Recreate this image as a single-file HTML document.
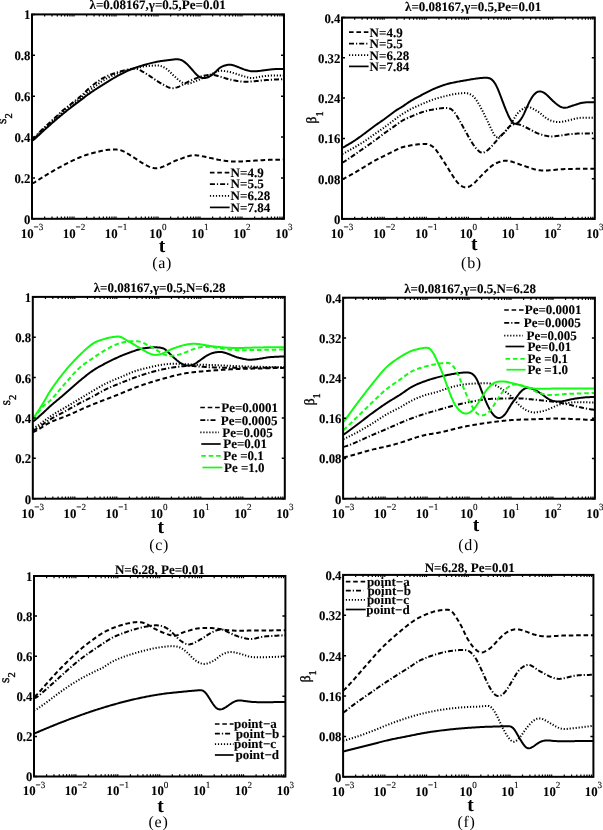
<!DOCTYPE html><html><head><meta charset="utf-8"><style>html,body{margin:0;padding:0;background:#fff;width:603px;height:830px;overflow:hidden}svg{display:block;filter:blur(0.45px)}text{text-rendering:geometricPrecision}</style></head><body>
<svg width="603" height="830" viewBox="0 0 603 830">
<style>.e{stroke:#000;stroke-width:0.1px;paint-order:stroke fill;stroke-linejoin:round}.e2{stroke:#000;stroke-width:0.35px;paint-order:stroke fill;stroke-linejoin:round}</style>
<rect width="603" height="830" fill="#fff"/>
<clipPath id="c0"><rect x="32.00" y="14.40" width="252.00" height="204.40"/></clipPath>
<g clip-path="url(#c0)">
<path d="M32.00 140.61 L33.00 140.14 L34.00 139.46 L35.00 138.63 L36.00 137.73 L37.00 136.79 L38.00 135.85 L39.00 134.91 L40.00 133.97 L41.00 133.03 L42.00 132.11 L43.00 131.19 L44.00 130.28 L45.00 129.37 L46.00 128.46 L47.00 127.56 L48.00 126.66 L49.00 125.77 L50.00 124.88 L51.00 124.00 L52.00 123.12 L53.00 122.25 L54.00 121.38 L55.00 120.52 L56.00 119.66 L57.00 118.81 L58.00 117.96 L59.00 117.12 L60.00 116.28 L61.00 115.45 L62.00 114.62 L63.00 113.80 L64.00 112.99 L65.00 112.18 L66.00 111.37 L67.00 110.57 L68.00 109.78 L69.00 108.99 L70.00 108.21 L71.00 107.43 L72.00 106.65 L73.00 105.89 L74.00 105.13 L75.00 104.37 L76.00 103.62 L77.00 102.88 L78.00 102.13 L79.00 101.39 L80.00 100.64 L81.00 99.89 L82.00 99.14 L83.00 98.37 L84.00 97.60 L85.00 96.82 L86.00 96.05 L87.00 95.29 L88.00 94.54 L89.00 93.82 L90.00 93.12 L91.00 92.43 L92.00 91.76 L93.00 91.09 L94.00 90.43 L95.00 89.78 L96.00 89.13 L97.00 88.49 L98.00 87.85 L99.00 87.21 L100.00 86.58 L101.00 85.95 L102.00 85.32 L103.00 84.69 L104.00 84.06 L105.00 83.43 L106.00 82.81 L107.00 82.18 L108.00 81.56 L109.00 80.94 L110.00 80.32 L111.00 79.71 L112.00 79.11 L113.00 78.51 L114.00 77.93 L115.00 77.35 L116.00 76.79 L117.00 76.23 L118.00 75.69 L119.00 75.15 L120.00 74.62 L121.00 74.09 L122.00 73.58 L123.00 73.07 L124.00 72.57 L125.00 72.09 L126.00 71.61 L127.00 71.15 L128.00 70.70 L129.00 70.26 L130.00 69.83 L131.00 69.42 L132.00 69.03 L133.00 68.64 L134.00 68.27 L135.00 67.91 L136.00 67.57 L137.00 67.23 L138.00 66.90 L139.00 66.57 L140.00 66.26 L141.00 65.94 L142.00 65.64 L143.00 65.33 L144.00 65.04 L145.00 64.74 L146.00 64.45 L147.00 64.17 L148.00 63.89 L149.00 63.62 L150.00 63.36 L151.00 63.11 L152.00 62.86 L153.00 62.63 L154.00 62.40 L155.00 62.18 L156.00 61.97 L157.00 61.78 L158.00 61.60 L159.00 61.42 L160.00 61.26 L161.00 61.11 L162.00 60.97 L163.00 60.83 L164.00 60.70 L165.00 60.57 L166.00 60.44 L167.00 60.32 L168.00 60.19 L169.00 60.07 L170.00 59.94 L171.00 59.81 L172.00 59.68 L173.00 59.55 L174.00 59.43 L175.00 59.34 L176.00 59.27 L177.00 59.25 L178.00 59.30 L179.00 59.42 L180.00 59.65 L181.00 59.98 L182.00 60.42 L183.00 60.97 L184.00 61.62 L185.00 62.37 L186.00 63.20 L187.00 64.10 L188.00 65.08 L189.00 66.11 L190.00 67.20 L191.00 68.33 L192.00 69.49 L193.00 70.65 L194.00 71.81 L195.00 72.95 L196.00 74.04 L197.00 75.02 L198.00 75.86 L199.00 76.56 L200.00 77.10 L201.00 77.52 L202.00 77.81 L203.00 77.99 L204.00 78.05 L205.00 77.99 L206.00 77.83 L207.00 77.57 L208.00 77.22 L209.00 76.77 L210.00 76.23 L211.00 75.59 L212.00 74.87 L213.00 74.07 L214.00 73.22 L215.00 72.31 L216.00 71.38 L217.00 70.43 L218.00 69.49 L219.00 68.60 L220.00 67.78 L221.00 67.10 L222.00 66.56 L223.00 66.13 L224.00 65.77 L225.00 65.46 L226.00 65.17 L227.00 64.93 L228.00 64.75 L229.00 64.64 L230.00 64.63 L231.00 64.72 L232.00 64.90 L233.00 65.16 L234.00 65.48 L235.00 65.84 L236.00 66.21 L237.00 66.60 L238.00 66.99 L239.00 67.39 L240.00 67.81 L241.00 68.24 L242.00 68.65 L243.00 69.05 L244.00 69.41 L245.00 69.73 L246.00 70.04 L247.00 70.32 L248.00 70.58 L249.00 70.81 L250.00 71.01 L251.00 71.16 L252.00 71.27 L253.00 71.33 L254.00 71.35 L255.00 71.33 L256.00 71.28 L257.00 71.20 L258.00 71.10 L259.00 70.99 L260.00 70.87 L261.00 70.74 L262.00 70.60 L263.00 70.46 L264.00 70.32 L265.00 70.19 L266.00 70.06 L267.00 69.93 L268.00 69.81 L269.00 69.68 L270.00 69.56 L271.00 69.44 L272.00 69.33 L273.00 69.23 L274.00 69.16 L275.00 69.11 L276.00 69.07 L277.00 69.06 L278.00 69.05 L279.00 69.05 L280.00 69.06 L281.00 69.07 L282.00 69.08 L283.00 69.09 L284.00 69.09" fill="none" stroke="#000" stroke-width="2.00"  stroke-linejoin="round"/>
<path d="M32.00 139.38 L33.00 138.72 L34.00 137.84 L35.00 136.85 L36.00 135.81 L37.00 134.78 L38.00 133.74 L39.00 132.72 L40.00 131.70 L41.00 130.71 L42.00 129.73 L43.00 128.77 L44.00 127.83 L45.00 126.91 L46.00 126.00 L47.00 125.10 L48.00 124.21 L49.00 123.32 L50.00 122.42 L51.00 121.51 L52.00 120.59 L53.00 119.66 L54.00 118.71 L55.00 117.76 L56.00 116.80 L57.00 115.85 L58.00 114.90 L59.00 113.96 L60.00 113.03 L61.00 112.12 L62.00 111.24 L63.00 110.38 L64.00 109.54 L65.00 108.71 L66.00 107.90 L67.00 107.10 L68.00 106.31 L69.00 105.52 L70.00 104.73 L71.00 103.94 L72.00 103.14 L73.00 102.35 L74.00 101.57 L75.00 100.78 L76.00 100.00 L77.00 99.21 L78.00 98.42 L79.00 97.62 L80.00 96.80 L81.00 95.95 L82.00 95.08 L83.00 94.17 L84.00 93.22 L85.00 92.25 L86.00 91.26 L87.00 90.27 L88.00 89.31 L89.00 88.38 L90.00 87.49 L91.00 86.64 L92.00 85.81 L93.00 85.02 L94.00 84.23 L95.00 83.47 L96.00 82.72 L97.00 81.99 L98.00 81.28 L99.00 80.59 L100.00 79.92 L101.00 79.29 L102.00 78.68 L103.00 78.10 L104.00 77.56 L105.00 77.05 L106.00 76.57 L107.00 76.11 L108.00 75.68 L109.00 75.27 L110.00 74.87 L111.00 74.50 L112.00 74.13 L113.00 73.78 L114.00 73.44 L115.00 73.10 L116.00 72.77 L117.00 72.45 L118.00 72.14 L119.00 71.84 L120.00 71.56 L121.00 71.28 L122.00 71.01 L123.00 70.76 L124.00 70.51 L125.00 70.27 L126.00 70.03 L127.00 69.80 L128.00 69.58 L129.00 69.37 L130.00 69.16 L131.00 68.96 L132.00 68.78 L133.00 68.63 L134.00 68.54 L135.00 68.55 L136.00 68.66 L137.00 68.89 L138.00 69.22 L139.00 69.65 L140.00 70.15 L141.00 70.70 L142.00 71.26 L143.00 71.84 L144.00 72.41 L145.00 73.00 L146.00 73.59 L147.00 74.20 L148.00 74.82 L149.00 75.47 L150.00 76.12 L151.00 76.80 L152.00 77.50 L153.00 78.20 L154.00 78.91 L155.00 79.60 L156.00 80.27 L157.00 80.93 L158.00 81.56 L159.00 82.17 L160.00 82.77 L161.00 83.36 L162.00 83.93 L163.00 84.49 L164.00 85.03 L165.00 85.57 L166.00 86.09 L167.00 86.59 L168.00 87.06 L169.00 87.49 L170.00 87.85 L171.00 88.10 L172.00 88.22 L173.00 88.20 L174.00 88.07 L175.00 87.88 L176.00 87.63 L177.00 87.34 L178.00 87.00 L179.00 86.62 L180.00 86.20 L181.00 85.73 L182.00 85.22 L183.00 84.68 L184.00 84.13 L185.00 83.56 L186.00 82.99 L187.00 82.44 L188.00 81.90 L189.00 81.38 L190.00 80.88 L191.00 80.41 L192.00 79.97 L193.00 79.53 L194.00 79.12 L195.00 78.71 L196.00 78.31 L197.00 77.93 L198.00 77.56 L199.00 77.20 L200.00 76.86 L201.00 76.53 L202.00 76.24 L203.00 75.98 L204.00 75.76 L205.00 75.56 L206.00 75.37 L207.00 75.20 L208.00 75.04 L209.00 74.91 L210.00 74.80 L211.00 74.75 L212.00 74.75 L213.00 74.82 L214.00 74.95 L215.00 75.15 L216.00 75.41 L217.00 75.69 L218.00 75.99 L219.00 76.29 L220.00 76.59 L221.00 76.89 L222.00 77.20 L223.00 77.51 L224.00 77.82 L225.00 78.13 L226.00 78.43 L227.00 78.72 L228.00 79.00 L229.00 79.26 L230.00 79.51 L231.00 79.74 L232.00 79.96 L233.00 80.18 L234.00 80.38 L235.00 80.58 L236.00 80.77 L237.00 80.94 L238.00 81.11 L239.00 81.25 L240.00 81.39 L241.00 81.50 L242.00 81.59 L243.00 81.66 L244.00 81.70 L245.00 81.72 L246.00 81.72 L247.00 81.69 L248.00 81.65 L249.00 81.60 L250.00 81.54 L251.00 81.48 L252.00 81.41 L253.00 81.34 L254.00 81.26 L255.00 81.17 L256.00 81.08 L257.00 80.98 L258.00 80.88 L259.00 80.77 L260.00 80.67 L261.00 80.57 L262.00 80.47 L263.00 80.37 L264.00 80.27 L265.00 80.18 L266.00 80.10 L267.00 80.02 L268.00 79.95 L269.00 79.88 L270.00 79.82 L271.00 79.76 L272.00 79.70 L273.00 79.65 L274.00 79.59 L275.00 79.54 L276.00 79.49 L277.00 79.44 L278.00 79.39 L279.00 79.34 L280.00 79.29 L281.00 79.25 L282.00 79.20 L283.00 79.16 L284.00 79.13" fill="none" stroke="#000" stroke-width="2.00" stroke-dasharray="5 2 1.2 2" stroke-linejoin="round"/>
<path d="M32.00 139.90 L33.00 139.26 L34.00 138.41 L35.00 137.44 L36.00 136.43 L37.00 135.42 L38.00 134.42 L39.00 133.43 L40.00 132.44 L41.00 131.47 L42.00 130.53 L43.00 129.60 L44.00 128.68 L45.00 127.79 L46.00 126.91 L47.00 126.04 L48.00 125.17 L49.00 124.31 L50.00 123.45 L51.00 122.58 L52.00 121.70 L53.00 120.83 L54.00 119.94 L55.00 119.06 L56.00 118.17 L57.00 117.28 L58.00 116.40 L59.00 115.52 L60.00 114.65 L61.00 113.78 L62.00 112.92 L63.00 112.07 L64.00 111.22 L65.00 110.37 L66.00 109.53 L67.00 108.70 L68.00 107.88 L69.00 107.06 L70.00 106.25 L71.00 105.45 L72.00 104.66 L73.00 103.89 L74.00 103.13 L75.00 102.38 L76.00 101.64 L77.00 100.91 L78.00 100.17 L79.00 99.43 L80.00 98.67 L81.00 97.90 L82.00 97.11 L83.00 96.29 L84.00 95.45 L85.00 94.59 L86.00 93.72 L87.00 92.85 L88.00 91.99 L89.00 91.15 L90.00 90.32 L91.00 89.51 L92.00 88.72 L93.00 87.94 L94.00 87.16 L95.00 86.38 L96.00 85.62 L97.00 84.87 L98.00 84.13 L99.00 83.40 L100.00 82.70 L101.00 82.01 L102.00 81.35 L103.00 80.71 L104.00 80.10 L105.00 79.51 L106.00 78.94 L107.00 78.39 L108.00 77.86 L109.00 77.34 L110.00 76.84 L111.00 76.36 L112.00 75.88 L113.00 75.42 L114.00 74.98 L115.00 74.54 L116.00 74.12 L117.00 73.71 L118.00 73.32 L119.00 72.95 L120.00 72.58 L121.00 72.24 L122.00 71.90 L123.00 71.58 L124.00 71.27 L125.00 70.97 L126.00 70.67 L127.00 70.39 L128.00 70.10 L129.00 69.82 L130.00 69.55 L131.00 69.28 L132.00 69.02 L133.00 68.76 L134.00 68.50 L135.00 68.26 L136.00 68.02 L137.00 67.79 L138.00 67.57 L139.00 67.36 L140.00 67.16 L141.00 66.97 L142.00 66.80 L143.00 66.63 L144.00 66.48 L145.00 66.35 L146.00 66.22 L147.00 66.11 L148.00 66.01 L149.00 65.91 L150.00 65.83 L151.00 65.75 L152.00 65.67 L153.00 65.60 L154.00 65.54 L155.00 65.48 L156.00 65.43 L157.00 65.40 L158.00 65.43 L159.00 65.55 L160.00 65.77 L161.00 66.07 L162.00 66.43 L163.00 66.85 L164.00 67.33 L165.00 67.88 L166.00 68.54 L167.00 69.29 L168.00 70.14 L169.00 71.07 L170.00 72.03 L171.00 73.01 L172.00 73.98 L173.00 74.93 L174.00 75.88 L175.00 76.81 L176.00 77.72 L177.00 78.60 L178.00 79.46 L179.00 80.29 L180.00 81.09 L181.00 81.84 L182.00 82.50 L183.00 83.05 L184.00 83.46 L185.00 83.73 L186.00 83.86 L187.00 83.86 L188.00 83.76 L189.00 83.57 L190.00 83.32 L191.00 83.02 L192.00 82.68 L193.00 82.30 L194.00 81.90 L195.00 81.49 L196.00 81.06 L197.00 80.62 L198.00 80.19 L199.00 79.75 L200.00 79.31 L201.00 78.87 L202.00 78.43 L203.00 77.99 L204.00 77.53 L205.00 77.08 L206.00 76.63 L207.00 76.17 L208.00 75.72 L209.00 75.26 L210.00 74.82 L211.00 74.38 L212.00 73.95 L213.00 73.51 L214.00 73.05 L215.00 72.57 L216.00 72.06 L217.00 71.59 L218.00 71.22 L219.00 70.98 L220.00 70.86 L221.00 70.83 L222.00 70.86 L223.00 70.92 L224.00 71.01 L225.00 71.13 L226.00 71.28 L227.00 71.44 L228.00 71.62 L229.00 71.83 L230.00 72.05 L231.00 72.30 L232.00 72.57 L233.00 72.85 L234.00 73.15 L235.00 73.47 L236.00 73.79 L237.00 74.11 L238.00 74.44 L239.00 74.77 L240.00 75.10 L241.00 75.43 L242.00 75.75 L243.00 76.06 L244.00 76.36 L245.00 76.66 L246.00 76.96 L247.00 77.25 L248.00 77.52 L249.00 77.73 L250.00 77.88 L251.00 77.95 L252.00 77.95 L253.00 77.90 L254.00 77.81 L255.00 77.69 L256.00 77.54 L257.00 77.38 L258.00 77.21 L259.00 77.03 L260.00 76.85 L261.00 76.68 L262.00 76.51 L263.00 76.34 L264.00 76.19 L265.00 76.06 L266.00 75.94 L267.00 75.84 L268.00 75.76 L269.00 75.69 L270.00 75.64 L271.00 75.60 L272.00 75.56 L273.00 75.53 L274.00 75.51 L275.00 75.49 L276.00 75.47 L277.00 75.46 L278.00 75.45 L279.00 75.44 L280.00 75.44 L281.00 75.43 L282.00 75.42 L283.00 75.41 L284.00 75.41" fill="none" stroke="#000" stroke-width="2.00" stroke-dasharray="1.2 1.8" stroke-linejoin="round"/>
<path d="M32.00 183.45 L33.00 183.09 L34.00 182.60 L35.00 182.03 L36.00 181.41 L37.00 180.78 L38.00 180.15 L39.00 179.52 L40.00 178.89 L41.00 178.26 L42.00 177.64 L43.00 177.01 L44.00 176.40 L45.00 175.79 L46.00 175.18 L47.00 174.58 L48.00 173.98 L49.00 173.38 L50.00 172.79 L51.00 172.20 L52.00 171.61 L53.00 171.03 L54.00 170.45 L55.00 169.87 L56.00 169.30 L57.00 168.74 L58.00 168.18 L59.00 167.63 L60.00 167.08 L61.00 166.54 L62.00 166.00 L63.00 165.46 L64.00 164.93 L65.00 164.41 L66.00 163.89 L67.00 163.37 L68.00 162.87 L69.00 162.37 L70.00 161.88 L71.00 161.39 L72.00 160.91 L73.00 160.44 L74.00 159.97 L75.00 159.51 L76.00 159.05 L77.00 158.60 L78.00 158.15 L79.00 157.72 L80.00 157.29 L81.00 156.88 L82.00 156.48 L83.00 156.09 L84.00 155.71 L85.00 155.35 L86.00 155.01 L87.00 154.69 L88.00 154.37 L89.00 154.08 L90.00 153.79 L91.00 153.52 L92.00 153.25 L93.00 152.99 L94.00 152.74 L95.00 152.50 L96.00 152.25 L97.00 152.01 L98.00 151.77 L99.00 151.53 L100.00 151.29 L101.00 151.06 L102.00 150.83 L103.00 150.62 L104.00 150.41 L105.00 150.23 L106.00 150.07 L107.00 149.94 L108.00 149.82 L109.00 149.73 L110.00 149.65 L111.00 149.59 L112.00 149.54 L113.00 149.51 L114.00 149.49 L115.00 149.50 L116.00 149.52 L117.00 149.58 L118.00 149.68 L119.00 149.83 L120.00 150.04 L121.00 150.33 L122.00 150.69 L123.00 151.12 L124.00 151.60 L125.00 152.12 L126.00 152.66 L127.00 153.22 L128.00 153.81 L129.00 154.42 L130.00 155.04 L131.00 155.66 L132.00 156.30 L133.00 156.94 L134.00 157.59 L135.00 158.24 L136.00 158.90 L137.00 159.57 L138.00 160.25 L139.00 160.93 L140.00 161.60 L141.00 162.25 L142.00 162.87 L143.00 163.47 L144.00 164.04 L145.00 164.60 L146.00 165.13 L147.00 165.64 L148.00 166.12 L149.00 166.56 L150.00 166.97 L151.00 167.33 L152.00 167.64 L153.00 167.90 L154.00 168.10 L155.00 168.22 L156.00 168.26 L157.00 168.22 L158.00 168.10 L159.00 167.92 L160.00 167.67 L161.00 167.38 L162.00 167.04 L163.00 166.68 L164.00 166.28 L165.00 165.87 L166.00 165.42 L167.00 164.94 L168.00 164.44 L169.00 163.92 L170.00 163.39 L171.00 162.86 L172.00 162.34 L173.00 161.85 L174.00 161.38 L175.00 160.94 L176.00 160.53 L177.00 160.15 L178.00 159.79 L179.00 159.44 L180.00 159.10 L181.00 158.74 L182.00 158.37 L183.00 157.97 L184.00 157.55 L185.00 157.13 L186.00 156.75 L187.00 156.42 L188.00 156.15 L189.00 155.93 L190.00 155.74 L191.00 155.58 L192.00 155.45 L193.00 155.35 L194.00 155.30 L195.00 155.28 L196.00 155.31 L197.00 155.38 L198.00 155.49 L199.00 155.63 L200.00 155.79 L201.00 155.97 L202.00 156.17 L203.00 156.38 L204.00 156.60 L205.00 156.82 L206.00 157.05 L207.00 157.27 L208.00 157.49 L209.00 157.71 L210.00 157.92 L211.00 158.13 L212.00 158.35 L213.00 158.57 L214.00 158.80 L215.00 159.02 L216.00 159.24 L217.00 159.46 L218.00 159.66 L219.00 159.86 L220.00 160.04 L221.00 160.21 L222.00 160.37 L223.00 160.52 L224.00 160.66 L225.00 160.79 L226.00 160.92 L227.00 161.04 L228.00 161.15 L229.00 161.25 L230.00 161.34 L231.00 161.42 L232.00 161.48 L233.00 161.53 L234.00 161.57 L235.00 161.59 L236.00 161.59 L237.00 161.58 L238.00 161.56 L239.00 161.53 L240.00 161.49 L241.00 161.44 L242.00 161.38 L243.00 161.32 L244.00 161.26 L245.00 161.20 L246.00 161.13 L247.00 161.06 L248.00 161.00 L249.00 160.94 L250.00 160.88 L251.00 160.82 L252.00 160.76 L253.00 160.71 L254.00 160.65 L255.00 160.59 L256.00 160.53 L257.00 160.48 L258.00 160.42 L259.00 160.36 L260.00 160.30 L261.00 160.24 L262.00 160.18 L263.00 160.13 L264.00 160.08 L265.00 160.03 L266.00 159.98 L267.00 159.94 L268.00 159.90 L269.00 159.87 L270.00 159.84 L271.00 159.81 L272.00 159.79 L273.00 159.76 L274.00 159.74 L275.00 159.73 L276.00 159.71 L277.00 159.69 L278.00 159.68 L279.00 159.67 L280.00 159.65 L281.00 159.64 L282.00 159.63 L283.00 159.62 L284.00 159.61" fill="none" stroke="#000" stroke-width="2.00" stroke-dasharray="4.6 2.8" stroke-linejoin="round"/>
</g>
<path d="M44.64 218.80 V216.60 M44.64 14.40 V16.60 M52.04 218.80 V216.60 M52.04 14.40 V16.60 M57.29 218.80 V216.60 M57.29 14.40 V16.60 M61.36 218.80 V216.60 M61.36 14.40 V16.60 M64.68 218.80 V216.60 M64.68 14.40 V16.60 M67.49 218.80 V216.60 M67.49 14.40 V16.60 M69.93 218.80 V216.60 M69.93 14.40 V16.60 M72.08 218.80 V216.60 M72.08 14.40 V16.60 M74.00 218.80 V216.60 M74.00 14.40 V16.60 M86.64 218.80 V216.60 M86.64 14.40 V16.60 M94.04 218.80 V216.60 M94.04 14.40 V16.60 M99.29 218.80 V216.60 M99.29 14.40 V16.60 M103.36 218.80 V216.60 M103.36 14.40 V16.60 M106.68 218.80 V216.60 M106.68 14.40 V16.60 M109.49 218.80 V216.60 M109.49 14.40 V16.60 M111.93 218.80 V216.60 M111.93 14.40 V16.60 M114.08 218.80 V216.60 M114.08 14.40 V16.60 M116.00 218.80 V216.60 M116.00 14.40 V16.60 M128.64 218.80 V216.60 M128.64 14.40 V16.60 M136.04 218.80 V216.60 M136.04 14.40 V16.60 M141.29 218.80 V216.60 M141.29 14.40 V16.60 M145.36 218.80 V216.60 M145.36 14.40 V16.60 M148.68 218.80 V216.60 M148.68 14.40 V16.60 M151.49 218.80 V216.60 M151.49 14.40 V16.60 M153.93 218.80 V216.60 M153.93 14.40 V16.60 M156.08 218.80 V216.60 M156.08 14.40 V16.60 M158.00 218.80 V216.60 M158.00 14.40 V16.60 M170.64 218.80 V216.60 M170.64 14.40 V16.60 M178.04 218.80 V216.60 M178.04 14.40 V16.60 M183.29 218.80 V216.60 M183.29 14.40 V16.60 M187.36 218.80 V216.60 M187.36 14.40 V16.60 M190.68 218.80 V216.60 M190.68 14.40 V16.60 M193.49 218.80 V216.60 M193.49 14.40 V16.60 M195.93 218.80 V216.60 M195.93 14.40 V16.60 M198.08 218.80 V216.60 M198.08 14.40 V16.60 M200.00 218.80 V216.60 M200.00 14.40 V16.60 M212.64 218.80 V216.60 M212.64 14.40 V16.60 M220.04 218.80 V216.60 M220.04 14.40 V16.60 M225.29 218.80 V216.60 M225.29 14.40 V16.60 M229.36 218.80 V216.60 M229.36 14.40 V16.60 M232.68 218.80 V216.60 M232.68 14.40 V16.60 M235.49 218.80 V216.60 M235.49 14.40 V16.60 M237.93 218.80 V216.60 M237.93 14.40 V16.60 M240.08 218.80 V216.60 M240.08 14.40 V16.60 M242.00 218.80 V216.60 M242.00 14.40 V16.60 M254.64 218.80 V216.60 M254.64 14.40 V16.60 M262.04 218.80 V216.60 M262.04 14.40 V16.60 M267.29 218.80 V216.60 M267.29 14.40 V16.60 M271.36 218.80 V216.60 M271.36 14.40 V16.60 M274.68 218.80 V216.60 M274.68 14.40 V16.60 M277.49 218.80 V216.60 M277.49 14.40 V16.60 M279.93 218.80 V216.60 M279.93 14.40 V16.60 M282.08 218.80 V216.60 M282.08 14.40 V16.60" stroke="#000" stroke-width="1.2" fill="none"/>
<path d="M32.00 218.80 H35.00 M284.00 218.80 H281.00 M32.00 177.92 H35.00 M284.00 177.92 H281.00 M32.00 137.04 H35.00 M284.00 137.04 H281.00 M32.00 96.16 H35.00 M284.00 96.16 H281.00 M32.00 55.28 H35.00 M284.00 55.28 H281.00 M32.00 14.40 H35.00 M284.00 14.40 H281.00" stroke="#000" stroke-width="1.5" fill="none"/>
<rect x="32.00" y="14.40" width="252.00" height="204.40" fill="none" stroke="#000" stroke-width="2.00"/>
<text transform="translate(30.40 223.70) scale(0.970 1)" text-anchor="end" font-family='"Liberation Serif", serif' font-weight="bold" class="e" font-size="13.2">0</text>
<text transform="translate(30.40 182.82) scale(0.970 1)" text-anchor="end" font-family='"Liberation Serif", serif' font-weight="bold" class="e" font-size="13.2">0.2</text>
<text transform="translate(30.40 141.94) scale(0.970 1)" text-anchor="end" font-family='"Liberation Serif", serif' font-weight="bold" class="e" font-size="13.2">0.4</text>
<text transform="translate(30.40 101.06) scale(0.970 1)" text-anchor="end" font-family='"Liberation Serif", serif' font-weight="bold" class="e" font-size="13.2">0.6</text>
<text transform="translate(30.40 60.18) scale(0.970 1)" text-anchor="end" font-family='"Liberation Serif", serif' font-weight="bold" class="e" font-size="13.2">0.8</text>
<text transform="translate(30.40 19.30) scale(0.970 1)" text-anchor="end" font-family='"Liberation Serif", serif' font-weight="bold" class="e" font-size="13.2">1</text>
<text transform="translate(32.00 237.60) scale(0.970 1)" text-anchor="middle" font-family='"Liberation Serif", serif' font-weight="bold" class="e" font-size="13.2">10<tspan dy="-7.6" font-size="9.4" font-weight="normal">−3</tspan></text>
<text transform="translate(74.00 237.60) scale(0.970 1)" text-anchor="middle" font-family='"Liberation Serif", serif' font-weight="bold" class="e" font-size="13.2">10<tspan dy="-7.6" font-size="9.4" font-weight="normal">−2</tspan></text>
<text transform="translate(116.00 237.60) scale(0.970 1)" text-anchor="middle" font-family='"Liberation Serif", serif' font-weight="bold" class="e" font-size="13.2">10<tspan dy="-7.6" font-size="9.4" font-weight="normal">−1</tspan></text>
<text transform="translate(158.00 237.60) scale(0.970 1)" text-anchor="middle" font-family='"Liberation Serif", serif' font-weight="bold" class="e" font-size="13.2">10<tspan dy="-7.6" font-size="9.4" font-weight="normal">0</tspan></text>
<text transform="translate(200.00 237.60) scale(0.970 1)" text-anchor="middle" font-family='"Liberation Serif", serif' font-weight="bold" class="e" font-size="13.2">10<tspan dy="-7.6" font-size="9.4" font-weight="normal">1</tspan></text>
<text transform="translate(242.00 237.60) scale(0.970 1)" text-anchor="middle" font-family='"Liberation Serif", serif' font-weight="bold" class="e" font-size="13.2">10<tspan dy="-7.6" font-size="9.4" font-weight="normal">2</tspan></text>
<text transform="translate(284.00 237.60) scale(0.970 1)" text-anchor="middle" font-family='"Liberation Serif", serif' font-weight="bold" class="e" font-size="13.2">10<tspan dy="-7.6" font-size="9.4" font-weight="normal">3</tspan></text>
<text x="157.60" y="8.60" text-anchor="middle" font-family='"Liberation Serif", serif' font-weight="bold" class="e" font-size="13.0">λ=0.08167,γ=0.5,Pe=0.01</text>
<text x="161.90" y="252.20" text-anchor="middle" font-family='"Liberation Serif", serif' font-weight="bold" font-size="19.5">t</text>
<text x="162.20" y="267.50" text-anchor="middle" letter-spacing="0.7" font-family='"Liberation Serif", serif' font-size="16.0">(a)</text>
<text transform="translate(5.80 123.90) rotate(-90)" x="0" y="0" class="e2" font-family='"Liberation Serif", serif' font-size="14.0">s<tspan dy="6.2" font-size="10.5">2</tspan></text>
<path d="M209.90 172.60 H229.60" fill="none" stroke="#000" stroke-width="1.70" stroke-dasharray="4.6 2.8" stroke-linejoin="round"/>
<text x="230.60" y="176.80" font-family='"Liberation Serif", serif' font-weight="bold" class="e" font-size="13.0">N=4.9</text>
<path d="M209.90 184.20 H229.60" fill="none" stroke="#000" stroke-width="1.70" stroke-dasharray="5 2 1.2 2" stroke-linejoin="round"/>
<text x="230.60" y="188.40" font-family='"Liberation Serif", serif' font-weight="bold" class="e" font-size="13.0">N=5.5</text>
<path d="M209.90 195.80 H229.60" fill="none" stroke="#000" stroke-width="1.70" stroke-dasharray="1.2 1.8" stroke-linejoin="round"/>
<text x="230.60" y="200.00" font-family='"Liberation Serif", serif' font-weight="bold" class="e" font-size="13.0">N=6.28</text>
<path d="M209.90 207.40 H229.60" fill="none" stroke="#000" stroke-width="1.70"  stroke-linejoin="round"/>
<text x="230.60" y="211.60" font-family='"Liberation Serif", serif' font-weight="bold" class="e" font-size="13.0">N=7.84</text>
<clipPath id="c1"><rect x="342.00" y="17.60" width="252.80" height="201.30"/></clipPath>
<g clip-path="url(#c1)">
<path d="M342.20 147.66 L343.20 147.30 L344.20 146.83 L345.20 146.29 L346.20 145.72 L347.20 145.15 L348.20 144.57 L349.20 143.99 L350.20 143.39 L351.20 142.78 L352.20 142.16 L353.20 141.52 L354.20 140.87 L355.20 140.21 L356.20 139.53 L357.20 138.84 L358.20 138.14 L359.20 137.44 L360.20 136.73 L361.20 136.01 L362.20 135.29 L363.20 134.56 L364.20 133.82 L365.20 133.08 L366.20 132.32 L367.20 131.56 L368.20 130.79 L369.20 130.02 L370.20 129.25 L371.20 128.49 L372.20 127.73 L373.20 126.97 L374.20 126.24 L375.20 125.51 L376.20 124.80 L377.20 124.09 L378.20 123.40 L379.20 122.71 L380.20 122.02 L381.20 121.34 L382.20 120.65 L383.20 119.95 L384.20 119.24 L385.20 118.53 L386.20 117.80 L387.20 117.06 L388.20 116.31 L389.20 115.55 L390.20 114.79 L391.20 114.03 L392.20 113.27 L393.20 112.51 L394.20 111.77 L395.20 111.04 L396.20 110.35 L397.20 109.69 L398.20 109.08 L399.20 108.50 L400.20 107.93 L401.20 107.34 L402.20 106.72 L403.20 106.06 L404.20 105.38 L405.20 104.68 L406.20 103.98 L407.20 103.28 L408.20 102.60 L409.20 101.94 L410.20 101.30 L411.20 100.69 L412.20 100.10 L413.20 99.53 L414.20 98.97 L415.20 98.42 L416.20 97.89 L417.20 97.36 L418.20 96.83 L419.20 96.31 L420.20 95.78 L421.20 95.26 L422.20 94.73 L423.20 94.21 L424.20 93.68 L425.20 93.15 L426.20 92.63 L427.20 92.11 L428.20 91.59 L429.20 91.09 L430.20 90.60 L431.20 90.12 L432.20 89.65 L433.20 89.20 L434.20 88.76 L435.20 88.33 L436.20 87.90 L437.20 87.49 L438.20 87.10 L439.20 86.71 L440.20 86.33 L441.20 85.97 L442.20 85.62 L443.20 85.28 L444.20 84.96 L445.20 84.65 L446.20 84.36 L447.20 84.08 L448.20 83.82 L449.20 83.56 L450.20 83.32 L451.20 83.08 L452.20 82.85 L453.20 82.63 L454.20 82.41 L455.20 82.20 L456.20 82.00 L457.20 81.80 L458.20 81.61 L459.20 81.43 L460.20 81.26 L461.20 81.08 L462.20 80.91 L463.20 80.74 L464.20 80.57 L465.20 80.40 L466.20 80.23 L467.20 80.05 L468.20 79.88 L469.20 79.71 L470.20 79.53 L471.20 79.36 L472.20 79.19 L473.20 79.03 L474.20 78.87 L475.20 78.72 L476.20 78.58 L477.20 78.45 L478.20 78.33 L479.20 78.21 L480.20 78.11 L481.20 78.02 L482.20 77.93 L483.20 77.86 L484.20 77.79 L485.20 77.74 L486.20 77.73 L487.20 77.78 L488.20 77.91 L489.20 78.16 L490.20 78.55 L491.20 79.14 L492.20 79.95 L493.20 80.99 L494.20 82.27 L495.20 83.78 L496.20 85.56 L497.20 87.63 L498.20 89.93 L499.20 92.41 L500.20 94.99 L501.20 97.63 L502.20 100.29 L503.20 102.96 L504.20 105.59 L505.20 108.14 L506.20 110.61 L507.20 112.97 L508.20 115.20 L509.20 117.28 L510.20 119.15 L511.20 120.76 L512.20 122.08 L513.20 123.04 L514.20 123.62 L515.20 123.82 L516.20 123.65 L517.20 123.16 L518.20 122.42 L519.20 121.45 L520.20 120.25 L521.20 118.83 L522.20 117.21 L523.20 115.38 L524.20 113.37 L525.20 111.19 L526.20 108.91 L527.20 106.62 L528.20 104.40 L529.20 102.32 L530.20 100.39 L531.20 98.62 L532.20 97.03 L533.20 95.63 L534.20 94.44 L535.20 93.44 L536.20 92.62 L537.20 92.01 L538.20 91.61 L539.20 91.43 L540.20 91.44 L541.20 91.60 L542.20 91.89 L543.20 92.32 L544.20 92.87 L545.20 93.56 L546.20 94.37 L547.20 95.29 L548.20 96.27 L549.20 97.29 L550.20 98.30 L551.20 99.30 L552.20 100.26 L553.20 101.19 L554.20 102.08 L555.20 102.95 L556.20 103.78 L557.20 104.57 L558.20 105.30 L559.20 105.95 L560.20 106.53 L561.20 107.02 L562.20 107.40 L563.20 107.65 L564.20 107.76 L565.20 107.75 L566.20 107.63 L567.20 107.42 L568.20 107.14 L569.20 106.82 L570.20 106.48 L571.20 106.14 L572.20 105.80 L573.20 105.47 L574.20 105.15 L575.20 104.83 L576.20 104.51 L577.20 104.18 L578.20 103.87 L579.20 103.57 L580.20 103.29 L581.20 103.05 L582.20 102.84 L583.20 102.66 L584.20 102.53 L585.20 102.44 L586.20 102.37 L587.20 102.33 L588.20 102.30 L589.20 102.29 L590.20 102.28 L591.20 102.28 L592.20 102.29 L593.20 102.30 L594.20 102.30 L594.80 102.30" fill="none" stroke="#000" stroke-width="2.00"  stroke-linejoin="round"/>
<path d="M342.20 153.87 L343.20 153.53 L344.20 153.06 L345.20 152.54 L346.20 152.00 L347.20 151.44 L348.20 150.89 L349.20 150.33 L350.20 149.77 L351.20 149.21 L352.20 148.64 L353.20 148.07 L354.20 147.49 L355.20 146.92 L356.20 146.34 L357.20 145.76 L358.20 145.17 L359.20 144.58 L360.20 143.98 L361.20 143.36 L362.20 142.74 L363.20 142.11 L364.20 141.45 L365.20 140.79 L366.20 140.10 L367.20 139.41 L368.20 138.70 L369.20 137.99 L370.20 137.27 L371.20 136.56 L372.20 135.84 L373.20 135.13 L374.20 134.42 L375.20 133.72 L376.20 133.02 L377.20 132.33 L378.20 131.64 L379.20 130.95 L380.20 130.26 L381.20 129.57 L382.20 128.87 L383.20 128.17 L384.20 127.45 L385.20 126.73 L386.20 126.00 L387.20 125.26 L388.20 124.51 L389.20 123.75 L390.20 122.98 L391.20 122.22 L392.20 121.45 L393.20 120.68 L394.20 119.92 L395.20 119.16 L396.20 118.41 L397.20 117.66 L398.20 116.93 L399.20 116.21 L400.20 115.51 L401.20 114.84 L402.20 114.19 L403.20 113.55 L404.20 112.92 L405.20 112.30 L406.20 111.70 L407.20 111.10 L408.20 110.53 L409.20 109.97 L410.20 109.44 L411.20 108.92 L412.20 108.42 L413.20 107.94 L414.20 107.48 L415.20 107.02 L416.20 106.57 L417.20 106.14 L418.20 105.70 L419.20 105.27 L420.20 104.84 L421.20 104.41 L422.20 103.98 L423.20 103.56 L424.20 103.13 L425.20 102.70 L426.20 102.28 L427.20 101.86 L428.20 101.45 L429.20 101.05 L430.20 100.66 L431.20 100.29 L432.20 99.92 L433.20 99.57 L434.20 99.24 L435.20 98.92 L436.20 98.61 L437.20 98.31 L438.20 98.02 L439.20 97.74 L440.20 97.46 L441.20 97.19 L442.20 96.92 L443.20 96.66 L444.20 96.40 L445.20 96.14 L446.20 95.89 L447.20 95.65 L448.20 95.41 L449.20 95.17 L450.20 94.95 L451.20 94.72 L452.20 94.51 L453.20 94.31 L454.20 94.12 L455.20 93.95 L456.20 93.79 L457.20 93.66 L458.20 93.55 L459.20 93.45 L460.20 93.36 L461.20 93.27 L462.20 93.18 L463.20 93.10 L464.20 93.05 L465.20 93.04 L466.20 93.10 L467.20 93.25 L468.20 93.50 L469.20 93.84 L470.20 94.28 L471.20 94.84 L472.20 95.52 L473.20 96.34 L474.20 97.33 L475.20 98.49 L476.20 99.84 L477.20 101.34 L478.20 102.97 L479.20 104.72 L480.20 106.54 L481.20 108.41 L482.20 110.33 L483.20 112.27 L484.20 114.26 L485.20 116.28 L486.20 118.33 L487.20 120.42 L488.20 122.55 L489.20 124.72 L490.20 126.90 L491.20 129.06 L492.20 131.15 L493.20 133.10 L494.20 134.80 L495.20 136.12 L496.20 136.95 L497.20 137.29 L498.20 137.22 L499.20 136.86 L500.20 136.31 L501.20 135.62 L502.20 134.79 L503.20 133.85 L504.20 132.84 L505.20 131.78 L506.20 130.69 L507.20 129.55 L508.20 128.33 L509.20 126.98 L510.20 125.48 L511.20 123.82 L512.20 122.05 L513.20 120.23 L514.20 118.42 L515.20 116.72 L516.20 115.16 L517.20 113.81 L518.20 112.65 L519.20 111.67 L520.20 110.82 L521.20 110.07 L522.20 109.39 L523.20 108.74 L524.20 108.12 L525.20 107.56 L526.20 107.14 L527.20 106.94 L528.20 106.97 L529.20 107.19 L530.20 107.53 L531.20 107.94 L532.20 108.40 L533.20 108.90 L534.20 109.42 L535.20 109.96 L536.20 110.53 L537.20 111.13 L538.20 111.77 L539.20 112.47 L540.20 113.23 L541.20 114.06 L542.20 114.91 L543.20 115.76 L544.20 116.57 L545.20 117.33 L546.20 118.03 L547.20 118.68 L548.20 119.28 L549.20 119.83 L550.20 120.32 L551.20 120.74 L552.20 121.09 L553.20 121.37 L554.20 121.59 L555.20 121.76 L556.20 121.88 L557.20 121.96 L558.20 122.01 L559.20 122.01 L560.20 121.98 L561.20 121.90 L562.20 121.78 L563.20 121.61 L564.20 121.41 L565.20 121.18 L566.20 120.93 L567.20 120.68 L568.20 120.44 L569.20 120.20 L570.20 119.96 L571.20 119.72 L572.20 119.47 L573.20 119.22 L574.20 118.97 L575.20 118.73 L576.20 118.51 L577.20 118.31 L578.20 118.13 L579.20 117.99 L580.20 117.87 L581.20 117.78 L582.20 117.71 L583.20 117.67 L584.20 117.65 L585.20 117.63 L586.20 117.63 L587.20 117.64 L588.20 117.65 L589.20 117.67 L590.20 117.69 L591.20 117.72 L592.20 117.74 L593.20 117.77 L594.20 117.78 L594.80 117.79" fill="none" stroke="#000" stroke-width="2.00" stroke-dasharray="1.2 1.8" stroke-linejoin="round"/>
<path d="M342.20 162.60 L343.20 162.19 L344.20 161.63 L345.20 160.99 L346.20 160.34 L347.20 159.67 L348.20 159.00 L349.20 158.33 L350.20 157.66 L351.20 156.98 L352.20 156.30 L353.20 155.62 L354.20 154.93 L355.20 154.24 L356.20 153.55 L357.20 152.85 L358.20 152.16 L359.20 151.46 L360.20 150.76 L361.20 150.05 L362.20 149.35 L363.20 148.65 L364.20 147.95 L365.20 147.25 L366.20 146.56 L367.20 145.86 L368.20 145.16 L369.20 144.46 L370.20 143.76 L371.20 143.06 L372.20 142.35 L373.20 141.63 L374.20 140.91 L375.20 140.18 L376.20 139.43 L377.20 138.68 L378.20 137.93 L379.20 137.17 L380.20 136.40 L381.20 135.64 L382.20 134.88 L383.20 134.13 L384.20 133.39 L385.20 132.66 L386.20 131.94 L387.20 131.23 L388.20 130.52 L389.20 129.83 L390.20 129.13 L391.20 128.45 L392.20 127.76 L393.20 127.07 L394.20 126.38 L395.20 125.68 L396.20 124.97 L397.20 124.24 L398.20 123.49 L399.20 122.74 L400.20 122.03 L401.20 121.36 L402.20 120.75 L403.20 120.19 L404.20 119.68 L405.20 119.19 L406.20 118.72 L407.20 118.27 L408.20 117.83 L409.20 117.39 L410.20 116.96 L411.20 116.53 L412.20 116.09 L413.20 115.66 L414.20 115.23 L415.20 114.81 L416.20 114.39 L417.20 113.98 L418.20 113.59 L419.20 113.20 L420.20 112.84 L421.20 112.49 L422.20 112.16 L423.20 111.85 L424.20 111.56 L425.20 111.28 L426.20 111.01 L427.20 110.76 L428.20 110.53 L429.20 110.30 L430.20 110.08 L431.20 109.87 L432.20 109.67 L433.20 109.48 L434.20 109.29 L435.20 109.12 L436.20 108.95 L437.20 108.79 L438.20 108.64 L439.20 108.50 L440.20 108.37 L441.20 108.24 L442.20 108.14 L443.20 108.04 L444.20 107.98 L445.20 107.95 L446.20 107.96 L447.20 108.03 L448.20 108.16 L449.20 108.37 L450.20 108.71 L451.20 109.23 L452.20 109.97 L453.20 110.94 L454.20 112.09 L455.20 113.41 L456.20 114.86 L457.20 116.44 L458.20 118.14 L459.20 119.91 L460.20 121.72 L461.20 123.53 L462.20 125.33 L463.20 127.13 L464.20 128.93 L465.20 130.73 L466.20 132.54 L467.20 134.35 L468.20 136.16 L469.20 137.95 L470.20 139.68 L471.20 141.36 L472.20 142.96 L473.20 144.49 L474.20 145.93 L475.20 147.27 L476.20 148.50 L477.20 149.60 L478.20 150.57 L479.20 151.40 L480.20 152.05 L481.20 152.49 L482.20 152.68 L483.20 152.62 L484.20 152.32 L485.20 151.82 L486.20 151.19 L487.20 150.46 L488.20 149.65 L489.20 148.77 L490.20 147.82 L491.20 146.80 L492.20 145.73 L493.20 144.62 L494.20 143.45 L495.20 142.25 L496.20 141.04 L497.20 139.85 L498.20 138.70 L499.20 137.61 L500.20 136.56 L501.20 135.54 L502.20 134.54 L503.20 133.52 L504.20 132.45 L505.20 131.32 L506.20 130.11 L507.20 128.88 L508.20 127.72 L509.20 126.71 L510.20 125.91 L511.20 125.30 L512.20 124.85 L513.20 124.52 L514.20 124.29 L515.20 124.15 L516.20 124.10 L517.20 124.14 L518.20 124.28 L519.20 124.53 L520.20 124.85 L521.20 125.24 L522.20 125.66 L523.20 126.10 L524.20 126.55 L525.20 127.02 L526.20 127.50 L527.20 127.99 L528.20 128.50 L529.20 129.02 L530.20 129.54 L531.20 130.07 L532.20 130.61 L533.20 131.16 L534.20 131.71 L535.20 132.24 L536.20 132.72 L537.20 133.16 L538.20 133.56 L539.20 133.91 L540.20 134.24 L541.20 134.55 L542.20 134.85 L543.20 135.12 L544.20 135.38 L545.20 135.62 L546.20 135.84 L547.20 136.03 L548.20 136.19 L549.20 136.32 L550.20 136.40 L551.20 136.45 L552.20 136.44 L553.20 136.40 L554.20 136.32 L555.20 136.21 L556.20 136.09 L557.20 135.96 L558.20 135.84 L559.20 135.71 L560.20 135.58 L561.20 135.44 L562.20 135.29 L563.20 135.13 L564.20 134.97 L565.20 134.81 L566.20 134.65 L567.20 134.50 L568.20 134.36 L569.20 134.23 L570.20 134.11 L571.20 134.00 L572.20 133.91 L573.20 133.83 L574.20 133.76 L575.20 133.71 L576.20 133.66 L577.20 133.62 L578.20 133.59 L579.20 133.56 L580.20 133.53 L581.20 133.50 L582.20 133.48 L583.20 133.46 L584.20 133.45 L585.20 133.43 L586.20 133.41 L587.20 133.40 L588.20 133.39 L589.20 133.38 L590.20 133.36 L591.20 133.35 L592.20 133.34 L593.20 133.33 L594.20 133.32 L594.80 133.31" fill="none" stroke="#000" stroke-width="2.00" stroke-dasharray="5 2 1.2 2" stroke-linejoin="round"/>
<path d="M342.20 179.19 L343.20 178.85 L344.20 178.41 L345.20 177.91 L346.20 177.38 L347.20 176.85 L348.20 176.32 L349.20 175.78 L350.20 175.23 L351.20 174.68 L352.20 174.13 L353.20 173.56 L354.20 172.99 L355.20 172.40 L356.20 171.81 L357.20 171.22 L358.20 170.62 L359.20 170.02 L360.20 169.41 L361.20 168.81 L362.20 168.20 L363.20 167.60 L364.20 166.99 L365.20 166.39 L366.20 165.77 L367.20 165.16 L368.20 164.54 L369.20 163.93 L370.20 163.32 L371.20 162.72 L372.20 162.13 L373.20 161.55 L374.20 160.98 L375.20 160.43 L376.20 159.90 L377.20 159.38 L378.20 158.86 L379.20 158.36 L380.20 157.86 L381.20 157.37 L382.20 156.88 L383.20 156.39 L384.20 155.89 L385.20 155.40 L386.20 154.90 L387.20 154.40 L388.20 153.89 L389.20 153.39 L390.20 152.89 L391.20 152.39 L392.20 151.89 L393.20 151.39 L394.20 150.89 L395.20 150.39 L396.20 149.88 L397.20 149.37 L398.20 148.87 L399.20 148.40 L400.20 147.98 L401.20 147.62 L402.20 147.31 L403.20 147.04 L404.20 146.78 L405.20 146.54 L406.20 146.32 L407.20 146.10 L408.20 145.90 L409.20 145.70 L410.20 145.52 L411.20 145.34 L412.20 145.18 L413.20 145.02 L414.20 144.87 L415.20 144.73 L416.20 144.60 L417.20 144.47 L418.20 144.35 L419.20 144.24 L420.20 144.14 L421.20 144.06 L422.20 143.98 L423.20 143.93 L424.20 143.90 L425.20 143.90 L426.20 143.94 L427.20 144.05 L428.20 144.25 L429.20 144.58 L430.20 145.04 L431.20 145.59 L432.20 146.23 L433.20 146.97 L434.20 147.86 L435.20 148.94 L436.20 150.19 L437.20 151.54 L438.20 152.96 L439.20 154.43 L440.20 155.92 L441.20 157.43 L442.20 158.97 L443.20 160.52 L444.20 162.11 L445.20 163.71 L446.20 165.33 L447.20 166.96 L448.20 168.58 L449.20 170.18 L450.20 171.79 L451.20 173.39 L452.20 174.99 L453.20 176.57 L454.20 178.11 L455.20 179.56 L456.20 180.90 L457.20 182.12 L458.20 183.21 L459.20 184.17 L460.20 185.02 L461.20 185.76 L462.20 186.37 L463.20 186.84 L464.20 187.17 L465.20 187.35 L466.20 187.36 L467.20 187.22 L468.20 186.95 L469.20 186.55 L470.20 186.04 L471.20 185.45 L472.20 184.76 L473.20 183.99 L474.20 183.12 L475.20 182.16 L476.20 181.14 L477.20 180.08 L478.20 179.01 L479.20 177.95 L480.20 176.91 L481.20 175.87 L482.20 174.85 L483.20 173.83 L484.20 172.82 L485.20 171.83 L486.20 170.86 L487.20 169.91 L488.20 168.99 L489.20 168.08 L490.20 167.19 L491.20 166.35 L492.20 165.58 L493.20 164.88 L494.20 164.26 L495.20 163.71 L496.20 163.22 L497.20 162.78 L498.20 162.38 L499.20 162.01 L500.20 161.68 L501.20 161.38 L502.20 161.13 L503.20 160.92 L504.20 160.77 L505.20 160.68 L506.20 160.66 L507.20 160.71 L508.20 160.84 L509.20 161.03 L510.20 161.26 L511.20 161.54 L512.20 161.83 L513.20 162.13 L514.20 162.44 L515.20 162.76 L516.20 163.10 L517.20 163.46 L518.20 163.83 L519.20 164.21 L520.20 164.59 L521.20 164.95 L522.20 165.31 L523.20 165.64 L524.20 165.97 L525.20 166.29 L526.20 166.62 L527.20 166.95 L528.20 167.29 L529.20 167.63 L530.20 167.97 L531.20 168.30 L532.20 168.61 L533.20 168.91 L534.20 169.20 L535.20 169.45 L536.20 169.69 L537.20 169.90 L538.20 170.08 L539.20 170.24 L540.20 170.36 L541.20 170.46 L542.20 170.52 L543.20 170.56 L544.20 170.57 L545.20 170.56 L546.20 170.53 L547.20 170.48 L548.20 170.42 L549.20 170.35 L550.20 170.26 L551.20 170.18 L552.20 170.08 L553.20 169.98 L554.20 169.89 L555.20 169.79 L556.20 169.69 L557.20 169.60 L558.20 169.51 L559.20 169.42 L560.20 169.35 L561.20 169.28 L562.20 169.22 L563.20 169.16 L564.20 169.12 L565.20 169.08 L566.20 169.05 L567.20 169.03 L568.20 169.00 L569.20 168.98 L570.20 168.96 L571.20 168.94 L572.20 168.92 L573.20 168.91 L574.20 168.89 L575.20 168.88 L576.20 168.87 L577.20 168.85 L578.20 168.84 L579.20 168.83 L580.20 168.82 L581.20 168.81 L582.20 168.80 L583.20 168.79 L584.20 168.79 L585.20 168.78 L586.20 168.77 L587.20 168.76 L588.20 168.76 L589.20 168.75 L590.20 168.74 L591.20 168.73 L592.20 168.73 L593.20 168.72 L594.20 168.71 L594.80 168.70" fill="none" stroke="#000" stroke-width="2.00" stroke-dasharray="4.6 2.8" stroke-linejoin="round"/>
</g>
<path d="M354.68 218.90 V216.70 M354.68 17.60 V19.80 M362.10 218.90 V216.70 M362.10 17.60 V19.80 M367.37 218.90 V216.70 M367.37 17.60 V19.80 M371.45 218.90 V216.70 M371.45 17.60 V19.80 M374.79 218.90 V216.70 M374.79 17.60 V19.80 M377.61 218.90 V216.70 M377.61 17.60 V19.80 M380.05 218.90 V216.70 M380.05 17.60 V19.80 M382.21 218.90 V216.70 M382.21 17.60 V19.80 M384.13 218.90 V216.70 M384.13 17.60 V19.80 M396.82 218.90 V216.70 M396.82 17.60 V19.80 M404.24 218.90 V216.70 M404.24 17.60 V19.80 M409.50 218.90 V216.70 M409.50 17.60 V19.80 M413.58 218.90 V216.70 M413.58 17.60 V19.80 M416.92 218.90 V216.70 M416.92 17.60 V19.80 M419.74 218.90 V216.70 M419.74 17.60 V19.80 M422.18 218.90 V216.70 M422.18 17.60 V19.80 M424.34 218.90 V216.70 M424.34 17.60 V19.80 M426.27 218.90 V216.70 M426.27 17.60 V19.80 M438.95 218.90 V216.70 M438.95 17.60 V19.80 M446.37 218.90 V216.70 M446.37 17.60 V19.80 M451.63 218.90 V216.70 M451.63 17.60 V19.80 M455.72 218.90 V216.70 M455.72 17.60 V19.80 M459.05 218.90 V216.70 M459.05 17.60 V19.80 M461.87 218.90 V216.70 M461.87 17.60 V19.80 M464.32 218.90 V216.70 M464.32 17.60 V19.80 M466.47 218.90 V216.70 M466.47 17.60 V19.80 M468.40 218.90 V216.70 M468.40 17.60 V19.80 M481.08 218.90 V216.70 M481.08 17.60 V19.80 M488.50 218.90 V216.70 M488.50 17.60 V19.80 M493.77 218.90 V216.70 M493.77 17.60 V19.80 M497.85 218.90 V216.70 M497.85 17.60 V19.80 M501.19 218.90 V216.70 M501.19 17.60 V19.80 M504.01 218.90 V216.70 M504.01 17.60 V19.80 M506.45 218.90 V216.70 M506.45 17.60 V19.80 M508.61 218.90 V216.70 M508.61 17.60 V19.80 M510.53 218.90 V216.70 M510.53 17.60 V19.80 M523.22 218.90 V216.70 M523.22 17.60 V19.80 M530.64 218.90 V216.70 M530.64 17.60 V19.80 M535.90 218.90 V216.70 M535.90 17.60 V19.80 M539.98 218.90 V216.70 M539.98 17.60 V19.80 M543.32 218.90 V216.70 M543.32 17.60 V19.80 M546.14 218.90 V216.70 M546.14 17.60 V19.80 M548.58 218.90 V216.70 M548.58 17.60 V19.80 M550.74 218.90 V216.70 M550.74 17.60 V19.80 M552.67 218.90 V216.70 M552.67 17.60 V19.80 M565.35 218.90 V216.70 M565.35 17.60 V19.80 M572.77 218.90 V216.70 M572.77 17.60 V19.80 M578.03 218.90 V216.70 M578.03 17.60 V19.80 M582.12 218.90 V216.70 M582.12 17.60 V19.80 M585.45 218.90 V216.70 M585.45 17.60 V19.80 M588.27 218.90 V216.70 M588.27 17.60 V19.80 M590.72 218.90 V216.70 M590.72 17.60 V19.80 M592.87 218.90 V216.70 M592.87 17.60 V19.80" stroke="#000" stroke-width="1.2" fill="none"/>
<path d="M342.00 218.90 H345.00 M594.80 218.90 H591.80 M342.00 178.64 H345.00 M594.80 178.64 H591.80 M342.00 138.38 H345.00 M594.80 138.38 H591.80 M342.00 98.12 H345.00 M594.80 98.12 H591.80 M342.00 57.86 H345.00 M594.80 57.86 H591.80 M342.00 17.60 H345.00 M594.80 17.60 H591.80" stroke="#000" stroke-width="1.5" fill="none"/>
<rect x="342.00" y="17.60" width="252.80" height="201.30" fill="none" stroke="#000" stroke-width="2.00"/>
<text transform="translate(340.40 223.80) scale(0.970 1)" text-anchor="end" font-family='"Liberation Serif", serif' font-weight="bold" class="e" font-size="13.2">0</text>
<text transform="translate(340.40 183.54) scale(0.970 1)" text-anchor="end" font-family='"Liberation Serif", serif' font-weight="bold" class="e" font-size="13.2">0.08</text>
<text transform="translate(340.40 143.28) scale(0.970 1)" text-anchor="end" font-family='"Liberation Serif", serif' font-weight="bold" class="e" font-size="13.2">0.16</text>
<text transform="translate(340.40 103.02) scale(0.970 1)" text-anchor="end" font-family='"Liberation Serif", serif' font-weight="bold" class="e" font-size="13.2">0.24</text>
<text transform="translate(340.40 62.76) scale(0.970 1)" text-anchor="end" font-family='"Liberation Serif", serif' font-weight="bold" class="e" font-size="13.2">0.32</text>
<text transform="translate(340.40 22.50) scale(0.970 1)" text-anchor="end" font-family='"Liberation Serif", serif' font-weight="bold" class="e" font-size="13.2">0.4</text>
<text transform="translate(342.00 237.70) scale(0.970 1)" text-anchor="middle" font-family='"Liberation Serif", serif' font-weight="bold" class="e" font-size="13.2">10<tspan dy="-7.6" font-size="9.4" font-weight="normal">−3</tspan></text>
<text transform="translate(384.13 237.70) scale(0.970 1)" text-anchor="middle" font-family='"Liberation Serif", serif' font-weight="bold" class="e" font-size="13.2">10<tspan dy="-7.6" font-size="9.4" font-weight="normal">−2</tspan></text>
<text transform="translate(426.27 237.70) scale(0.970 1)" text-anchor="middle" font-family='"Liberation Serif", serif' font-weight="bold" class="e" font-size="13.2">10<tspan dy="-7.6" font-size="9.4" font-weight="normal">−1</tspan></text>
<text transform="translate(468.40 237.70) scale(0.970 1)" text-anchor="middle" font-family='"Liberation Serif", serif' font-weight="bold" class="e" font-size="13.2">10<tspan dy="-7.6" font-size="9.4" font-weight="normal">0</tspan></text>
<text transform="translate(510.53 237.70) scale(0.970 1)" text-anchor="middle" font-family='"Liberation Serif", serif' font-weight="bold" class="e" font-size="13.2">10<tspan dy="-7.6" font-size="9.4" font-weight="normal">1</tspan></text>
<text transform="translate(552.67 237.70) scale(0.970 1)" text-anchor="middle" font-family='"Liberation Serif", serif' font-weight="bold" class="e" font-size="13.2">10<tspan dy="-7.6" font-size="9.4" font-weight="normal">2</tspan></text>
<text transform="translate(594.80 237.70) scale(0.970 1)" text-anchor="middle" font-family='"Liberation Serif", serif' font-weight="bold" class="e" font-size="13.2">10<tspan dy="-7.6" font-size="9.4" font-weight="normal">3</tspan></text>
<text x="473.10" y="11.20" text-anchor="middle" font-family='"Liberation Serif", serif' font-weight="bold" class="e" font-size="13.0">λ=0.08167,γ=0.5,Pe=0.01</text>
<text x="474.30" y="250.30" text-anchor="middle" font-family='"Liberation Serif", serif' font-weight="bold" font-size="19.5">t</text>
<text x="471.50" y="267.50" text-anchor="middle" letter-spacing="0.7" font-family='"Liberation Serif", serif' font-size="16.0">(b)</text>
<text transform="translate(316.40 123.70) rotate(-90)" x="0" y="0" class="e2" font-family='"Liberation Serif", serif' font-size="14.0">β<tspan dy="6.2" font-size="10.5">1</tspan></text>
<path d="M349.00 32.20 H368.60" fill="none" stroke="#000" stroke-width="1.70" stroke-dasharray="4.6 2.8" stroke-linejoin="round"/>
<text x="369.60" y="36.60" font-family='"Liberation Serif", serif' font-weight="bold" class="e" font-size="13.0">N=4.9</text>
<path d="M349.00 43.60 H368.60" fill="none" stroke="#000" stroke-width="1.70" stroke-dasharray="5 2 1.2 2" stroke-linejoin="round"/>
<text x="369.60" y="48.00" font-family='"Liberation Serif", serif' font-weight="bold" class="e" font-size="13.0">N=5.5</text>
<path d="M349.00 55.20 H368.60" fill="none" stroke="#000" stroke-width="1.70" stroke-dasharray="1.2 1.8" stroke-linejoin="round"/>
<text x="369.60" y="59.60" font-family='"Liberation Serif", serif' font-weight="bold" class="e" font-size="13.0">N=6.28</text>
<path d="M349.00 66.40 H368.60" fill="none" stroke="#000" stroke-width="1.70"  stroke-linejoin="round"/>
<text x="369.60" y="70.80" font-family='"Liberation Serif", serif' font-weight="bold" class="e" font-size="13.0">N=7.84</text>
<clipPath id="c2"><rect x="32.80" y="296.90" width="252.00" height="201.80"/></clipPath>
<g clip-path="url(#c2)">
<path d="M32.80 432.11 L33.80 431.74 L34.80 431.31 L35.80 430.83 L36.80 430.30 L37.80 429.74 L38.80 429.15 L39.80 428.54 L40.80 427.91 L41.80 427.28 L42.80 426.65 L43.80 426.02 L44.80 425.40 L45.80 424.80 L46.80 424.21 L47.80 423.65 L48.80 423.10 L49.80 422.58 L50.80 422.09 L51.80 421.61 L52.80 421.16 L53.80 420.74 L54.80 420.33 L55.80 419.94 L56.80 419.57 L57.80 419.21 L58.80 418.85 L59.80 418.50 L60.80 418.14 L61.80 417.78 L62.80 417.42 L63.80 417.04 L64.80 416.66 L65.80 416.27 L66.80 415.86 L67.80 415.44 L68.80 415.01 L69.80 414.57 L70.80 414.12 L71.80 413.67 L72.80 413.21 L73.80 412.75 L74.80 412.29 L75.80 411.83 L76.80 411.37 L77.80 410.91 L78.80 410.45 L79.80 410.00 L80.80 409.55 L81.80 409.10 L82.80 408.66 L83.80 408.22 L84.80 407.79 L85.80 407.36 L86.80 406.93 L87.80 406.50 L88.80 406.08 L89.80 405.66 L90.80 405.25 L91.80 404.84 L92.80 404.43 L93.80 404.03 L94.80 403.63 L95.80 403.23 L96.80 402.84 L97.80 402.45 L98.80 402.06 L99.80 401.67 L100.80 401.28 L101.80 400.90 L102.80 400.52 L103.80 400.14 L104.80 399.75 L105.80 399.37 L106.80 398.99 L107.80 398.61 L108.80 398.22 L109.80 397.84 L110.80 397.46 L111.80 397.07 L112.80 396.69 L113.80 396.30 L114.80 395.91 L115.80 395.52 L116.80 395.12 L117.80 394.73 L118.80 394.33 L119.80 393.92 L120.80 393.52 L121.80 393.11 L122.80 392.69 L123.80 392.28 L124.80 391.86 L125.80 391.44 L126.80 391.02 L127.80 390.60 L128.80 390.19 L129.80 389.78 L130.80 389.37 L131.80 388.97 L132.80 388.57 L133.80 388.18 L134.80 387.79 L135.80 387.41 L136.80 387.04 L137.80 386.67 L138.80 386.31 L139.80 385.95 L140.80 385.60 L141.80 385.25 L142.80 384.91 L143.80 384.57 L144.80 384.24 L145.80 383.90 L146.80 383.57 L147.80 383.25 L148.80 382.92 L149.80 382.60 L150.80 382.29 L151.80 381.97 L152.80 381.67 L153.80 381.36 L154.80 381.06 L155.80 380.76 L156.80 380.46 L157.80 380.17 L158.80 379.88 L159.80 379.59 L160.80 379.31 L161.80 379.03 L162.80 378.75 L163.80 378.48 L164.80 378.20 L165.80 377.93 L166.80 377.66 L167.80 377.39 L168.80 377.13 L169.80 376.86 L170.80 376.60 L171.80 376.34 L172.80 376.08 L173.80 375.83 L174.80 375.58 L175.80 375.33 L176.80 375.09 L177.80 374.85 L178.80 374.62 L179.80 374.39 L180.80 374.17 L181.80 373.96 L182.80 373.76 L183.80 373.57 L184.80 373.39 L185.80 373.21 L186.80 373.05 L187.80 372.90 L188.80 372.76 L189.80 372.62 L190.80 372.49 L191.80 372.37 L192.80 372.26 L193.80 372.15 L194.80 372.04 L195.80 371.94 L196.80 371.84 L197.80 371.74 L198.80 371.65 L199.80 371.55 L200.80 371.46 L201.80 371.38 L202.80 371.29 L203.80 371.21 L204.80 371.12 L205.80 371.04 L206.80 370.96 L207.80 370.88 L208.80 370.80 L209.80 370.72 L210.80 370.65 L211.80 370.57 L212.80 370.50 L213.80 370.42 L214.80 370.35 L215.80 370.27 L216.80 370.20 L217.80 370.13 L218.80 370.06 L219.80 369.99 L220.80 369.92 L221.80 369.85 L222.80 369.78 L223.80 369.72 L224.80 369.65 L225.80 369.59 L226.80 369.52 L227.80 369.46 L228.80 369.40 L229.80 369.35 L230.80 369.29 L231.80 369.24 L232.80 369.18 L233.80 369.14 L234.80 369.09 L235.80 369.04 L236.80 369.00 L237.80 368.96 L238.80 368.93 L239.80 368.89 L240.80 368.86 L241.80 368.83 L242.80 368.81 L243.80 368.78 L244.80 368.76 L245.80 368.74 L246.80 368.72 L247.80 368.70 L248.80 368.69 L249.80 368.67 L250.80 368.65 L251.80 368.64 L252.80 368.62 L253.80 368.60 L254.80 368.59 L255.80 368.57 L256.80 368.55 L257.80 368.53 L258.80 368.51 L259.80 368.49 L260.80 368.47 L261.80 368.44 L262.80 368.42 L263.80 368.39 L264.80 368.37 L265.80 368.34 L266.80 368.32 L267.80 368.29 L268.80 368.26 L269.80 368.23 L270.80 368.21 L271.80 368.18 L272.80 368.15 L273.80 368.12 L274.80 368.09 L275.80 368.06 L276.80 368.04 L277.80 368.01 L278.80 367.98 L279.80 367.96 L280.80 367.93 L281.80 367.91 L282.80 367.89 L283.80 367.87 L284.80 367.86" fill="none" stroke="#000" stroke-width="2.00" stroke-dasharray="4.6 2.8" stroke-linejoin="round"/>
<path d="M32.80 430.48 L33.80 430.07 L34.80 429.60 L35.80 429.07 L36.80 428.50 L37.80 427.88 L38.80 427.23 L39.80 426.56 L40.80 425.86 L41.80 425.16 L42.80 424.45 L43.80 423.74 L44.80 423.03 L45.80 422.34 L46.80 421.66 L47.80 420.98 L48.80 420.33 L49.80 419.69 L50.80 419.07 L51.80 418.46 L52.80 417.87 L53.80 417.30 L54.80 416.74 L55.80 416.20 L56.80 415.66 L57.80 415.13 L58.80 414.61 L59.80 414.09 L60.80 413.58 L61.80 413.06 L62.80 412.54 L63.80 412.01 L64.80 411.48 L65.80 410.94 L66.80 410.40 L67.80 409.85 L68.80 409.29 L69.80 408.73 L70.80 408.17 L71.80 407.60 L72.80 407.04 L73.80 406.48 L74.80 405.92 L75.80 405.36 L76.80 404.81 L77.80 404.26 L78.80 403.72 L79.80 403.19 L80.80 402.66 L81.80 402.14 L82.80 401.62 L83.80 401.11 L84.80 400.60 L85.80 400.10 L86.80 399.59 L87.80 399.08 L88.80 398.57 L89.80 398.05 L90.80 397.53 L91.80 397.00 L92.80 396.47 L93.80 395.93 L94.80 395.38 L95.80 394.83 L96.80 394.27 L97.80 393.71 L98.80 393.15 L99.80 392.60 L100.80 392.04 L101.80 391.50 L102.80 390.96 L103.80 390.43 L104.80 389.91 L105.80 389.41 L106.80 388.92 L107.80 388.44 L108.80 387.97 L109.80 387.52 L110.80 387.08 L111.80 386.64 L112.80 386.22 L113.80 385.80 L114.80 385.39 L115.80 384.98 L116.80 384.57 L117.80 384.17 L118.80 383.77 L119.80 383.37 L120.80 382.97 L121.80 382.57 L122.80 382.17 L123.80 381.77 L124.80 381.37 L125.80 380.97 L126.80 380.58 L127.80 380.19 L128.80 379.80 L129.80 379.41 L130.80 379.03 L131.80 378.65 L132.80 378.27 L133.80 377.90 L134.80 377.54 L135.80 377.18 L136.80 376.82 L137.80 376.47 L138.80 376.12 L139.80 375.78 L140.80 375.44 L141.80 375.11 L142.80 374.78 L143.80 374.46 L144.80 374.14 L145.80 373.83 L146.80 373.52 L147.80 373.22 L148.80 372.92 L149.80 372.63 L150.80 372.34 L151.80 372.06 L152.80 371.78 L153.80 371.51 L154.80 371.25 L155.80 370.99 L156.80 370.73 L157.80 370.48 L158.80 370.24 L159.80 370.01 L160.80 369.77 L161.80 369.55 L162.80 369.33 L163.80 369.11 L164.80 368.91 L165.80 368.70 L166.80 368.51 L167.80 368.32 L168.80 368.13 L169.80 367.96 L170.80 367.79 L171.80 367.62 L172.80 367.46 L173.80 367.31 L174.80 367.16 L175.80 367.02 L176.80 366.89 L177.80 366.76 L178.80 366.64 L179.80 366.53 L180.80 366.42 L181.80 366.33 L182.80 366.24 L183.80 366.17 L184.80 366.10 L185.80 366.05 L186.80 366.01 L187.80 365.99 L188.80 365.98 L189.80 365.98 L190.80 365.99 L191.80 366.02 L192.80 366.05 L193.80 366.10 L194.80 366.15 L195.80 366.22 L196.80 366.29 L197.80 366.36 L198.80 366.44 L199.80 366.52 L200.80 366.60 L201.80 366.68 L202.80 366.76 L203.80 366.84 L204.80 366.91 L205.80 366.98 L206.80 367.05 L207.80 367.11 L208.80 367.17 L209.80 367.23 L210.80 367.28 L211.80 367.32 L212.80 367.36 L213.80 367.40 L214.80 367.44 L215.80 367.47 L216.80 367.50 L217.80 367.52 L218.80 367.55 L219.80 367.57 L220.80 367.59 L221.80 367.61 L222.80 367.63 L223.80 367.65 L224.80 367.66 L225.80 367.68 L226.80 367.69 L227.80 367.71 L228.80 367.72 L229.80 367.73 L230.80 367.74 L231.80 367.75 L232.80 367.76 L233.80 367.77 L234.80 367.78 L235.80 367.79 L236.80 367.80 L237.80 367.81 L238.80 367.82 L239.80 367.82 L240.80 367.83 L241.80 367.84 L242.80 367.84 L243.80 367.84 L244.80 367.85 L245.80 367.85 L246.80 367.85 L247.80 367.85 L248.80 367.85 L249.80 367.85 L250.80 367.85 L251.80 367.85 L252.80 367.84 L253.80 367.84 L254.80 367.83 L255.80 367.82 L256.80 367.82 L257.80 367.81 L258.80 367.80 L259.80 367.79 L260.80 367.78 L261.80 367.76 L262.80 367.75 L263.80 367.74 L264.80 367.72 L265.80 367.70 L266.80 367.69 L267.80 367.67 L268.80 367.65 L269.80 367.63 L270.80 367.61 L271.80 367.59 L272.80 367.57 L273.80 367.55 L274.80 367.53 L275.80 367.51 L276.80 367.48 L277.80 367.46 L278.80 367.44 L279.80 367.42 L280.80 367.40 L281.80 367.39 L282.80 367.37 L283.80 367.36 L284.80 367.35" fill="none" stroke="#000" stroke-width="2.00" stroke-dasharray="5 2 1.2 2" stroke-linejoin="round"/>
<path d="M32.80 428.38 L33.80 427.94 L34.80 427.44 L35.80 426.88 L36.80 426.26 L37.80 425.60 L38.80 424.91 L39.80 424.18 L40.80 423.44 L41.80 422.69 L42.80 421.93 L43.80 421.17 L44.80 420.41 L45.80 419.66 L46.80 418.92 L47.80 418.20 L48.80 417.48 L49.80 416.79 L50.80 416.11 L51.80 415.44 L52.80 414.80 L53.80 414.17 L54.80 413.55 L55.80 412.94 L56.80 412.35 L57.80 411.76 L58.80 411.18 L59.80 410.61 L60.80 410.03 L61.80 409.46 L62.80 408.89 L63.80 408.31 L64.80 407.73 L65.80 407.15 L66.80 406.56 L67.80 405.97 L68.80 405.38 L69.80 404.78 L70.80 404.18 L71.80 403.58 L72.80 402.97 L73.80 402.37 L74.80 401.76 L75.80 401.15 L76.80 400.54 L77.80 399.94 L78.80 399.33 L79.80 398.73 L80.80 398.12 L81.80 397.52 L82.80 396.91 L83.80 396.31 L84.80 395.71 L85.80 395.11 L86.80 394.51 L87.80 393.90 L88.80 393.31 L89.80 392.71 L90.80 392.11 L91.80 391.51 L92.80 390.91 L93.80 390.32 L94.80 389.72 L95.80 389.13 L96.80 388.54 L97.80 387.96 L98.80 387.38 L99.80 386.81 L100.80 386.25 L101.80 385.70 L102.80 385.15 L103.80 384.63 L104.80 384.11 L105.80 383.61 L106.80 383.12 L107.80 382.64 L108.80 382.18 L109.80 381.73 L110.80 381.29 L111.80 380.86 L112.80 380.43 L113.80 380.01 L114.80 379.60 L115.80 379.18 L116.80 378.77 L117.80 378.35 L118.80 377.94 L119.80 377.52 L120.80 377.09 L121.80 376.66 L122.80 376.23 L123.80 375.80 L124.80 375.36 L125.80 374.93 L126.80 374.49 L127.80 374.06 L128.80 373.64 L129.80 373.22 L130.80 372.81 L131.80 372.41 L132.80 372.02 L133.80 371.65 L134.80 371.29 L135.80 370.95 L136.80 370.62 L137.80 370.31 L138.80 370.01 L139.80 369.72 L140.80 369.44 L141.80 369.17 L142.80 368.91 L143.80 368.66 L144.80 368.42 L145.80 368.18 L146.80 367.94 L147.80 367.70 L148.80 367.47 L149.80 367.24 L150.80 367.02 L151.80 366.79 L152.80 366.57 L153.80 366.35 L154.80 366.13 L155.80 365.92 L156.80 365.71 L157.80 365.51 L158.80 365.31 L159.80 365.13 L160.80 364.96 L161.80 364.79 L162.80 364.64 L163.80 364.50 L164.80 364.37 L165.80 364.25 L166.80 364.14 L167.80 364.05 L168.80 363.97 L169.80 363.90 L170.80 363.84 L171.80 363.80 L172.80 363.77 L173.80 363.74 L174.80 363.73 L175.80 363.73 L176.80 363.75 L177.80 363.77 L178.80 363.80 L179.80 363.84 L180.80 363.89 L181.80 363.94 L182.80 364.00 L183.80 364.06 L184.80 364.12 L185.80 364.18 L186.80 364.24 L187.80 364.30 L188.80 364.36 L189.80 364.41 L190.80 364.45 L191.80 364.49 L192.80 364.53 L193.80 364.56 L194.80 364.59 L195.80 364.61 L196.80 364.63 L197.80 364.65 L198.80 364.67 L199.80 364.69 L200.80 364.71 L201.80 364.73 L202.80 364.75 L203.80 364.77 L204.80 364.79 L205.80 364.81 L206.80 364.84 L207.80 364.86 L208.80 364.89 L209.80 364.93 L210.80 364.96 L211.80 364.99 L212.80 365.03 L213.80 365.07 L214.80 365.11 L215.80 365.16 L216.80 365.20 L217.80 365.25 L218.80 365.29 L219.80 365.34 L220.80 365.39 L221.80 365.44 L222.80 365.48 L223.80 365.53 L224.80 365.58 L225.80 365.63 L226.80 365.68 L227.80 365.73 L228.80 365.77 L229.80 365.82 L230.80 365.86 L231.80 365.91 L232.80 365.95 L233.80 365.99 L234.80 366.04 L235.80 366.08 L236.80 366.11 L237.80 366.15 L238.80 366.19 L239.80 366.23 L240.80 366.26 L241.80 366.29 L242.80 366.33 L243.80 366.36 L244.80 366.39 L245.80 366.42 L246.80 366.45 L247.80 366.48 L248.80 366.51 L249.80 366.53 L250.80 366.56 L251.80 366.59 L252.80 366.62 L253.80 366.64 L254.80 366.67 L255.80 366.69 L256.80 366.72 L257.80 366.74 L258.80 366.77 L259.80 366.79 L260.80 366.81 L261.80 366.84 L262.80 366.86 L263.80 366.88 L264.80 366.90 L265.80 366.93 L266.80 366.95 L267.80 366.97 L268.80 366.99 L269.80 367.01 L270.80 367.03 L271.80 367.05 L272.80 367.07 L273.80 367.09 L274.80 367.11 L275.80 367.13 L276.80 367.15 L277.80 367.16 L278.80 367.18 L279.80 367.20 L280.80 367.21 L281.80 367.23 L282.80 367.24 L283.80 367.25 L284.80 367.26" fill="none" stroke="#000" stroke-width="2.00" stroke-dasharray="1.2 1.8" stroke-linejoin="round"/>
<path d="M32.80 421.48 L33.80 420.93 L34.80 420.20 L35.80 419.37 L36.80 418.50 L37.80 417.63 L38.80 416.75 L39.80 415.87 L40.80 414.98 L41.80 414.09 L42.80 413.18 L43.80 412.25 L44.80 411.31 L45.80 410.36 L46.80 409.40 L47.80 408.45 L48.80 407.51 L49.80 406.60 L50.80 405.70 L51.80 404.82 L52.80 403.96 L53.80 403.10 L54.80 402.26 L55.80 401.42 L56.80 400.59 L57.80 399.75 L58.80 398.92 L59.80 398.09 L60.80 397.25 L61.80 396.41 L62.80 395.57 L63.80 394.72 L64.80 393.86 L65.80 393.00 L66.80 392.12 L67.80 391.24 L68.80 390.35 L69.80 389.46 L70.80 388.57 L71.80 387.68 L72.80 386.78 L73.80 385.89 L74.80 385.01 L75.80 384.14 L76.80 383.27 L77.80 382.42 L78.80 381.58 L79.80 380.74 L80.80 379.92 L81.80 379.09 L82.80 378.28 L83.80 377.46 L84.80 376.66 L85.80 375.86 L86.80 375.08 L87.80 374.30 L88.80 373.54 L89.80 372.79 L90.80 372.06 L91.80 371.35 L92.80 370.66 L93.80 369.99 L94.80 369.34 L95.80 368.71 L96.80 368.10 L97.80 367.51 L98.80 366.94 L99.80 366.38 L100.80 365.84 L101.80 365.30 L102.80 364.77 L103.80 364.25 L104.80 363.73 L105.80 363.21 L106.80 362.69 L107.80 362.18 L108.80 361.67 L109.80 361.17 L110.80 360.67 L111.80 360.18 L112.80 359.69 L113.80 359.21 L114.80 358.73 L115.80 358.26 L116.80 357.79 L117.80 357.33 L118.80 356.88 L119.80 356.43 L120.80 356.00 L121.80 355.57 L122.80 355.16 L123.80 354.75 L124.80 354.35 L125.80 353.97 L126.80 353.59 L127.80 353.21 L128.80 352.85 L129.80 352.49 L130.80 352.13 L131.80 351.77 L132.80 351.42 L133.80 351.07 L134.80 350.72 L135.80 350.38 L136.80 350.05 L137.80 349.74 L138.80 349.44 L139.80 349.17 L140.80 348.92 L141.80 348.70 L142.80 348.50 L143.80 348.33 L144.80 348.17 L145.80 348.04 L146.80 347.91 L147.80 347.79 L148.80 347.68 L149.80 347.57 L150.80 347.48 L151.80 347.41 L152.80 347.36 L153.80 347.33 L154.80 347.32 L155.80 347.34 L156.80 347.37 L157.80 347.43 L158.80 347.51 L159.80 347.61 L160.80 347.75 L161.80 347.94 L162.80 348.21 L163.80 348.62 L164.80 349.19 L165.80 349.92 L166.80 350.78 L167.80 351.72 L168.80 352.70 L169.80 353.70 L170.80 354.70 L171.80 355.68 L172.80 356.63 L173.80 357.57 L174.80 358.48 L175.80 359.35 L176.80 360.20 L177.80 361.01 L178.80 361.79 L179.80 362.51 L180.80 363.16 L181.80 363.73 L182.80 364.21 L183.80 364.61 L184.80 364.93 L185.80 365.20 L186.80 365.41 L187.80 365.54 L188.80 365.58 L189.80 365.53 L190.80 365.38 L191.80 365.14 L192.80 364.82 L193.80 364.40 L194.80 363.88 L195.80 363.27 L196.80 362.59 L197.80 361.87 L198.80 361.16 L199.80 360.44 L200.80 359.73 L201.80 359.02 L202.80 358.31 L203.80 357.61 L204.80 356.92 L205.80 356.26 L206.80 355.65 L207.80 355.09 L208.80 354.58 L209.80 354.12 L210.80 353.69 L211.80 353.31 L212.80 352.97 L213.80 352.70 L214.80 352.48 L215.80 352.31 L216.80 352.18 L217.80 352.08 L218.80 352.02 L219.80 352.00 L220.80 352.03 L221.80 352.11 L222.80 352.26 L223.80 352.46 L224.80 352.72 L225.80 353.02 L226.80 353.35 L227.80 353.71 L228.80 354.10 L229.80 354.51 L230.80 354.93 L231.80 355.35 L232.80 355.76 L233.80 356.15 L234.80 356.53 L235.80 356.88 L236.80 357.21 L237.80 357.51 L238.80 357.79 L239.80 358.04 L240.80 358.27 L241.80 358.49 L242.80 358.70 L243.80 358.91 L244.80 359.11 L245.80 359.31 L246.80 359.49 L247.80 359.63 L248.80 359.71 L249.80 359.75 L250.80 359.73 L251.80 359.68 L252.80 359.60 L253.80 359.50 L254.80 359.39 L255.80 359.27 L256.80 359.15 L257.80 359.02 L258.80 358.88 L259.80 358.75 L260.80 358.60 L261.80 358.44 L262.80 358.26 L263.80 358.07 L264.80 357.88 L265.80 357.69 L266.80 357.52 L267.80 357.38 L268.80 357.26 L269.80 357.17 L270.80 357.09 L271.80 357.02 L272.80 356.95 L273.80 356.90 L274.80 356.84 L275.80 356.79 L276.80 356.75 L277.80 356.70 L278.80 356.66 L279.80 356.61 L280.80 356.57 L281.80 356.53 L282.80 356.49 L283.80 356.45 L284.80 356.43" fill="none" stroke="#000" stroke-width="2.00"  stroke-linejoin="round"/>
<path d="M32.80 418.72 L33.80 417.88 L34.80 416.76 L35.80 415.50 L36.80 414.19 L37.80 412.88 L38.80 411.58 L39.80 410.32 L40.80 409.09 L41.80 407.92 L42.80 406.82 L43.80 405.82 L44.80 404.93 L45.80 404.12 L46.80 403.35 L47.80 402.58 L48.80 401.77 L49.80 400.88 L50.80 399.92 L51.80 398.89 L52.80 397.81 L53.80 396.69 L54.80 395.55 L55.80 394.38 L56.80 393.21 L57.80 392.03 L58.80 390.84 L59.80 389.66 L60.80 388.48 L61.80 387.30 L62.80 386.14 L63.80 384.98 L64.80 383.83 L65.80 382.69 L66.80 381.55 L67.80 380.40 L68.80 379.25 L69.80 378.10 L70.80 376.96 L71.80 375.82 L72.80 374.70 L73.80 373.60 L74.80 372.53 L75.80 371.48 L76.80 370.46 L77.80 369.47 L78.80 368.53 L79.80 367.63 L80.80 366.77 L81.80 365.94 L82.80 365.15 L83.80 364.38 L84.80 363.64 L85.80 362.92 L86.80 362.22 L87.80 361.53 L88.80 360.85 L89.80 360.17 L90.80 359.49 L91.80 358.82 L92.80 358.13 L93.80 357.45 L94.80 356.77 L95.80 356.09 L96.80 355.42 L97.80 354.75 L98.80 354.09 L99.80 353.44 L100.80 352.80 L101.80 352.16 L102.80 351.54 L103.80 350.92 L104.80 350.32 L105.80 349.73 L106.80 349.15 L107.80 348.59 L108.80 348.04 L109.80 347.51 L110.80 346.99 L111.80 346.48 L112.80 346.00 L113.80 345.53 L114.80 345.08 L115.80 344.65 L116.80 344.25 L117.80 343.88 L118.80 343.53 L119.80 343.21 L120.80 342.93 L121.80 342.68 L122.80 342.45 L123.80 342.24 L124.80 342.06 L125.80 341.89 L126.80 341.74 L127.80 341.61 L128.80 341.50 L129.80 341.41 L130.80 341.34 L131.80 341.28 L132.80 341.24 L133.80 341.22 L134.80 341.21 L135.80 341.23 L136.80 341.26 L137.80 341.34 L138.80 341.46 L139.80 341.63 L140.80 341.87 L141.80 342.19 L142.80 342.57 L143.80 343.02 L144.80 343.52 L145.80 344.04 L146.80 344.58 L147.80 345.11 L148.80 345.62 L149.80 346.12 L150.80 346.62 L151.80 347.12 L152.80 347.65 L153.80 348.22 L154.80 348.82 L155.80 349.47 L156.80 350.14 L157.80 350.83 L158.80 351.52 L159.80 352.19 L160.80 352.82 L161.80 353.40 L162.80 353.91 L163.80 354.34 L164.80 354.70 L165.80 354.99 L166.80 355.22 L167.80 355.41 L168.80 355.57 L169.80 355.67 L170.80 355.73 L171.80 355.74 L172.80 355.70 L173.80 355.61 L174.80 355.48 L175.80 355.31 L176.80 355.11 L177.80 354.88 L178.80 354.62 L179.80 354.34 L180.80 354.04 L181.80 353.72 L182.80 353.39 L183.80 353.04 L184.80 352.68 L185.80 352.31 L186.80 351.91 L187.80 351.50 L188.80 351.07 L189.80 350.64 L190.80 350.21 L191.80 349.80 L192.80 349.40 L193.80 349.01 L194.80 348.65 L195.80 348.31 L196.80 348.02 L197.80 347.76 L198.80 347.55 L199.80 347.37 L200.80 347.23 L201.80 347.11 L202.80 347.01 L203.80 346.93 L204.80 346.88 L205.80 346.84 L206.80 346.83 L207.80 346.83 L208.80 346.87 L209.80 346.92 L210.80 346.99 L211.80 347.08 L212.80 347.17 L213.80 347.28 L214.80 347.40 L215.80 347.53 L216.80 347.67 L217.80 347.82 L218.80 347.98 L219.80 348.15 L220.80 348.31 L221.80 348.48 L222.80 348.63 L223.80 348.79 L224.80 348.93 L225.80 349.08 L226.80 349.22 L227.80 349.36 L228.80 349.49 L229.80 349.61 L230.80 349.72 L231.80 349.82 L232.80 349.91 L233.80 349.99 L234.80 350.06 L235.80 350.11 L236.80 350.15 L237.80 350.17 L238.80 350.19 L239.80 350.19 L240.80 350.20 L241.80 350.19 L242.80 350.19 L243.80 350.18 L244.80 350.17 L245.80 350.16 L246.80 350.14 L247.80 350.13 L248.80 350.11 L249.80 350.09 L250.80 350.08 L251.80 350.06 L252.80 350.04 L253.80 350.02 L254.80 350.01 L255.80 349.99 L256.80 349.97 L257.80 349.95 L258.80 349.93 L259.80 349.92 L260.80 349.90 L261.80 349.89 L262.80 349.87 L263.80 349.85 L264.80 349.84 L265.80 349.82 L266.80 349.80 L267.80 349.79 L268.80 349.77 L269.80 349.75 L270.80 349.74 L271.80 349.72 L272.80 349.70 L273.80 349.69 L274.80 349.67 L275.80 349.65 L276.80 349.64 L277.80 349.62 L278.80 349.60 L279.80 349.59 L280.80 349.57 L281.80 349.55 L282.80 349.53 L283.80 349.52 L284.80 349.51" fill="none" stroke="rgb(20,250,20)" stroke-width="2.00" stroke-dasharray="4.6 2.8" stroke-linejoin="round"/>
<path d="M32.80 418.11 L33.80 417.17 L34.80 415.91 L35.80 414.48 L36.80 413.00 L37.80 411.49 L38.80 409.98 L39.80 408.45 L40.80 406.91 L41.80 405.34 L42.80 403.73 L43.80 402.06 L44.80 400.34 L45.80 398.57 L46.80 396.79 L47.80 395.04 L48.80 393.34 L49.80 391.72 L50.80 390.16 L51.80 388.67 L52.80 387.21 L53.80 385.79 L54.80 384.38 L55.80 383.00 L56.80 381.63 L57.80 380.27 L58.80 378.94 L59.80 377.61 L60.80 376.31 L61.80 375.02 L62.80 373.75 L63.80 372.50 L64.80 371.27 L65.80 370.06 L66.80 368.87 L67.80 367.71 L68.80 366.56 L69.80 365.43 L70.80 364.32 L71.80 363.23 L72.80 362.15 L73.80 361.09 L74.80 360.05 L75.80 359.02 L76.80 358.00 L77.80 357.00 L78.80 356.00 L79.80 355.02 L80.80 354.04 L81.80 353.06 L82.80 352.10 L83.80 351.14 L84.80 350.20 L85.80 349.28 L86.80 348.38 L87.80 347.51 L88.80 346.66 L89.80 345.86 L90.80 345.09 L91.80 344.37 L92.80 343.69 L93.80 343.07 L94.80 342.51 L95.80 341.99 L96.80 341.52 L97.80 341.10 L98.80 340.71 L99.80 340.35 L100.80 340.02 L101.80 339.71 L102.80 339.41 L103.80 339.12 L104.80 338.84 L105.80 338.57 L106.80 338.30 L107.80 338.05 L108.80 337.81 L109.80 337.60 L110.80 337.41 L111.80 337.24 L112.80 337.08 L113.80 336.94 L114.80 336.81 L115.80 336.70 L116.80 336.61 L117.80 336.56 L118.80 336.60 L119.80 336.75 L120.80 337.05 L121.80 337.46 L122.80 337.96 L123.80 338.52 L124.80 339.11 L125.80 339.73 L126.80 340.34 L127.80 340.94 L128.80 341.53 L129.80 342.11 L130.80 342.67 L131.80 343.24 L132.80 343.82 L133.80 344.39 L134.80 344.98 L135.80 345.57 L136.80 346.17 L137.80 346.77 L138.80 347.37 L139.80 347.97 L140.80 348.57 L141.80 349.17 L142.80 349.77 L143.80 350.37 L144.80 350.97 L145.80 351.55 L146.80 352.10 L147.80 352.62 L148.80 353.10 L149.80 353.54 L150.80 353.94 L151.80 354.28 L152.80 354.56 L153.80 354.76 L154.80 354.87 L155.80 354.89 L156.80 354.82 L157.80 354.67 L158.80 354.47 L159.80 354.22 L160.80 353.94 L161.80 353.62 L162.80 353.27 L163.80 352.88 L164.80 352.45 L165.80 351.98 L166.80 351.49 L167.80 350.99 L168.80 350.48 L169.80 349.98 L170.80 349.50 L171.80 349.04 L172.80 348.63 L173.80 348.26 L174.80 347.91 L175.80 347.58 L176.80 347.25 L177.80 346.92 L178.80 346.59 L179.80 346.26 L180.80 345.95 L181.80 345.66 L182.80 345.39 L183.80 345.15 L184.80 344.93 L185.80 344.72 L186.80 344.53 L187.80 344.35 L188.80 344.18 L189.80 344.04 L190.80 343.93 L191.80 343.85 L192.80 343.80 L193.80 343.79 L194.80 343.79 L195.80 343.83 L196.80 343.89 L197.80 343.98 L198.80 344.09 L199.80 344.23 L200.80 344.38 L201.80 344.55 L202.80 344.73 L203.80 344.91 L204.80 345.09 L205.80 345.26 L206.80 345.42 L207.80 345.58 L208.80 345.74 L209.80 345.89 L210.80 346.04 L211.80 346.18 L212.80 346.32 L213.80 346.45 L214.80 346.58 L215.80 346.70 L216.80 346.81 L217.80 346.91 L218.80 347.01 L219.80 347.11 L220.80 347.20 L221.80 347.28 L222.80 347.36 L223.80 347.44 L224.80 347.52 L225.80 347.59 L226.80 347.65 L227.80 347.72 L228.80 347.77 L229.80 347.82 L230.80 347.87 L231.80 347.91 L232.80 347.95 L233.80 347.98 L234.80 348.00 L235.80 348.02 L236.80 348.02 L237.80 348.02 L238.80 348.01 L239.80 348.00 L240.80 347.98 L241.80 347.96 L242.80 347.93 L243.80 347.90 L244.80 347.87 L245.80 347.84 L246.80 347.80 L247.80 347.77 L248.80 347.74 L249.80 347.70 L250.80 347.67 L251.80 347.64 L252.80 347.60 L253.80 347.57 L254.80 347.54 L255.80 347.52 L256.80 347.49 L257.80 347.46 L258.80 347.44 L259.80 347.42 L260.80 347.40 L261.80 347.39 L262.80 347.38 L263.80 347.37 L264.80 347.36 L265.80 347.35 L266.80 347.34 L267.80 347.34 L268.80 347.33 L269.80 347.33 L270.80 347.32 L271.80 347.32 L272.80 347.32 L273.80 347.31 L274.80 347.31 L275.80 347.31 L276.80 347.31 L277.80 347.31 L278.80 347.31 L279.80 347.31 L280.80 347.31 L281.80 347.31 L282.80 347.30 L283.80 347.30 L284.80 347.30" fill="none" stroke="rgb(20,250,20)" stroke-width="2.00"  stroke-linejoin="round"/>
</g>
<path d="M45.44 498.70 V496.50 M45.44 296.90 V299.10 M52.84 498.70 V496.50 M52.84 296.90 V299.10 M58.09 498.70 V496.50 M58.09 296.90 V299.10 M62.16 498.70 V496.50 M62.16 296.90 V299.10 M65.48 498.70 V496.50 M65.48 296.90 V299.10 M68.29 498.70 V496.50 M68.29 296.90 V299.10 M70.73 498.70 V496.50 M70.73 296.90 V299.10 M72.88 498.70 V496.50 M72.88 296.90 V299.10 M74.80 498.70 V496.50 M74.80 296.90 V299.10 M87.44 498.70 V496.50 M87.44 296.90 V299.10 M94.84 498.70 V496.50 M94.84 296.90 V299.10 M100.09 498.70 V496.50 M100.09 296.90 V299.10 M104.16 498.70 V496.50 M104.16 296.90 V299.10 M107.48 498.70 V496.50 M107.48 296.90 V299.10 M110.29 498.70 V496.50 M110.29 296.90 V299.10 M112.73 498.70 V496.50 M112.73 296.90 V299.10 M114.88 498.70 V496.50 M114.88 296.90 V299.10 M116.80 498.70 V496.50 M116.80 296.90 V299.10 M129.44 498.70 V496.50 M129.44 296.90 V299.10 M136.84 498.70 V496.50 M136.84 296.90 V299.10 M142.09 498.70 V496.50 M142.09 296.90 V299.10 M146.16 498.70 V496.50 M146.16 296.90 V299.10 M149.48 498.70 V496.50 M149.48 296.90 V299.10 M152.29 498.70 V496.50 M152.29 296.90 V299.10 M154.73 498.70 V496.50 M154.73 296.90 V299.10 M156.88 498.70 V496.50 M156.88 296.90 V299.10 M158.80 498.70 V496.50 M158.80 296.90 V299.10 M171.44 498.70 V496.50 M171.44 296.90 V299.10 M178.84 498.70 V496.50 M178.84 296.90 V299.10 M184.09 498.70 V496.50 M184.09 296.90 V299.10 M188.16 498.70 V496.50 M188.16 296.90 V299.10 M191.48 498.70 V496.50 M191.48 296.90 V299.10 M194.29 498.70 V496.50 M194.29 296.90 V299.10 M196.73 498.70 V496.50 M196.73 296.90 V299.10 M198.88 498.70 V496.50 M198.88 296.90 V299.10 M200.80 498.70 V496.50 M200.80 296.90 V299.10 M213.44 498.70 V496.50 M213.44 296.90 V299.10 M220.84 498.70 V496.50 M220.84 296.90 V299.10 M226.09 498.70 V496.50 M226.09 296.90 V299.10 M230.16 498.70 V496.50 M230.16 296.90 V299.10 M233.48 498.70 V496.50 M233.48 296.90 V299.10 M236.29 498.70 V496.50 M236.29 296.90 V299.10 M238.73 498.70 V496.50 M238.73 296.90 V299.10 M240.88 498.70 V496.50 M240.88 296.90 V299.10 M242.80 498.70 V496.50 M242.80 296.90 V299.10 M255.44 498.70 V496.50 M255.44 296.90 V299.10 M262.84 498.70 V496.50 M262.84 296.90 V299.10 M268.09 498.70 V496.50 M268.09 296.90 V299.10 M272.16 498.70 V496.50 M272.16 296.90 V299.10 M275.48 498.70 V496.50 M275.48 296.90 V299.10 M278.29 498.70 V496.50 M278.29 296.90 V299.10 M280.73 498.70 V496.50 M280.73 296.90 V299.10 M282.88 498.70 V496.50 M282.88 296.90 V299.10" stroke="#000" stroke-width="1.2" fill="none"/>
<path d="M32.80 498.70 H35.80 M284.80 498.70 H281.80 M32.80 458.34 H35.80 M284.80 458.34 H281.80 M32.80 417.98 H35.80 M284.80 417.98 H281.80 M32.80 377.62 H35.80 M284.80 377.62 H281.80 M32.80 337.26 H35.80 M284.80 337.26 H281.80 M32.80 296.90 H35.80 M284.80 296.90 H281.80" stroke="#000" stroke-width="1.5" fill="none"/>
<rect x="32.80" y="296.90" width="252.00" height="201.80" fill="none" stroke="#000" stroke-width="2.00"/>
<text transform="translate(31.20 503.60) scale(0.970 1)" text-anchor="end" font-family='"Liberation Serif", serif' font-weight="bold" class="e" font-size="13.2">0</text>
<text transform="translate(31.20 463.24) scale(0.970 1)" text-anchor="end" font-family='"Liberation Serif", serif' font-weight="bold" class="e" font-size="13.2">0.2</text>
<text transform="translate(31.20 422.88) scale(0.970 1)" text-anchor="end" font-family='"Liberation Serif", serif' font-weight="bold" class="e" font-size="13.2">0.4</text>
<text transform="translate(31.20 382.52) scale(0.970 1)" text-anchor="end" font-family='"Liberation Serif", serif' font-weight="bold" class="e" font-size="13.2">0.6</text>
<text transform="translate(31.20 342.16) scale(0.970 1)" text-anchor="end" font-family='"Liberation Serif", serif' font-weight="bold" class="e" font-size="13.2">0.8</text>
<text transform="translate(31.20 301.80) scale(0.970 1)" text-anchor="end" font-family='"Liberation Serif", serif' font-weight="bold" class="e" font-size="13.2">1</text>
<text transform="translate(32.80 517.50) scale(0.970 1)" text-anchor="middle" font-family='"Liberation Serif", serif' font-weight="bold" class="e" font-size="13.2">10<tspan dy="-7.6" font-size="9.4" font-weight="normal">−3</tspan></text>
<text transform="translate(74.80 517.50) scale(0.970 1)" text-anchor="middle" font-family='"Liberation Serif", serif' font-weight="bold" class="e" font-size="13.2">10<tspan dy="-7.6" font-size="9.4" font-weight="normal">−2</tspan></text>
<text transform="translate(116.80 517.50) scale(0.970 1)" text-anchor="middle" font-family='"Liberation Serif", serif' font-weight="bold" class="e" font-size="13.2">10<tspan dy="-7.6" font-size="9.4" font-weight="normal">−1</tspan></text>
<text transform="translate(158.80 517.50) scale(0.970 1)" text-anchor="middle" font-family='"Liberation Serif", serif' font-weight="bold" class="e" font-size="13.2">10<tspan dy="-7.6" font-size="9.4" font-weight="normal">0</tspan></text>
<text transform="translate(200.80 517.50) scale(0.970 1)" text-anchor="middle" font-family='"Liberation Serif", serif' font-weight="bold" class="e" font-size="13.2">10<tspan dy="-7.6" font-size="9.4" font-weight="normal">1</tspan></text>
<text transform="translate(242.80 517.50) scale(0.970 1)" text-anchor="middle" font-family='"Liberation Serif", serif' font-weight="bold" class="e" font-size="13.2">10<tspan dy="-7.6" font-size="9.4" font-weight="normal">2</tspan></text>
<text transform="translate(284.80 517.50) scale(0.970 1)" text-anchor="middle" font-family='"Liberation Serif", serif' font-weight="bold" class="e" font-size="13.2">10<tspan dy="-7.6" font-size="9.4" font-weight="normal">3</tspan></text>
<text x="159.60" y="292.40" text-anchor="middle" font-family='"Liberation Serif", serif' font-weight="bold" class="e" font-size="13.0">λ=0.08167,γ=0.5,N=6.28</text>
<text x="160.80" y="533.30" text-anchor="middle" font-family='"Liberation Serif", serif' font-weight="bold" font-size="19.5">t</text>
<text x="159.10" y="550.30" text-anchor="middle" letter-spacing="0.7" font-family='"Liberation Serif", serif' font-size="16.0">(c)</text>
<text transform="translate(9.50 405.40) rotate(-90)" x="0" y="0" class="e2" font-family='"Liberation Serif", serif' font-size="14.0">s<tspan dy="6.2" font-size="10.5">2</tspan></text>
<path d="M200.30 407.50 H219.90" fill="none" stroke="#000" stroke-width="1.70" stroke-dasharray="4.6 2.8" stroke-linejoin="round"/>
<text x="221.20" y="411.80" font-family='"Liberation Serif", serif' font-weight="bold" class="e" font-size="13.0">Pe=0.0001</text>
<path d="M200.30 420.20 H216.50" fill="none" stroke="#000" stroke-width="1.70" stroke-dasharray="5 2 1.2 2" stroke-linejoin="round"/>
<text x="220.70" y="424.50" font-family='"Liberation Serif", serif' font-weight="bold" class="e" font-size="13.0">Pe=0.0005</text>
<path d="M200.30 432.30 H219.00" fill="none" stroke="#000" stroke-width="1.70" stroke-dasharray="1.2 1.8" stroke-linejoin="round"/>
<text x="222.30" y="436.60" font-family='"Liberation Serif", serif' font-weight="bold" class="e" font-size="13.0">Pe=0.005</text>
<path d="M201.30 444.00 H220.70" fill="none" stroke="#000" stroke-width="1.70"  stroke-linejoin="round"/>
<text x="223.20" y="448.30" font-family='"Liberation Serif", serif' font-weight="bold" class="e" font-size="13.0">Pe=0.01</text>
<path d="M201.30 455.90 H221.50" fill="none" stroke="rgb(20,250,20)" stroke-width="1.70" stroke-dasharray="4.6 2.8" stroke-linejoin="round"/>
<text x="223.20" y="460.20" font-family='"Liberation Serif", serif' font-weight="bold" class="e" font-size="13.0">Pe =0.1</text>
<path d="M202.40 467.50 H222.30" fill="none" stroke="rgb(20,250,20)" stroke-width="1.70"  stroke-linejoin="round"/>
<text x="224.00" y="471.80" font-family='"Liberation Serif", serif' font-weight="bold" class="e" font-size="13.0">Pe =1.0</text>
<clipPath id="c3"><rect x="343.10" y="297.70" width="251.80" height="201.00"/></clipPath>
<g clip-path="url(#c3)">
<path d="M343.30 457.40 L344.30 457.24 L345.30 457.05 L346.30 456.84 L347.30 456.62 L348.30 456.37 L349.30 456.11 L350.30 455.84 L351.30 455.56 L352.30 455.28 L353.30 454.99 L354.30 454.69 L355.30 454.40 L356.30 454.11 L357.30 453.81 L358.30 453.51 L359.30 453.22 L360.30 452.93 L361.30 452.63 L362.30 452.34 L363.30 452.05 L364.30 451.76 L365.30 451.48 L366.30 451.20 L367.30 450.92 L368.30 450.65 L369.30 450.39 L370.30 450.13 L371.30 449.87 L372.30 449.63 L373.30 449.38 L374.30 449.15 L375.30 448.92 L376.30 448.69 L377.30 448.47 L378.30 448.25 L379.30 448.03 L380.30 447.81 L381.30 447.59 L382.30 447.37 L383.30 447.15 L384.30 446.92 L385.30 446.70 L386.30 446.46 L387.30 446.22 L388.30 445.98 L389.30 445.74 L390.30 445.49 L391.30 445.23 L392.30 444.97 L393.30 444.71 L394.30 444.44 L395.30 444.16 L396.30 443.88 L397.30 443.60 L398.30 443.31 L399.30 443.01 L400.30 442.71 L401.30 442.40 L402.30 442.08 L403.30 441.76 L404.30 441.43 L405.30 441.10 L406.30 440.76 L407.30 440.42 L408.30 440.08 L409.30 439.74 L410.30 439.40 L411.30 439.06 L412.30 438.72 L413.30 438.39 L414.30 438.06 L415.30 437.74 L416.30 437.42 L417.30 437.11 L418.30 436.80 L419.30 436.51 L420.30 436.22 L421.30 435.95 L422.30 435.68 L423.30 435.43 L424.30 435.20 L425.30 434.97 L426.30 434.76 L427.30 434.57 L428.30 434.38 L429.30 434.21 L430.30 434.05 L431.30 433.89 L432.30 433.74 L433.30 433.58 L434.30 433.43 L435.30 433.27 L436.30 433.11 L437.30 432.93 L438.30 432.75 L439.30 432.56 L440.30 432.36 L441.30 432.14 L442.30 431.92 L443.30 431.69 L444.30 431.45 L445.30 431.20 L446.30 430.95 L447.30 430.70 L448.30 430.44 L449.30 430.19 L450.30 429.93 L451.30 429.67 L452.30 429.41 L453.30 429.16 L454.30 428.91 L455.30 428.66 L456.30 428.42 L457.30 428.18 L458.30 427.94 L459.30 427.71 L460.30 427.49 L461.30 427.27 L462.30 427.06 L463.30 426.85 L464.30 426.65 L465.30 426.45 L466.30 426.26 L467.30 426.06 L468.30 425.88 L469.30 425.69 L470.30 425.51 L471.30 425.33 L472.30 425.16 L473.30 424.98 L474.30 424.81 L475.30 424.64 L476.30 424.48 L477.30 424.31 L478.30 424.15 L479.30 423.99 L480.30 423.84 L481.30 423.68 L482.30 423.53 L483.30 423.38 L484.30 423.23 L485.30 423.08 L486.30 422.94 L487.30 422.80 L488.30 422.66 L489.30 422.52 L490.30 422.38 L491.30 422.25 L492.30 422.12 L493.30 421.99 L494.30 421.87 L495.30 421.74 L496.30 421.62 L497.30 421.50 L498.30 421.38 L499.30 421.27 L500.30 421.16 L501.30 421.05 L502.30 420.94 L503.30 420.83 L504.30 420.73 L505.30 420.62 L506.30 420.53 L507.30 420.43 L508.30 420.34 L509.30 420.25 L510.30 420.16 L511.30 420.08 L512.30 420.01 L513.30 419.94 L514.30 419.87 L515.30 419.82 L516.30 419.76 L517.30 419.72 L518.30 419.68 L519.30 419.64 L520.30 419.61 L521.30 419.58 L522.30 419.56 L523.30 419.53 L524.30 419.51 L525.30 419.49 L526.30 419.47 L527.30 419.44 L528.30 419.42 L529.30 419.40 L530.30 419.37 L531.30 419.34 L532.30 419.32 L533.30 419.29 L534.30 419.25 L535.30 419.22 L536.30 419.19 L537.30 419.15 L538.30 419.11 L539.30 419.07 L540.30 419.03 L541.30 418.98 L542.30 418.94 L543.30 418.89 L544.30 418.85 L545.30 418.80 L546.30 418.76 L547.30 418.72 L548.30 418.68 L549.30 418.65 L550.30 418.62 L551.30 418.60 L552.30 418.58 L553.30 418.57 L554.30 418.57 L555.30 418.56 L556.30 418.57 L557.30 418.57 L558.30 418.58 L559.30 418.60 L560.30 418.62 L561.30 418.64 L562.30 418.66 L563.30 418.68 L564.30 418.71 L565.30 418.74 L566.30 418.77 L567.30 418.80 L568.30 418.84 L569.30 418.87 L570.30 418.91 L571.30 418.95 L572.30 418.99 L573.30 419.03 L574.30 419.08 L575.30 419.12 L576.30 419.17 L577.30 419.22 L578.30 419.27 L579.30 419.32 L580.30 419.37 L581.30 419.42 L582.30 419.48 L583.30 419.53 L584.30 419.59 L585.30 419.64 L586.30 419.70 L587.30 419.75 L588.30 419.80 L589.30 419.85 L590.30 419.90 L591.30 419.95 L592.30 419.99 L593.30 420.03 L594.30 420.07 L594.90 420.10" fill="none" stroke="#000" stroke-width="2.00" stroke-dasharray="4.6 2.8" stroke-linejoin="round"/>
<path d="M343.30 446.87 L344.30 446.64 L345.30 446.38 L346.30 446.09 L347.30 445.78 L348.30 445.43 L349.30 445.07 L350.30 444.69 L351.30 444.29 L352.30 443.89 L353.30 443.47 L354.30 443.05 L355.30 442.62 L356.30 442.19 L357.30 441.75 L358.30 441.31 L359.30 440.87 L360.30 440.42 L361.30 439.97 L362.30 439.52 L363.30 439.07 L364.30 438.62 L365.30 438.16 L366.30 437.71 L367.30 437.26 L368.30 436.81 L369.30 436.36 L370.30 435.92 L371.30 435.47 L372.30 435.04 L373.30 434.61 L374.30 434.18 L375.30 433.75 L376.30 433.33 L377.30 432.91 L378.30 432.49 L379.30 432.07 L380.30 431.65 L381.30 431.24 L382.30 430.82 L383.30 430.39 L384.30 429.97 L385.30 429.54 L386.30 429.11 L387.30 428.67 L388.30 428.24 L389.30 427.79 L390.30 427.35 L391.30 426.91 L392.30 426.46 L393.30 426.01 L394.30 425.57 L395.30 425.12 L396.30 424.68 L397.30 424.24 L398.30 423.80 L399.30 423.36 L400.30 422.93 L401.30 422.51 L402.30 422.08 L403.30 421.67 L404.30 421.25 L405.30 420.84 L406.30 420.44 L407.30 420.04 L408.30 419.65 L409.30 419.26 L410.30 418.87 L411.30 418.49 L412.30 418.12 L413.30 417.75 L414.30 417.38 L415.30 417.02 L416.30 416.66 L417.30 416.30 L418.30 415.95 L419.30 415.61 L420.30 415.27 L421.30 414.93 L422.30 414.60 L423.30 414.28 L424.30 413.96 L425.30 413.65 L426.30 413.34 L427.30 413.04 L428.30 412.74 L429.30 412.45 L430.30 412.16 L431.30 411.87 L432.30 411.59 L433.30 411.30 L434.30 411.02 L435.30 410.74 L436.30 410.45 L437.30 410.17 L438.30 409.88 L439.30 409.59 L440.30 409.30 L441.30 409.01 L442.30 408.72 L443.30 408.43 L444.30 408.14 L445.30 407.85 L446.30 407.57 L447.30 407.28 L448.30 407.00 L449.30 406.73 L450.30 406.45 L451.30 406.18 L452.30 405.92 L453.30 405.66 L454.30 405.40 L455.30 405.15 L456.30 404.91 L457.30 404.66 L458.30 404.43 L459.30 404.20 L460.30 403.97 L461.30 403.75 L462.30 403.53 L463.30 403.32 L464.30 403.11 L465.30 402.90 L466.30 402.69 L467.30 402.49 L468.30 402.29 L469.30 402.09 L470.30 401.89 L471.30 401.70 L472.30 401.51 L473.30 401.31 L474.30 401.12 L475.30 400.93 L476.30 400.75 L477.30 400.57 L478.30 400.39 L479.30 400.21 L480.30 400.04 L481.30 399.88 L482.30 399.73 L483.30 399.59 L484.30 399.46 L485.30 399.33 L486.30 399.22 L487.30 399.13 L488.30 399.04 L489.30 398.96 L490.30 398.90 L491.30 398.84 L492.30 398.79 L493.30 398.75 L494.30 398.72 L495.30 398.68 L496.30 398.66 L497.30 398.63 L498.30 398.61 L499.30 398.58 L500.30 398.56 L501.30 398.54 L502.30 398.52 L503.30 398.50 L504.30 398.48 L505.30 398.46 L506.30 398.44 L507.30 398.42 L508.30 398.40 L509.30 398.38 L510.30 398.37 L511.30 398.35 L512.30 398.33 L513.30 398.32 L514.30 398.31 L515.30 398.31 L516.30 398.32 L517.30 398.33 L518.30 398.35 L519.30 398.38 L520.30 398.42 L521.30 398.47 L522.30 398.53 L523.30 398.60 L524.30 398.68 L525.30 398.76 L526.30 398.85 L527.30 398.94 L528.30 399.04 L529.30 399.13 L530.30 399.24 L531.30 399.34 L532.30 399.44 L533.30 399.54 L534.30 399.65 L535.30 399.75 L536.30 399.86 L537.30 399.96 L538.30 400.06 L539.30 400.17 L540.30 400.27 L541.30 400.38 L542.30 400.48 L543.30 400.59 L544.30 400.69 L545.30 400.80 L546.30 400.90 L547.30 401.01 L548.30 401.12 L549.30 401.23 L550.30 401.35 L551.30 401.46 L552.30 401.59 L553.30 401.72 L554.30 401.85 L555.30 401.99 L556.30 402.13 L557.30 402.28 L558.30 402.43 L559.30 402.60 L560.30 402.76 L561.30 402.94 L562.30 403.12 L563.30 403.32 L564.30 403.52 L565.30 403.73 L566.30 403.95 L567.30 404.18 L568.30 404.41 L569.30 404.66 L570.30 404.90 L571.30 405.15 L572.30 405.41 L573.30 405.66 L574.30 405.91 L575.30 406.16 L576.30 406.41 L577.30 406.65 L578.30 406.88 L579.30 407.11 L580.30 407.33 L581.30 407.55 L582.30 407.76 L583.30 407.97 L584.30 408.18 L585.30 408.38 L586.30 408.58 L587.30 408.77 L588.30 408.95 L589.30 409.13 L590.30 409.30 L591.30 409.45 L592.30 409.60 L593.30 409.73 L594.30 409.84 L594.90 409.95" fill="none" stroke="#000" stroke-width="2.00" stroke-dasharray="5 2 1.2 2" stroke-linejoin="round"/>
<path d="M343.30 439.01 L344.30 438.70 L345.30 438.28 L346.30 437.82 L347.30 437.33 L348.30 436.84 L349.30 436.34 L350.30 435.85 L351.30 435.35 L352.30 434.85 L353.30 434.35 L354.30 433.84 L355.30 433.32 L356.30 432.80 L357.30 432.27 L358.30 431.73 L359.30 431.18 L360.30 430.62 L361.30 430.06 L362.30 429.49 L363.30 428.91 L364.30 428.33 L365.30 427.74 L366.30 427.15 L367.30 426.55 L368.30 425.95 L369.30 425.35 L370.30 424.74 L371.30 424.12 L372.30 423.50 L373.30 422.87 L374.30 422.24 L375.30 421.59 L376.30 420.93 L377.30 420.27 L378.30 419.61 L379.30 418.95 L380.30 418.29 L381.30 417.64 L382.30 416.99 L383.30 416.36 L384.30 415.74 L385.30 415.13 L386.30 414.55 L387.30 413.98 L388.30 413.43 L389.30 412.89 L390.30 412.37 L391.30 411.85 L392.30 411.34 L393.30 410.84 L394.30 410.34 L395.30 409.84 L396.30 409.33 L397.30 408.82 L398.30 408.30 L399.30 407.76 L400.30 407.21 L401.30 406.65 L402.30 406.06 L403.30 405.47 L404.30 404.86 L405.30 404.25 L406.30 403.64 L407.30 403.03 L408.30 402.44 L409.30 401.86 L410.30 401.31 L411.30 400.78 L412.30 400.28 L413.30 399.80 L414.30 399.34 L415.30 398.89 L416.30 398.46 L417.30 398.05 L418.30 397.64 L419.30 397.25 L420.30 396.86 L421.30 396.49 L422.30 396.12 L423.30 395.77 L424.30 395.42 L425.30 395.08 L426.30 394.77 L427.30 394.47 L428.30 394.19 L429.30 393.92 L430.30 393.68 L431.30 393.44 L432.30 393.20 L433.30 392.96 L434.30 392.72 L435.30 392.46 L436.30 392.18 L437.30 391.88 L438.30 391.57 L439.30 391.23 L440.30 390.88 L441.30 390.52 L442.30 390.16 L443.30 389.80 L444.30 389.43 L445.30 389.08 L446.30 388.73 L447.30 388.40 L448.30 388.08 L449.30 387.77 L450.30 387.48 L451.30 387.19 L452.30 386.92 L453.30 386.65 L454.30 386.39 L455.30 386.14 L456.30 385.90 L457.30 385.66 L458.30 385.44 L459.30 385.23 L460.30 385.04 L461.30 384.86 L462.30 384.69 L463.30 384.54 L464.30 384.40 L465.30 384.27 L466.30 384.16 L467.30 384.05 L468.30 383.96 L469.30 383.87 L470.30 383.78 L471.30 383.71 L472.30 383.64 L473.30 383.58 L474.30 383.52 L475.30 383.47 L476.30 383.43 L477.30 383.40 L478.30 383.36 L479.30 383.34 L480.30 383.32 L481.30 383.30 L482.30 383.28 L483.30 383.26 L484.30 383.24 L485.30 383.23 L486.30 383.24 L487.30 383.27 L488.30 383.33 L489.30 383.43 L490.30 383.59 L491.30 383.81 L492.30 384.08 L493.30 384.42 L494.30 384.81 L495.30 385.25 L496.30 385.74 L497.30 386.27 L498.30 386.83 L499.30 387.43 L500.30 388.07 L501.30 388.74 L502.30 389.45 L503.30 390.18 L504.30 390.91 L505.30 391.65 L506.30 392.37 L507.30 393.09 L508.30 393.82 L509.30 394.60 L510.30 395.46 L511.30 396.41 L512.30 397.46 L513.30 398.57 L514.30 399.70 L515.30 400.85 L516.30 401.99 L517.30 403.10 L518.30 404.15 L519.30 405.12 L520.30 406.01 L521.30 406.83 L522.30 407.59 L523.30 408.30 L524.30 408.96 L525.30 409.58 L526.30 410.14 L527.30 410.65 L528.30 411.11 L529.30 411.51 L530.30 411.85 L531.30 412.12 L532.30 412.32 L533.30 412.44 L534.30 412.47 L535.30 412.43 L536.30 412.33 L537.30 412.18 L538.30 412.02 L539.30 411.83 L540.30 411.65 L541.30 411.45 L542.30 411.23 L543.30 411.00 L544.30 410.74 L545.30 410.45 L546.30 410.12 L547.30 409.76 L548.30 409.37 L549.30 408.95 L550.30 408.51 L551.30 408.06 L552.30 407.61 L553.30 407.16 L554.30 406.70 L555.30 406.24 L556.30 405.80 L557.30 405.39 L558.30 405.02 L559.30 404.69 L560.30 404.39 L561.30 404.13 L562.30 403.89 L563.30 403.67 L564.30 403.48 L565.30 403.31 L566.30 403.15 L567.30 403.01 L568.30 402.88 L569.30 402.75 L570.30 402.64 L571.30 402.54 L572.30 402.45 L573.30 402.38 L574.30 402.32 L575.30 402.27 L576.30 402.23 L577.30 402.21 L578.30 402.20 L579.30 402.20 L580.30 402.20 L581.30 402.21 L582.30 402.23 L583.30 402.25 L584.30 402.27 L585.30 402.30 L586.30 402.33 L587.30 402.36 L588.30 402.39 L589.30 402.42 L590.30 402.45 L591.30 402.49 L592.30 402.52 L593.30 402.55 L594.30 402.57 L594.90 402.59" fill="none" stroke="#000" stroke-width="2.00" stroke-dasharray="1.2 1.8" stroke-linejoin="round"/>
<path d="M343.30 434.56 L344.30 434.09 L345.30 433.46 L346.30 432.75 L347.30 432.01 L348.30 431.27 L349.30 430.52 L350.30 429.78 L351.30 429.03 L352.30 428.28 L353.30 427.53 L354.30 426.78 L355.30 426.03 L356.30 425.28 L357.30 424.53 L358.30 423.77 L359.30 423.01 L360.30 422.24 L361.30 421.47 L362.30 420.70 L363.30 419.93 L364.30 419.16 L365.30 418.39 L366.30 417.61 L367.30 416.85 L368.30 416.08 L369.30 415.32 L370.30 414.57 L371.30 413.82 L372.30 413.08 L373.30 412.35 L374.30 411.62 L375.30 410.89 L376.30 410.16 L377.30 409.44 L378.30 408.72 L379.30 408.01 L380.30 407.31 L381.30 406.60 L382.30 405.91 L383.30 405.22 L384.30 404.55 L385.30 403.88 L386.30 403.22 L387.30 402.57 L388.30 401.93 L389.30 401.31 L390.30 400.69 L391.30 400.09 L392.30 399.48 L393.30 398.88 L394.30 398.28 L395.30 397.69 L396.30 397.08 L397.30 396.47 L398.30 395.86 L399.30 395.23 L400.30 394.58 L401.30 393.92 L402.30 393.24 L403.30 392.54 L404.30 391.83 L405.30 391.12 L406.30 390.41 L407.30 389.71 L408.30 389.03 L409.30 388.37 L410.30 387.74 L411.30 387.15 L412.30 386.58 L413.30 386.05 L414.30 385.55 L415.30 385.08 L416.30 384.62 L417.30 384.18 L418.30 383.76 L419.30 383.35 L420.30 382.95 L421.30 382.56 L422.30 382.18 L423.30 381.81 L424.30 381.44 L425.30 381.08 L426.30 380.72 L427.30 380.38 L428.30 380.04 L429.30 379.72 L430.30 379.40 L431.30 379.10 L432.30 378.80 L433.30 378.51 L434.30 378.22 L435.30 377.94 L436.30 377.66 L437.30 377.39 L438.30 377.13 L439.30 376.86 L440.30 376.61 L441.30 376.36 L442.30 376.12 L443.30 375.89 L444.30 375.67 L445.30 375.46 L446.30 375.25 L447.30 375.04 L448.30 374.84 L449.30 374.65 L450.30 374.46 L451.30 374.27 L452.30 374.08 L453.30 373.90 L454.30 373.73 L455.30 373.56 L456.30 373.40 L457.30 373.25 L458.30 373.11 L459.30 372.98 L460.30 372.87 L461.30 372.76 L462.30 372.66 L463.30 372.57 L464.30 372.50 L465.30 372.45 L466.30 372.42 L467.30 372.43 L468.30 372.51 L469.30 372.66 L470.30 372.92 L471.30 373.34 L472.30 373.91 L473.30 374.68 L474.30 375.68 L475.30 376.94 L476.30 378.51 L477.30 380.40 L478.30 382.57 L479.30 384.96 L480.30 387.48 L481.30 390.07 L482.30 392.65 L483.30 395.20 L484.30 397.68 L485.30 400.07 L486.30 402.37 L487.30 404.56 L488.30 406.63 L489.30 408.56 L490.30 410.34 L491.30 411.97 L492.30 413.43 L493.30 414.70 L494.30 415.77 L495.30 416.63 L496.30 417.28 L497.30 417.71 L498.30 417.94 L499.30 417.97 L500.30 417.80 L501.30 417.42 L502.30 416.83 L503.30 416.03 L504.30 415.04 L505.30 413.85 L506.30 412.49 L507.30 410.96 L508.30 409.31 L509.30 407.62 L510.30 405.95 L511.30 404.34 L512.30 402.83 L513.30 401.41 L514.30 400.07 L515.30 398.78 L516.30 397.47 L517.30 396.12 L518.30 394.76 L519.30 393.45 L520.30 392.27 L521.30 391.22 L522.30 390.31 L523.30 389.54 L524.30 388.91 L525.30 388.42 L526.30 388.09 L527.30 387.91 L528.30 387.88 L529.30 387.96 L530.30 388.13 L531.30 388.40 L532.30 388.74 L533.30 389.15 L534.30 389.61 L535.30 390.13 L536.30 390.68 L537.30 391.26 L538.30 391.87 L539.30 392.49 L540.30 393.14 L541.30 393.81 L542.30 394.52 L543.30 395.28 L544.30 396.06 L545.30 396.83 L546.30 397.57 L547.30 398.23 L548.30 398.83 L549.30 399.37 L550.30 399.87 L551.30 400.29 L552.30 400.64 L553.30 400.90 L554.30 401.11 L555.30 401.28 L556.30 401.40 L557.30 401.49 L558.30 401.54 L559.30 401.53 L560.30 401.48 L561.30 401.38 L562.30 401.24 L563.30 401.07 L564.30 400.88 L565.30 400.67 L566.30 400.45 L567.30 400.22 L568.30 399.99 L569.30 399.76 L570.30 399.54 L571.30 399.32 L572.30 399.12 L573.30 398.93 L574.30 398.76 L575.30 398.59 L576.30 398.43 L577.30 398.28 L578.30 398.14 L579.30 398.00 L580.30 397.87 L581.30 397.75 L582.30 397.64 L583.30 397.53 L584.30 397.44 L585.30 397.36 L586.30 397.29 L587.30 397.23 L588.30 397.19 L589.30 397.15 L590.30 397.12 L591.30 397.09 L592.30 397.06 L593.30 397.04 L594.30 397.02 L594.90 397.01" fill="none" stroke="#000" stroke-width="2.00"  stroke-linejoin="round"/>
<path d="M343.30 429.92 L344.30 429.31 L345.30 428.49 L346.30 427.57 L347.30 426.61 L348.30 425.64 L349.30 424.66 L350.30 423.69 L351.30 422.72 L352.30 421.74 L353.30 420.77 L354.30 419.80 L355.30 418.83 L356.30 417.85 L357.30 416.88 L358.30 415.91 L359.30 414.93 L360.30 413.96 L361.30 412.98 L362.30 412.01 L363.30 411.03 L364.30 410.05 L365.30 409.08 L366.30 408.10 L367.30 407.13 L368.30 406.16 L369.30 405.20 L370.30 404.23 L371.30 403.27 L372.30 402.31 L373.30 401.35 L374.30 400.38 L375.30 399.41 L376.30 398.44 L377.30 397.47 L378.30 396.50 L379.30 395.54 L380.30 394.60 L381.30 393.66 L382.30 392.74 L383.30 391.84 L384.30 390.97 L385.30 390.11 L386.30 389.29 L387.30 388.49 L388.30 387.72 L389.30 386.97 L390.30 386.24 L391.30 385.53 L392.30 384.83 L393.30 384.14 L394.30 383.47 L395.30 382.79 L396.30 382.12 L397.30 381.44 L398.30 380.76 L399.30 380.07 L400.30 379.37 L401.30 378.65 L402.30 377.91 L403.30 377.17 L404.30 376.41 L405.30 375.66 L406.30 374.92 L407.30 374.20 L408.30 373.51 L409.30 372.84 L410.30 372.22 L411.30 371.64 L412.30 371.10 L413.30 370.61 L414.30 370.15 L415.30 369.74 L416.30 369.35 L417.30 368.98 L418.30 368.64 L419.30 368.32 L420.30 368.01 L421.30 367.71 L422.30 367.42 L423.30 367.13 L424.30 366.84 L425.30 366.56 L426.30 366.29 L427.30 366.02 L428.30 365.76 L429.30 365.52 L430.30 365.29 L431.30 365.06 L432.30 364.84 L433.30 364.63 L434.30 364.42 L435.30 364.22 L436.30 364.02 L437.30 363.84 L438.30 363.67 L439.30 363.52 L440.30 363.41 L441.30 363.30 L442.30 363.19 L443.30 363.07 L444.30 362.96 L445.30 362.88 L446.30 362.85 L447.30 362.89 L448.30 363.02 L449.30 363.27 L450.30 363.69 L451.30 364.33 L452.30 365.23 L453.30 366.39 L454.30 367.80 L455.30 369.41 L456.30 371.21 L457.30 373.17 L458.30 375.28 L459.30 377.52 L460.30 379.85 L461.30 382.25 L462.30 384.69 L463.30 387.16 L464.30 389.63 L465.30 392.04 L466.30 394.38 L467.30 396.64 L468.30 398.81 L469.30 400.91 L470.30 402.94 L471.30 404.91 L472.30 406.80 L473.30 408.58 L474.30 410.19 L475.30 411.56 L476.30 412.69 L477.30 413.57 L478.30 414.23 L479.30 414.74 L480.30 415.09 L481.30 415.30 L482.30 415.35 L483.30 415.25 L484.30 414.99 L485.30 414.57 L486.30 414.00 L487.30 413.29 L488.30 412.44 L489.30 411.45 L490.30 410.32 L491.30 409.04 L492.30 407.63 L493.30 406.13 L494.30 404.57 L495.30 402.99 L496.30 401.40 L497.30 399.81 L498.30 398.22 L499.30 396.64 L500.30 395.11 L501.30 393.66 L502.30 392.36 L503.30 391.21 L504.30 390.22 L505.30 389.34 L506.30 388.52 L507.30 387.74 L508.30 387.01 L509.30 386.33 L510.30 385.72 L511.30 385.20 L512.30 384.78 L513.30 384.50 L514.30 384.37 L515.30 384.38 L516.30 384.50 L517.30 384.68 L518.30 384.89 L519.30 385.11 L520.30 385.33 L521.30 385.53 L522.30 385.74 L523.30 385.97 L524.30 386.22 L525.30 386.53 L526.30 386.89 L527.30 387.31 L528.30 387.80 L529.30 388.33 L530.30 388.89 L531.30 389.43 L532.30 389.96 L533.30 390.44 L534.30 390.90 L535.30 391.32 L536.30 391.73 L537.30 392.11 L538.30 392.47 L539.30 392.82 L540.30 393.15 L541.30 393.46 L542.30 393.76 L543.30 394.03 L544.30 394.28 L545.30 394.50 L546.30 394.68 L547.30 394.84 L548.30 394.96 L549.30 395.04 L550.30 395.09 L551.30 395.11 L552.30 395.10 L553.30 395.06 L554.30 395.00 L555.30 394.92 L556.30 394.83 L557.30 394.73 L558.30 394.62 L559.30 394.52 L560.30 394.42 L561.30 394.33 L562.30 394.24 L563.30 394.17 L564.30 394.10 L565.30 394.04 L566.30 393.98 L567.30 393.93 L568.30 393.89 L569.30 393.84 L570.30 393.80 L571.30 393.76 L572.30 393.72 L573.30 393.68 L574.30 393.64 L575.30 393.60 L576.30 393.56 L577.30 393.52 L578.30 393.49 L579.30 393.45 L580.30 393.41 L581.30 393.38 L582.30 393.34 L583.30 393.31 L584.30 393.27 L585.30 393.24 L586.30 393.20 L587.30 393.17 L588.30 393.13 L589.30 393.10 L590.30 393.06 L591.30 393.03 L592.30 392.99 L593.30 392.96 L594.30 392.93 L594.90 392.92" fill="none" stroke="rgb(20,250,20)" stroke-width="2.00" stroke-dasharray="4.6 2.8" stroke-linejoin="round"/>
<path d="M343.30 421.68 L344.30 420.81 L345.30 419.65 L346.30 418.33 L347.30 416.95 L348.30 415.57 L349.30 414.18 L350.30 412.80 L351.30 411.42 L352.30 410.05 L353.30 408.67 L354.30 407.31 L355.30 405.95 L356.30 404.59 L357.30 403.25 L358.30 401.91 L359.30 400.58 L360.30 399.26 L361.30 397.95 L362.30 396.64 L363.30 395.34 L364.30 394.05 L365.30 392.76 L366.30 391.48 L367.30 390.21 L368.30 388.94 L369.30 387.68 L370.30 386.42 L371.30 385.17 L372.30 383.92 L373.30 382.67 L374.30 381.41 L375.30 380.14 L376.30 378.88 L377.30 377.62 L378.30 376.37 L379.30 375.13 L380.30 373.92 L381.30 372.73 L382.30 371.58 L383.30 370.46 L384.30 369.38 L385.30 368.35 L386.30 367.37 L387.30 366.43 L388.30 365.54 L389.30 364.69 L390.30 363.87 L391.30 363.09 L392.30 362.33 L393.30 361.60 L394.30 360.89 L395.30 360.20 L396.30 359.53 L397.30 358.86 L398.30 358.21 L399.30 357.56 L400.30 356.91 L401.30 356.28 L402.30 355.65 L403.30 355.04 L404.30 354.44 L405.30 353.87 L406.30 353.32 L407.30 352.79 L408.30 352.30 L409.30 351.83 L410.30 351.39 L411.30 350.98 L412.30 350.60 L413.30 350.26 L414.30 349.95 L415.30 349.66 L416.30 349.41 L417.30 349.17 L418.30 348.95 L419.30 348.74 L420.30 348.55 L421.30 348.37 L422.30 348.19 L423.30 348.03 L424.30 347.88 L425.30 347.75 L426.30 347.67 L427.30 347.69 L428.30 347.91 L429.30 348.41 L430.30 349.22 L431.30 350.31 L432.30 351.67 L433.30 353.26 L434.30 355.06 L435.30 357.03 L436.30 359.12 L437.30 361.29 L438.30 363.50 L439.30 365.74 L440.30 368.02 L441.30 370.38 L442.30 372.84 L443.30 375.41 L444.30 378.09 L445.30 380.85 L446.30 383.63 L447.30 386.39 L448.30 389.10 L449.30 391.75 L450.30 394.35 L451.30 396.85 L452.30 399.23 L453.30 401.43 L454.30 403.40 L455.30 405.15 L456.30 406.68 L457.30 408.01 L458.30 409.18 L459.30 410.21 L460.30 411.11 L461.30 411.88 L462.30 412.52 L463.30 413.03 L464.30 413.37 L465.30 413.56 L466.30 413.57 L467.30 413.41 L468.30 413.10 L469.30 412.65 L470.30 412.09 L471.30 411.42 L472.30 410.60 L473.30 409.62 L474.30 408.47 L475.30 407.17 L476.30 405.77 L477.30 404.27 L478.30 402.72 L479.30 401.14 L480.30 399.53 L481.30 397.92 L482.30 396.32 L483.30 394.75 L484.30 393.22 L485.30 391.75 L486.30 390.36 L487.30 389.08 L488.30 387.91 L489.30 386.84 L490.30 385.85 L491.30 384.95 L492.30 384.15 L493.30 383.45 L494.30 382.89 L495.30 382.44 L496.30 382.10 L497.30 381.84 L498.30 381.65 L499.30 381.52 L500.30 381.44 L501.30 381.42 L502.30 381.44 L503.30 381.50 L504.30 381.58 L505.30 381.69 L506.30 381.83 L507.30 382.00 L508.30 382.19 L509.30 382.41 L510.30 382.64 L511.30 382.88 L512.30 383.12 L513.30 383.37 L514.30 383.62 L515.30 383.88 L516.30 384.13 L517.30 384.39 L518.30 384.66 L519.30 384.93 L520.30 385.21 L521.30 385.49 L522.30 385.78 L523.30 386.06 L524.30 386.35 L525.30 386.62 L526.30 386.89 L527.30 387.15 L528.30 387.41 L529.30 387.65 L530.30 387.88 L531.30 388.09 L532.30 388.27 L533.30 388.42 L534.30 388.55 L535.30 388.64 L536.30 388.71 L537.30 388.75 L538.30 388.77 L539.30 388.79 L540.30 388.79 L541.30 388.79 L542.30 388.77 L543.30 388.75 L544.30 388.73 L545.30 388.71 L546.30 388.69 L547.30 388.67 L548.30 388.65 L549.30 388.64 L550.30 388.63 L551.30 388.62 L552.30 388.61 L553.30 388.60 L554.30 388.59 L555.30 388.59 L556.30 388.58 L557.30 388.57 L558.30 388.57 L559.30 388.56 L560.30 388.56 L561.30 388.55 L562.30 388.55 L563.30 388.54 L564.30 388.54 L565.30 388.53 L566.30 388.53 L567.30 388.52 L568.30 388.52 L569.30 388.51 L570.30 388.51 L571.30 388.50 L572.30 388.50 L573.30 388.49 L574.30 388.49 L575.30 388.49 L576.30 388.48 L577.30 388.48 L578.30 388.47 L579.30 388.47 L580.30 388.46 L581.30 388.46 L582.30 388.45 L583.30 388.45 L584.30 388.45 L585.30 388.44 L586.30 388.44 L587.30 388.43 L588.30 388.43 L589.30 388.42 L590.30 388.42 L591.30 388.42 L592.30 388.41 L593.30 388.41 L594.30 388.40 L594.90 388.40" fill="none" stroke="rgb(20,250,20)" stroke-width="2.00"  stroke-linejoin="round"/>
</g>
<path d="M355.73 498.70 V496.50 M355.73 297.70 V299.90 M363.12 498.70 V496.50 M363.12 297.70 V299.90 M368.37 498.70 V496.50 M368.37 297.70 V299.90 M372.43 498.70 V496.50 M372.43 297.70 V299.90 M375.76 498.70 V496.50 M375.76 297.70 V299.90 M378.57 498.70 V496.50 M378.57 297.70 V299.90 M381.00 498.70 V496.50 M381.00 297.70 V299.90 M383.15 498.70 V496.50 M383.15 297.70 V299.90 M385.07 498.70 V496.50 M385.07 297.70 V299.90 M397.70 498.70 V496.50 M397.70 297.70 V299.90 M405.09 498.70 V496.50 M405.09 297.70 V299.90 M410.33 498.70 V496.50 M410.33 297.70 V299.90 M414.40 498.70 V496.50 M414.40 297.70 V299.90 M417.72 498.70 V496.50 M417.72 297.70 V299.90 M420.53 498.70 V496.50 M420.53 297.70 V299.90 M422.97 498.70 V496.50 M422.97 297.70 V299.90 M425.11 498.70 V496.50 M425.11 297.70 V299.90 M427.03 498.70 V496.50 M427.03 297.70 V299.90 M439.67 498.70 V496.50 M439.67 297.70 V299.90 M447.06 498.70 V496.50 M447.06 297.70 V299.90 M452.30 498.70 V496.50 M452.30 297.70 V299.90 M456.37 498.70 V496.50 M456.37 297.70 V299.90 M459.69 498.70 V496.50 M459.69 297.70 V299.90 M462.50 498.70 V496.50 M462.50 297.70 V299.90 M464.93 498.70 V496.50 M464.93 297.70 V299.90 M467.08 498.70 V496.50 M467.08 297.70 V299.90 M469.00 498.70 V496.50 M469.00 297.70 V299.90 M481.63 498.70 V496.50 M481.63 297.70 V299.90 M489.02 498.70 V496.50 M489.02 297.70 V299.90 M494.27 498.70 V496.50 M494.27 297.70 V299.90 M498.33 498.70 V496.50 M498.33 297.70 V299.90 M501.66 498.70 V496.50 M501.66 297.70 V299.90 M504.47 498.70 V496.50 M504.47 297.70 V299.90 M506.90 498.70 V496.50 M506.90 297.70 V299.90 M509.05 498.70 V496.50 M509.05 297.70 V299.90 M510.97 498.70 V496.50 M510.97 297.70 V299.90 M523.60 498.70 V496.50 M523.60 297.70 V299.90 M530.99 498.70 V496.50 M530.99 297.70 V299.90 M536.23 498.70 V496.50 M536.23 297.70 V299.90 M540.30 498.70 V496.50 M540.30 297.70 V299.90 M543.62 498.70 V496.50 M543.62 297.70 V299.90 M546.43 498.70 V496.50 M546.43 297.70 V299.90 M548.87 498.70 V496.50 M548.87 297.70 V299.90 M551.01 498.70 V496.50 M551.01 297.70 V299.90 M552.93 498.70 V496.50 M552.93 297.70 V299.90 M565.57 498.70 V496.50 M565.57 297.70 V299.90 M572.96 498.70 V496.50 M572.96 297.70 V299.90 M578.20 498.70 V496.50 M578.20 297.70 V299.90 M582.27 498.70 V496.50 M582.27 297.70 V299.90 M585.59 498.70 V496.50 M585.59 297.70 V299.90 M588.40 498.70 V496.50 M588.40 297.70 V299.90 M590.83 498.70 V496.50 M590.83 297.70 V299.90 M592.98 498.70 V496.50 M592.98 297.70 V299.90" stroke="#000" stroke-width="1.2" fill="none"/>
<path d="M343.10 498.70 H346.10 M594.90 498.70 H591.90 M343.10 458.50 H346.10 M594.90 458.50 H591.90 M343.10 418.30 H346.10 M594.90 418.30 H591.90 M343.10 378.10 H346.10 M594.90 378.10 H591.90 M343.10 337.90 H346.10 M594.90 337.90 H591.90 M343.10 297.70 H346.10 M594.90 297.70 H591.90" stroke="#000" stroke-width="1.5" fill="none"/>
<rect x="343.10" y="297.70" width="251.80" height="201.00" fill="none" stroke="#000" stroke-width="2.00"/>
<text transform="translate(341.50 503.60) scale(0.970 1)" text-anchor="end" font-family='"Liberation Serif", serif' font-weight="bold" class="e" font-size="13.2">0</text>
<text transform="translate(341.50 463.40) scale(0.970 1)" text-anchor="end" font-family='"Liberation Serif", serif' font-weight="bold" class="e" font-size="13.2">0.08</text>
<text transform="translate(341.50 423.20) scale(0.970 1)" text-anchor="end" font-family='"Liberation Serif", serif' font-weight="bold" class="e" font-size="13.2">0.16</text>
<text transform="translate(341.50 383.00) scale(0.970 1)" text-anchor="end" font-family='"Liberation Serif", serif' font-weight="bold" class="e" font-size="13.2">0.24</text>
<text transform="translate(341.50 342.80) scale(0.970 1)" text-anchor="end" font-family='"Liberation Serif", serif' font-weight="bold" class="e" font-size="13.2">0.32</text>
<text transform="translate(341.50 302.60) scale(0.970 1)" text-anchor="end" font-family='"Liberation Serif", serif' font-weight="bold" class="e" font-size="13.2">0.4</text>
<text transform="translate(343.10 517.50) scale(0.970 1)" text-anchor="middle" font-family='"Liberation Serif", serif' font-weight="bold" class="e" font-size="13.2">10<tspan dy="-7.6" font-size="9.4" font-weight="normal">−3</tspan></text>
<text transform="translate(385.07 517.50) scale(0.970 1)" text-anchor="middle" font-family='"Liberation Serif", serif' font-weight="bold" class="e" font-size="13.2">10<tspan dy="-7.6" font-size="9.4" font-weight="normal">−2</tspan></text>
<text transform="translate(427.03 517.50) scale(0.970 1)" text-anchor="middle" font-family='"Liberation Serif", serif' font-weight="bold" class="e" font-size="13.2">10<tspan dy="-7.6" font-size="9.4" font-weight="normal">−1</tspan></text>
<text transform="translate(469.00 517.50) scale(0.970 1)" text-anchor="middle" font-family='"Liberation Serif", serif' font-weight="bold" class="e" font-size="13.2">10<tspan dy="-7.6" font-size="9.4" font-weight="normal">0</tspan></text>
<text transform="translate(510.97 517.50) scale(0.970 1)" text-anchor="middle" font-family='"Liberation Serif", serif' font-weight="bold" class="e" font-size="13.2">10<tspan dy="-7.6" font-size="9.4" font-weight="normal">1</tspan></text>
<text transform="translate(552.93 517.50) scale(0.970 1)" text-anchor="middle" font-family='"Liberation Serif", serif' font-weight="bold" class="e" font-size="13.2">10<tspan dy="-7.6" font-size="9.4" font-weight="normal">2</tspan></text>
<text transform="translate(594.90 517.50) scale(0.970 1)" text-anchor="middle" font-family='"Liberation Serif", serif' font-weight="bold" class="e" font-size="13.2">10<tspan dy="-7.6" font-size="9.4" font-weight="normal">3</tspan></text>
<text x="470.10" y="292.90" text-anchor="middle" font-family='"Liberation Serif", serif' font-weight="bold" class="e" font-size="13.0">λ=0.08167,γ=0.5,N=6.28</text>
<text x="475.90" y="530.80" text-anchor="middle" font-family='"Liberation Serif", serif' font-weight="bold" font-size="19.5">t</text>
<text x="468.70" y="550.30" text-anchor="middle" letter-spacing="0.7" font-family='"Liberation Serif", serif' font-size="16.0">(d)</text>
<text transform="translate(313.60 405.60) rotate(-90)" x="0" y="0" class="e2" font-family='"Liberation Serif", serif' font-size="14.0">β<tspan dy="6.2" font-size="10.5">1</tspan></text>
<path d="M504.20 310.00 H523.80" fill="none" stroke="#000" stroke-width="1.70" stroke-dasharray="4.6 2.8" stroke-linejoin="round"/>
<text x="524.70" y="314.30" font-family='"Liberation Serif", serif' font-weight="bold" class="e" font-size="13.0">Pe=0.0001</text>
<path d="M504.20 322.80 H520.10" fill="none" stroke="#000" stroke-width="1.70" stroke-dasharray="5 2 1.2 2" stroke-linejoin="round"/>
<text x="523.80" y="327.10" font-family='"Liberation Serif", serif' font-weight="bold" class="e" font-size="13.0">Pe=0.0005</text>
<path d="M504.20 335.60 H522.80" fill="none" stroke="#000" stroke-width="1.70" stroke-dasharray="1.2 1.8" stroke-linejoin="round"/>
<text x="526.50" y="339.90" font-family='"Liberation Serif", serif' font-weight="bold" class="e" font-size="13.0">Pe=0.005</text>
<path d="M505.50 346.50 H524.30" fill="none" stroke="#000" stroke-width="1.70"  stroke-linejoin="round"/>
<text x="527.40" y="350.80" font-family='"Liberation Serif", serif' font-weight="bold" class="e" font-size="13.0">Pe=0.01</text>
<path d="M505.50 358.80 H524.70" fill="none" stroke="rgb(20,250,20)" stroke-width="1.70" stroke-dasharray="4.6 2.8" stroke-linejoin="round"/>
<text x="527.40" y="363.10" font-family='"Liberation Serif", serif' font-weight="bold" class="e" font-size="13.0">Pe =0.1</text>
<path d="M506.40 369.70 H525.60" fill="none" stroke="rgb(20,250,20)" stroke-width="1.70"  stroke-linejoin="round"/>
<text x="527.40" y="374.00" font-family='"Liberation Serif", serif' font-weight="bold" class="e" font-size="13.0">Pe =1.0</text>
<clipPath id="c4"><rect x="34.00" y="576.00" width="251.40" height="200.50"/></clipPath>
<g clip-path="url(#c4)">
<path d="M34.00 696.30 L35.00 695.91 L36.00 695.28 L37.00 694.43 L38.00 693.44 L39.00 692.36 L40.00 691.23 L41.00 690.08 L42.00 688.93 L43.00 687.78 L44.00 686.63 L45.00 685.50 L46.00 684.37 L47.00 683.25 L48.00 682.12 L49.00 681.00 L50.00 679.88 L51.00 678.77 L52.00 677.65 L53.00 676.55 L54.00 675.44 L55.00 674.35 L56.00 673.27 L57.00 672.19 L58.00 671.13 L59.00 670.08 L60.00 669.04 L61.00 668.00 L62.00 666.98 L63.00 665.96 L64.00 664.95 L65.00 663.95 L66.00 662.96 L67.00 661.98 L68.00 661.00 L69.00 660.03 L70.00 659.06 L71.00 658.11 L72.00 657.15 L73.00 656.21 L74.00 655.27 L75.00 654.33 L76.00 653.40 L77.00 652.49 L78.00 651.58 L79.00 650.68 L80.00 649.79 L81.00 648.92 L82.00 648.06 L83.00 647.22 L84.00 646.39 L85.00 645.58 L86.00 644.79 L87.00 644.02 L88.00 643.25 L89.00 642.50 L90.00 641.76 L91.00 641.02 L92.00 640.29 L93.00 639.57 L94.00 638.85 L95.00 638.13 L96.00 637.41 L97.00 636.70 L98.00 635.99 L99.00 635.30 L100.00 634.63 L101.00 633.99 L102.00 633.39 L103.00 632.82 L104.00 632.27 L105.00 631.74 L106.00 631.22 L107.00 630.72 L108.00 630.23 L109.00 629.76 L110.00 629.30 L111.00 628.86 L112.00 628.44 L113.00 628.04 L114.00 627.65 L115.00 627.27 L116.00 626.90 L117.00 626.55 L118.00 626.21 L119.00 625.87 L120.00 625.55 L121.00 625.23 L122.00 624.93 L123.00 624.63 L124.00 624.35 L125.00 624.09 L126.00 623.84 L127.00 623.60 L128.00 623.38 L129.00 623.17 L130.00 622.97 L131.00 622.79 L132.00 622.62 L133.00 622.46 L134.00 622.33 L135.00 622.22 L136.00 622.13 L137.00 622.07 L138.00 622.05 L139.00 622.07 L140.00 622.15 L141.00 622.28 L142.00 622.47 L143.00 622.72 L144.00 623.03 L145.00 623.39 L146.00 623.79 L147.00 624.24 L148.00 624.76 L149.00 625.33 L150.00 625.95 L151.00 626.58 L152.00 627.20 L153.00 627.80 L154.00 628.36 L155.00 628.90 L156.00 629.41 L157.00 629.91 L158.00 630.39 L159.00 630.87 L160.00 631.33 L161.00 631.77 L162.00 632.21 L163.00 632.63 L164.00 633.03 L165.00 633.41 L166.00 633.77 L167.00 634.10 L168.00 634.40 L169.00 634.69 L170.00 634.95 L171.00 635.18 L172.00 635.38 L173.00 635.55 L174.00 635.65 L175.00 635.67 L176.00 635.56 L177.00 635.29 L178.00 634.89 L179.00 634.37 L180.00 633.81 L181.00 633.29 L182.00 632.84 L183.00 632.45 L184.00 632.13 L185.00 631.83 L186.00 631.54 L187.00 631.26 L188.00 630.96 L189.00 630.65 L190.00 630.33 L191.00 630.00 L192.00 629.69 L193.00 629.39 L194.00 629.14 L195.00 628.92 L196.00 628.73 L197.00 628.57 L198.00 628.43 L199.00 628.30 L200.00 628.19 L201.00 628.10 L202.00 628.03 L203.00 627.97 L204.00 627.92 L205.00 627.90 L206.00 627.88 L207.00 627.88 L208.00 627.89 L209.00 627.92 L210.00 627.96 L211.00 628.01 L212.00 628.07 L213.00 628.15 L214.00 628.24 L215.00 628.34 L216.00 628.46 L217.00 628.60 L218.00 628.75 L219.00 628.91 L220.00 629.08 L221.00 629.25 L222.00 629.42 L223.00 629.59 L224.00 629.75 L225.00 629.90 L226.00 630.04 L227.00 630.16 L228.00 630.27 L229.00 630.36 L230.00 630.43 L231.00 630.49 L232.00 630.54 L233.00 630.58 L234.00 630.61 L235.00 630.64 L236.00 630.65 L237.00 630.67 L238.00 630.68 L239.00 630.68 L240.00 630.69 L241.00 630.70 L242.00 630.70 L243.00 630.70 L244.00 630.69 L245.00 630.67 L246.00 630.65 L247.00 630.63 L248.00 630.61 L249.00 630.59 L250.00 630.57 L251.00 630.55 L252.00 630.53 L253.00 630.52 L254.00 630.51 L255.00 630.50 L256.00 630.49 L257.00 630.48 L258.00 630.47 L259.00 630.47 L260.00 630.46 L261.00 630.45 L262.00 630.44 L263.00 630.44 L264.00 630.43 L265.00 630.42 L266.00 630.42 L267.00 630.41 L268.00 630.41 L269.00 630.40 L270.00 630.39 L271.00 630.39 L272.00 630.38 L273.00 630.37 L274.00 630.37 L275.00 630.36 L276.00 630.36 L277.00 630.35 L278.00 630.34 L279.00 630.34 L280.00 630.33 L281.00 630.33 L282.00 630.32 L283.00 630.31 L284.00 630.31 L285.00 630.31 L285.40 630.30" fill="none" stroke="#000" stroke-width="2.00" stroke-dasharray="4.6 2.8" stroke-linejoin="round"/>
<path d="M34.00 698.10 L35.00 697.91 L36.00 697.54 L37.00 696.99 L38.00 696.29 L39.00 695.51 L40.00 694.68 L41.00 693.82 L42.00 692.95 L43.00 692.08 L44.00 691.20 L45.00 690.32 L46.00 689.43 L47.00 688.55 L48.00 687.66 L49.00 686.77 L50.00 685.87 L51.00 684.97 L52.00 684.07 L53.00 683.17 L54.00 682.27 L55.00 681.37 L56.00 680.47 L57.00 679.57 L58.00 678.67 L59.00 677.77 L60.00 676.86 L61.00 675.95 L62.00 675.05 L63.00 674.13 L64.00 673.23 L65.00 672.32 L66.00 671.41 L67.00 670.52 L68.00 669.63 L69.00 668.74 L70.00 667.87 L71.00 667.01 L72.00 666.16 L73.00 665.31 L74.00 664.47 L75.00 663.64 L76.00 662.81 L77.00 661.99 L78.00 661.18 L79.00 660.38 L80.00 659.58 L81.00 658.80 L82.00 658.03 L83.00 657.27 L84.00 656.52 L85.00 655.78 L86.00 655.06 L87.00 654.35 L88.00 653.65 L89.00 652.95 L90.00 652.27 L91.00 651.59 L92.00 650.91 L93.00 650.23 L94.00 649.56 L95.00 648.88 L96.00 648.20 L97.00 647.52 L98.00 646.83 L99.00 646.15 L100.00 645.47 L101.00 644.81 L102.00 644.15 L103.00 643.50 L104.00 642.85 L105.00 642.19 L106.00 641.54 L107.00 640.89 L108.00 640.26 L109.00 639.63 L110.00 639.03 L111.00 638.45 L112.00 637.90 L113.00 637.38 L114.00 636.89 L115.00 636.42 L116.00 635.96 L117.00 635.53 L118.00 635.11 L119.00 634.70 L120.00 634.30 L121.00 633.92 L122.00 633.54 L123.00 633.16 L124.00 632.80 L125.00 632.44 L126.00 632.08 L127.00 631.73 L128.00 631.39 L129.00 631.06 L130.00 630.73 L131.00 630.41 L132.00 630.10 L133.00 629.80 L134.00 629.50 L135.00 629.21 L136.00 628.92 L137.00 628.64 L138.00 628.38 L139.00 628.11 L140.00 627.86 L141.00 627.63 L142.00 627.40 L143.00 627.19 L144.00 626.98 L145.00 626.79 L146.00 626.61 L147.00 626.44 L148.00 626.28 L149.00 626.12 L150.00 625.96 L151.00 625.81 L152.00 625.67 L153.00 625.54 L154.00 625.43 L155.00 625.36 L156.00 625.33 L157.00 625.35 L158.00 625.41 L159.00 625.51 L160.00 625.66 L161.00 625.85 L162.00 626.11 L163.00 626.42 L164.00 626.81 L165.00 627.26 L166.00 627.78 L167.00 628.36 L168.00 629.00 L169.00 629.70 L170.00 630.47 L171.00 631.34 L172.00 632.31 L173.00 633.35 L174.00 634.41 L175.00 635.46 L176.00 636.49 L177.00 637.50 L178.00 638.47 L179.00 639.39 L180.00 640.24 L181.00 641.01 L182.00 641.71 L183.00 642.36 L184.00 642.95 L185.00 643.47 L186.00 643.90 L187.00 644.20 L188.00 644.37 L189.00 644.40 L190.00 644.30 L191.00 644.09 L192.00 643.78 L193.00 643.39 L194.00 642.95 L195.00 642.47 L196.00 641.96 L197.00 641.42 L198.00 640.87 L199.00 640.31 L200.00 639.74 L201.00 639.17 L202.00 638.59 L203.00 637.99 L204.00 637.36 L205.00 636.71 L206.00 636.04 L207.00 635.36 L208.00 634.69 L209.00 634.04 L210.00 633.42 L211.00 632.84 L212.00 632.30 L213.00 631.81 L214.00 631.36 L215.00 630.93 L216.00 630.55 L217.00 630.20 L218.00 629.91 L219.00 629.67 L220.00 629.51 L221.00 629.45 L222.00 629.51 L223.00 629.72 L224.00 630.07 L225.00 630.54 L226.00 631.06 L227.00 631.60 L228.00 632.11 L229.00 632.59 L230.00 633.06 L231.00 633.52 L232.00 633.97 L233.00 634.42 L234.00 634.85 L235.00 635.27 L236.00 635.66 L237.00 636.03 L238.00 636.38 L239.00 636.70 L240.00 637.01 L241.00 637.30 L242.00 637.57 L243.00 637.84 L244.00 638.08 L245.00 638.31 L246.00 638.52 L247.00 638.70 L248.00 638.85 L249.00 638.96 L250.00 639.01 L251.00 639.00 L252.00 638.93 L253.00 638.82 L254.00 638.67 L255.00 638.49 L256.00 638.28 L257.00 638.04 L258.00 637.78 L259.00 637.53 L260.00 637.28 L261.00 637.06 L262.00 636.87 L263.00 636.71 L264.00 636.57 L265.00 636.46 L266.00 636.36 L267.00 636.27 L268.00 636.19 L269.00 636.12 L270.00 636.05 L271.00 635.98 L272.00 635.92 L273.00 635.86 L274.00 635.80 L275.00 635.75 L276.00 635.69 L277.00 635.64 L278.00 635.59 L279.00 635.54 L280.00 635.48 L281.00 635.43 L282.00 635.38 L283.00 635.33 L284.00 635.28 L285.00 635.25 L285.40 635.23" fill="none" stroke="#000" stroke-width="2.00" stroke-dasharray="5 2 1.2 2" stroke-linejoin="round"/>
<path d="M34.00 710.61 L35.00 710.18 L36.00 709.62 L37.00 708.98 L38.00 708.31 L39.00 707.64 L40.00 706.96 L41.00 706.28 L42.00 705.60 L43.00 704.90 L44.00 704.20 L45.00 703.49 L46.00 702.77 L47.00 702.03 L48.00 701.29 L49.00 700.53 L50.00 699.77 L51.00 699.01 L52.00 698.24 L53.00 697.48 L54.00 696.72 L55.00 695.96 L56.00 695.21 L57.00 694.46 L58.00 693.73 L59.00 693.00 L60.00 692.28 L61.00 691.56 L62.00 690.85 L63.00 690.14 L64.00 689.44 L65.00 688.74 L66.00 688.05 L67.00 687.37 L68.00 686.69 L69.00 686.02 L70.00 685.36 L71.00 684.71 L72.00 684.06 L73.00 683.42 L74.00 682.79 L75.00 682.16 L76.00 681.55 L77.00 680.93 L78.00 680.33 L79.00 679.74 L80.00 679.15 L81.00 678.57 L82.00 678.00 L83.00 677.44 L84.00 676.90 L85.00 676.36 L86.00 675.84 L87.00 675.32 L88.00 674.82 L89.00 674.33 L90.00 673.84 L91.00 673.35 L92.00 672.87 L93.00 672.39 L94.00 671.91 L95.00 671.43 L96.00 670.95 L97.00 670.48 L98.00 670.02 L99.00 669.56 L100.00 669.10 L101.00 668.62 L102.00 668.10 L103.00 667.55 L104.00 666.95 L105.00 666.32 L106.00 665.66 L107.00 664.99 L108.00 664.32 L109.00 663.66 L110.00 663.02 L111.00 662.41 L112.00 661.84 L113.00 661.30 L114.00 660.79 L115.00 660.31 L116.00 659.85 L117.00 659.42 L118.00 659.00 L119.00 658.59 L120.00 658.19 L121.00 657.81 L122.00 657.43 L123.00 657.06 L124.00 656.69 L125.00 656.34 L126.00 655.98 L127.00 655.64 L128.00 655.30 L129.00 654.97 L130.00 654.64 L131.00 654.33 L132.00 654.02 L133.00 653.72 L134.00 653.43 L135.00 653.14 L136.00 652.86 L137.00 652.58 L138.00 652.30 L139.00 652.02 L140.00 651.75 L141.00 651.47 L142.00 651.20 L143.00 650.93 L144.00 650.67 L145.00 650.40 L146.00 650.15 L147.00 649.89 L148.00 649.65 L149.00 649.41 L150.00 649.18 L151.00 648.95 L152.00 648.74 L153.00 648.53 L154.00 648.33 L155.00 648.15 L156.00 647.97 L157.00 647.79 L158.00 647.63 L159.00 647.47 L160.00 647.32 L161.00 647.17 L162.00 647.03 L163.00 646.90 L164.00 646.77 L165.00 646.65 L166.00 646.54 L167.00 646.44 L168.00 646.34 L169.00 646.25 L170.00 646.18 L171.00 646.13 L172.00 646.11 L173.00 646.12 L174.00 646.16 L175.00 646.25 L176.00 646.38 L177.00 646.57 L178.00 646.81 L179.00 647.12 L180.00 647.51 L181.00 647.98 L182.00 648.53 L183.00 649.17 L184.00 649.88 L185.00 650.66 L186.00 651.49 L187.00 652.37 L188.00 653.29 L189.00 654.27 L190.00 655.30 L191.00 656.37 L192.00 657.42 L193.00 658.40 L194.00 659.29 L195.00 660.08 L196.00 660.78 L197.00 661.42 L198.00 662.00 L199.00 662.54 L200.00 663.00 L201.00 663.39 L202.00 663.68 L203.00 663.87 L204.00 663.96 L205.00 663.93 L206.00 663.79 L207.00 663.57 L208.00 663.27 L209.00 662.90 L210.00 662.49 L211.00 662.04 L212.00 661.55 L213.00 661.04 L214.00 660.49 L215.00 659.88 L216.00 659.19 L217.00 658.40 L218.00 657.54 L219.00 656.68 L220.00 655.87 L221.00 655.17 L222.00 654.58 L223.00 654.07 L224.00 653.62 L225.00 653.22 L226.00 652.87 L227.00 652.57 L228.00 652.33 L229.00 652.14 L230.00 652.03 L231.00 651.98 L232.00 652.01 L233.00 652.11 L234.00 652.27 L235.00 652.47 L236.00 652.71 L237.00 652.97 L238.00 653.24 L239.00 653.51 L240.00 653.78 L241.00 654.04 L242.00 654.31 L243.00 654.60 L244.00 654.92 L245.00 655.25 L246.00 655.58 L247.00 655.89 L248.00 656.17 L249.00 656.42 L250.00 656.63 L251.00 656.80 L252.00 656.94 L253.00 657.05 L254.00 657.14 L255.00 657.20 L256.00 657.24 L257.00 657.27 L258.00 657.28 L259.00 657.29 L260.00 657.29 L261.00 657.28 L262.00 657.27 L263.00 657.25 L264.00 657.23 L265.00 657.21 L266.00 657.19 L267.00 657.16 L268.00 657.13 L269.00 657.10 L270.00 657.07 L271.00 657.04 L272.00 657.00 L273.00 656.97 L274.00 656.93 L275.00 656.89 L276.00 656.85 L277.00 656.81 L278.00 656.77 L279.00 656.73 L280.00 656.69 L281.00 656.65 L282.00 656.62 L283.00 656.58 L284.00 656.55 L285.00 656.53 L285.40 656.52" fill="none" stroke="#000" stroke-width="2.00" stroke-dasharray="1.2 1.8" stroke-linejoin="round"/>
<path d="M34.00 733.44 L35.00 733.17 L36.00 732.81 L37.00 732.40 L38.00 731.97 L39.00 731.54 L40.00 731.12 L41.00 730.69 L42.00 730.26 L43.00 729.84 L44.00 729.42 L45.00 729.00 L46.00 728.59 L47.00 728.17 L48.00 727.76 L49.00 727.35 L50.00 726.94 L51.00 726.52 L52.00 726.12 L53.00 725.71 L54.00 725.30 L55.00 724.90 L56.00 724.49 L57.00 724.09 L58.00 723.69 L59.00 723.30 L60.00 722.90 L61.00 722.51 L62.00 722.12 L63.00 721.73 L64.00 721.34 L65.00 720.96 L66.00 720.57 L67.00 720.19 L68.00 719.81 L69.00 719.43 L70.00 719.06 L71.00 718.68 L72.00 718.31 L73.00 717.94 L74.00 717.57 L75.00 717.20 L76.00 716.84 L77.00 716.47 L78.00 716.11 L79.00 715.75 L80.00 715.39 L81.00 715.03 L82.00 714.67 L83.00 714.32 L84.00 713.97 L85.00 713.62 L86.00 713.27 L87.00 712.92 L88.00 712.58 L89.00 712.24 L90.00 711.90 L91.00 711.57 L92.00 711.23 L93.00 710.90 L94.00 710.57 L95.00 710.25 L96.00 709.92 L97.00 709.60 L98.00 709.28 L99.00 708.96 L100.00 708.65 L101.00 708.33 L102.00 708.02 L103.00 707.71 L104.00 707.41 L105.00 707.10 L106.00 706.80 L107.00 706.50 L108.00 706.20 L109.00 705.90 L110.00 705.61 L111.00 705.32 L112.00 705.03 L113.00 704.74 L114.00 704.46 L115.00 704.17 L116.00 703.89 L117.00 703.62 L118.00 703.34 L119.00 703.07 L120.00 702.80 L121.00 702.54 L122.00 702.28 L123.00 702.02 L124.00 701.76 L125.00 701.50 L126.00 701.25 L127.00 701.00 L128.00 700.75 L129.00 700.51 L130.00 700.27 L131.00 700.03 L132.00 699.79 L133.00 699.56 L134.00 699.33 L135.00 699.10 L136.00 698.88 L137.00 698.65 L138.00 698.43 L139.00 698.21 L140.00 698.00 L141.00 697.79 L142.00 697.58 L143.00 697.37 L144.00 697.16 L145.00 696.96 L146.00 696.76 L147.00 696.57 L148.00 696.38 L149.00 696.19 L150.00 696.00 L151.00 695.82 L152.00 695.64 L153.00 695.47 L154.00 695.29 L155.00 695.12 L156.00 694.95 L157.00 694.79 L158.00 694.63 L159.00 694.47 L160.00 694.32 L161.00 694.17 L162.00 694.02 L163.00 693.88 L164.00 693.74 L165.00 693.61 L166.00 693.48 L167.00 693.35 L168.00 693.23 L169.00 693.12 L170.00 693.01 L171.00 692.90 L172.00 692.80 L173.00 692.70 L174.00 692.60 L175.00 692.50 L176.00 692.40 L177.00 692.30 L178.00 692.20 L179.00 692.10 L180.00 692.00 L181.00 691.90 L182.00 691.79 L183.00 691.69 L184.00 691.59 L185.00 691.49 L186.00 691.39 L187.00 691.29 L188.00 691.19 L189.00 691.10 L190.00 691.00 L191.00 690.91 L192.00 690.82 L193.00 690.72 L194.00 690.64 L195.00 690.55 L196.00 690.46 L197.00 690.38 L198.00 690.29 L199.00 690.21 L200.00 690.16 L201.00 690.19 L202.00 690.38 L203.00 690.77 L204.00 691.41 L205.00 692.28 L206.00 693.40 L207.00 694.71 L208.00 696.16 L209.00 697.72 L210.00 699.32 L211.00 700.93 L212.00 702.50 L213.00 704.00 L214.00 705.41 L215.00 706.66 L216.00 707.70 L217.00 708.49 L218.00 709.05 L219.00 709.37 L220.00 709.46 L221.00 709.37 L222.00 709.11 L223.00 708.73 L224.00 708.25 L225.00 707.70 L226.00 707.08 L227.00 706.40 L228.00 705.70 L229.00 704.99 L230.00 704.29 L231.00 703.62 L232.00 702.98 L233.00 702.39 L234.00 701.86 L235.00 701.41 L236.00 701.03 L237.00 700.76 L238.00 700.58 L239.00 700.49 L240.00 700.48 L241.00 700.53 L242.00 700.62 L243.00 700.75 L244.00 700.90 L245.00 701.05 L246.00 701.20 L247.00 701.35 L248.00 701.49 L249.00 701.61 L250.00 701.72 L251.00 701.81 L252.00 701.90 L253.00 701.97 L254.00 702.03 L255.00 702.08 L256.00 702.12 L257.00 702.15 L258.00 702.17 L259.00 702.19 L260.00 702.20 L261.00 702.20 L262.00 702.20 L263.00 702.20 L264.00 702.20 L265.00 702.20 L266.00 702.19 L267.00 702.19 L268.00 702.18 L269.00 702.17 L270.00 702.16 L271.00 702.15 L272.00 702.14 L273.00 702.13 L274.00 702.12 L275.00 702.11 L276.00 702.10 L277.00 702.09 L278.00 702.08 L279.00 702.07 L280.00 702.06 L281.00 702.05 L282.00 702.04 L283.00 702.02 L284.00 702.02 L285.00 702.01 L285.40 702.01" fill="none" stroke="#000" stroke-width="2.00"  stroke-linejoin="round"/>
</g>
<path d="M46.61 776.50 V774.30 M46.61 576.00 V578.20 M53.99 776.50 V774.30 M53.99 576.00 V578.20 M59.23 776.50 V774.30 M59.23 576.00 V578.20 M63.29 776.50 V774.30 M63.29 576.00 V578.20 M66.60 776.50 V774.30 M66.60 576.00 V578.20 M69.41 776.50 V774.30 M69.41 576.00 V578.20 M71.84 776.50 V774.30 M71.84 576.00 V578.20 M73.98 776.50 V774.30 M73.98 576.00 V578.20 M75.90 776.50 V774.30 M75.90 576.00 V578.20 M88.51 776.50 V774.30 M88.51 576.00 V578.20 M95.89 776.50 V774.30 M95.89 576.00 V578.20 M101.13 776.50 V774.30 M101.13 576.00 V578.20 M105.19 776.50 V774.30 M105.19 576.00 V578.20 M108.50 776.50 V774.30 M108.50 576.00 V578.20 M111.31 776.50 V774.30 M111.31 576.00 V578.20 M113.74 776.50 V774.30 M113.74 576.00 V578.20 M115.88 776.50 V774.30 M115.88 576.00 V578.20 M117.80 776.50 V774.30 M117.80 576.00 V578.20 M130.41 776.50 V774.30 M130.41 576.00 V578.20 M137.79 776.50 V774.30 M137.79 576.00 V578.20 M143.03 776.50 V774.30 M143.03 576.00 V578.20 M147.09 776.50 V774.30 M147.09 576.00 V578.20 M150.40 776.50 V774.30 M150.40 576.00 V578.20 M153.21 776.50 V774.30 M153.21 576.00 V578.20 M155.64 776.50 V774.30 M155.64 576.00 V578.20 M157.78 776.50 V774.30 M157.78 576.00 V578.20 M159.70 776.50 V774.30 M159.70 576.00 V578.20 M172.31 776.50 V774.30 M172.31 576.00 V578.20 M179.69 776.50 V774.30 M179.69 576.00 V578.20 M184.93 776.50 V774.30 M184.93 576.00 V578.20 M188.99 776.50 V774.30 M188.99 576.00 V578.20 M192.30 776.50 V774.30 M192.30 576.00 V578.20 M195.11 776.50 V774.30 M195.11 576.00 V578.20 M197.54 776.50 V774.30 M197.54 576.00 V578.20 M199.68 776.50 V774.30 M199.68 576.00 V578.20 M201.60 776.50 V774.30 M201.60 576.00 V578.20 M214.21 776.50 V774.30 M214.21 576.00 V578.20 M221.59 776.50 V774.30 M221.59 576.00 V578.20 M226.83 776.50 V774.30 M226.83 576.00 V578.20 M230.89 776.50 V774.30 M230.89 576.00 V578.20 M234.20 776.50 V774.30 M234.20 576.00 V578.20 M237.01 776.50 V774.30 M237.01 576.00 V578.20 M239.44 776.50 V774.30 M239.44 576.00 V578.20 M241.58 776.50 V774.30 M241.58 576.00 V578.20 M243.50 776.50 V774.30 M243.50 576.00 V578.20 M256.11 776.50 V774.30 M256.11 576.00 V578.20 M263.49 776.50 V774.30 M263.49 576.00 V578.20 M268.73 776.50 V774.30 M268.73 576.00 V578.20 M272.79 776.50 V774.30 M272.79 576.00 V578.20 M276.10 776.50 V774.30 M276.10 576.00 V578.20 M278.91 776.50 V774.30 M278.91 576.00 V578.20 M281.34 776.50 V774.30 M281.34 576.00 V578.20 M283.48 776.50 V774.30 M283.48 576.00 V578.20" stroke="#000" stroke-width="1.2" fill="none"/>
<path d="M34.00 776.50 H37.00 M285.40 776.50 H282.40 M34.00 736.40 H37.00 M285.40 736.40 H282.40 M34.00 696.30 H37.00 M285.40 696.30 H282.40 M34.00 656.20 H37.00 M285.40 656.20 H282.40 M34.00 616.10 H37.00 M285.40 616.10 H282.40 M34.00 576.00 H37.00 M285.40 576.00 H282.40" stroke="#000" stroke-width="1.5" fill="none"/>
<rect x="34.00" y="576.00" width="251.40" height="200.50" fill="none" stroke="#000" stroke-width="2.00"/>
<text transform="translate(32.40 781.40) scale(0.970 1)" text-anchor="end" font-family='"Liberation Serif", serif' font-weight="bold" class="e" font-size="13.2">0</text>
<text transform="translate(32.40 741.30) scale(0.970 1)" text-anchor="end" font-family='"Liberation Serif", serif' font-weight="bold" class="e" font-size="13.2">0.2</text>
<text transform="translate(32.40 701.20) scale(0.970 1)" text-anchor="end" font-family='"Liberation Serif", serif' font-weight="bold" class="e" font-size="13.2">0.4</text>
<text transform="translate(32.40 661.10) scale(0.970 1)" text-anchor="end" font-family='"Liberation Serif", serif' font-weight="bold" class="e" font-size="13.2">0.6</text>
<text transform="translate(32.40 621.00) scale(0.970 1)" text-anchor="end" font-family='"Liberation Serif", serif' font-weight="bold" class="e" font-size="13.2">0.8</text>
<text transform="translate(32.40 580.90) scale(0.970 1)" text-anchor="end" font-family='"Liberation Serif", serif' font-weight="bold" class="e" font-size="13.2">1</text>
<text transform="translate(34.00 795.30) scale(0.970 1)" text-anchor="middle" font-family='"Liberation Serif", serif' font-weight="bold" class="e" font-size="13.2">10<tspan dy="-7.6" font-size="9.4" font-weight="normal">−3</tspan></text>
<text transform="translate(75.90 795.30) scale(0.970 1)" text-anchor="middle" font-family='"Liberation Serif", serif' font-weight="bold" class="e" font-size="13.2">10<tspan dy="-7.6" font-size="9.4" font-weight="normal">−2</tspan></text>
<text transform="translate(117.80 795.30) scale(0.970 1)" text-anchor="middle" font-family='"Liberation Serif", serif' font-weight="bold" class="e" font-size="13.2">10<tspan dy="-7.6" font-size="9.4" font-weight="normal">−1</tspan></text>
<text transform="translate(159.70 795.30) scale(0.970 1)" text-anchor="middle" font-family='"Liberation Serif", serif' font-weight="bold" class="e" font-size="13.2">10<tspan dy="-7.6" font-size="9.4" font-weight="normal">0</tspan></text>
<text transform="translate(201.60 795.30) scale(0.970 1)" text-anchor="middle" font-family='"Liberation Serif", serif' font-weight="bold" class="e" font-size="13.2">10<tspan dy="-7.6" font-size="9.4" font-weight="normal">1</tspan></text>
<text transform="translate(243.50 795.30) scale(0.970 1)" text-anchor="middle" font-family='"Liberation Serif", serif' font-weight="bold" class="e" font-size="13.2">10<tspan dy="-7.6" font-size="9.4" font-weight="normal">2</tspan></text>
<text transform="translate(285.40 795.30) scale(0.970 1)" text-anchor="middle" font-family='"Liberation Serif", serif' font-weight="bold" class="e" font-size="13.2">10<tspan dy="-7.6" font-size="9.4" font-weight="normal">3</tspan></text>
<text x="159.90" y="573.50" text-anchor="middle" font-family='"Liberation Serif", serif' font-weight="bold" class="e" font-size="13.0">N=6.28, Pe=0.01</text>
<text x="160.50" y="811.80" text-anchor="middle" font-family='"Liberation Serif", serif' font-weight="bold" font-size="19.5">t</text>
<text x="158.50" y="827.00" text-anchor="middle" letter-spacing="0.7" font-family='"Liberation Serif", serif' font-size="16.0">(e)</text>
<text transform="translate(8.90 683.00) rotate(-90)" x="0" y="0" class="e2" font-family='"Liberation Serif", serif' font-size="14.0">s<tspan dy="6.2" font-size="10.5">2</tspan></text>
<path d="M214.90 724.00 H233.60" fill="none" stroke="#000" stroke-width="1.70" stroke-dasharray="4.6 2.8" stroke-linejoin="round"/>
<text x="234.00" y="728.00" font-family='"Liberation Serif", serif' font-weight="bold" class="e" font-size="13.0">point−a</text>
<path d="M214.90 733.70 H232.10" fill="none" stroke="#000" stroke-width="1.70" stroke-dasharray="5 2 1.2 2" stroke-linejoin="round"/>
<text x="235.80" y="737.70" font-family='"Liberation Serif", serif' font-weight="bold" class="e" font-size="13.0">point−b</text>
<path d="M214.90 744.10 H233.60" fill="none" stroke="#000" stroke-width="1.70" stroke-dasharray="1.2 1.8" stroke-linejoin="round"/>
<text x="234.00" y="748.10" font-family='"Liberation Serif", serif' font-weight="bold" class="e" font-size="13.0">point−c</text>
<path d="M214.90 755.00 H233.60" fill="none" stroke="#000" stroke-width="1.70"  stroke-linejoin="round"/>
<text x="235.50" y="759.00" font-family='"Liberation Serif", serif' font-weight="bold" class="e" font-size="13.0">point−d</text>
<clipPath id="c5"><rect x="343.10" y="574.90" width="250.30" height="201.90"/></clipPath>
<g clip-path="url(#c5)">
<path d="M343.10 690.56 L344.10 689.88 L345.10 688.98 L346.10 687.96 L347.10 686.89 L348.10 685.82 L349.10 684.74 L350.10 683.65 L351.10 682.56 L352.10 681.46 L353.10 680.35 L354.10 679.24 L355.10 678.11 L356.10 676.97 L357.10 675.83 L358.10 674.68 L359.10 673.52 L360.10 672.36 L361.10 671.19 L362.10 670.03 L363.10 668.86 L364.10 667.70 L365.10 666.55 L366.10 665.40 L367.10 664.25 L368.10 663.11 L369.10 661.98 L370.10 660.84 L371.10 659.71 L372.10 658.58 L373.10 657.45 L374.10 656.32 L375.10 655.20 L376.10 654.08 L377.10 652.98 L378.10 651.88 L379.10 650.79 L380.10 649.72 L381.10 648.67 L382.10 647.64 L383.10 646.63 L384.10 645.63 L385.10 644.66 L386.10 643.71 L387.10 642.77 L388.10 641.86 L389.10 640.95 L390.10 640.06 L391.10 639.17 L392.10 638.30 L393.10 637.43 L394.10 636.56 L395.10 635.70 L396.10 634.84 L397.10 633.99 L398.10 633.13 L399.10 632.27 L400.10 631.42 L401.10 630.57 L402.10 629.72 L403.10 628.89 L404.10 628.06 L405.10 627.25 L406.10 626.45 L407.10 625.66 L408.10 624.89 L409.10 624.14 L410.10 623.39 L411.10 622.66 L412.10 621.95 L413.10 621.25 L414.10 620.57 L415.10 619.92 L416.10 619.30 L417.10 618.72 L418.10 618.16 L419.10 617.63 L420.10 617.12 L421.10 616.64 L422.10 616.17 L423.10 615.72 L424.10 615.27 L425.10 614.84 L426.10 614.43 L427.10 614.02 L428.10 613.63 L429.10 613.24 L430.10 612.88 L431.10 612.52 L432.10 612.18 L433.10 611.87 L434.10 611.57 L435.10 611.30 L436.10 611.06 L437.10 610.84 L438.10 610.64 L439.10 610.47 L440.10 610.32 L441.10 610.18 L442.10 610.07 L443.10 609.98 L444.10 609.90 L445.10 609.83 L446.10 609.78 L447.10 609.76 L448.10 609.80 L449.10 609.98 L450.10 610.35 L451.10 610.96 L452.10 611.83 L453.10 612.94 L454.10 614.25 L455.10 615.70 L456.10 617.24 L457.10 618.83 L458.10 620.46 L459.10 622.13 L460.10 623.86 L461.10 625.66 L462.10 627.59 L463.10 629.68 L464.10 631.88 L465.10 634.05 L466.10 636.08 L467.10 637.94 L468.10 639.68 L469.10 641.31 L470.10 642.85 L471.10 644.28 L472.10 645.60 L473.10 646.81 L474.10 647.92 L475.10 648.94 L476.10 649.88 L477.10 650.71 L478.10 651.43 L479.10 651.98 L480.10 652.33 L481.10 652.47 L482.10 652.42 L483.10 652.21 L484.10 651.87 L485.10 651.45 L486.10 650.96 L487.10 650.40 L488.10 649.77 L489.10 649.07 L490.10 648.28 L491.10 647.40 L492.10 646.47 L493.10 645.48 L494.10 644.45 L495.10 643.39 L496.10 642.29 L497.10 641.18 L498.10 640.07 L499.10 638.99 L500.10 637.95 L501.10 636.95 L502.10 635.99 L503.10 635.08 L504.10 634.23 L505.10 633.45 L506.10 632.75 L507.10 632.12 L508.10 631.56 L509.10 631.07 L510.10 630.63 L511.10 630.25 L512.10 629.93 L513.10 629.65 L514.10 629.44 L515.10 629.30 L516.10 629.25 L517.10 629.28 L518.10 629.38 L519.10 629.55 L520.10 629.76 L521.10 630.01 L522.10 630.29 L523.10 630.59 L524.10 630.90 L525.10 631.22 L526.10 631.57 L527.10 631.93 L528.10 632.31 L529.10 632.71 L530.10 633.10 L531.10 633.49 L532.10 633.86 L533.10 634.19 L534.10 634.50 L535.10 634.78 L536.10 635.04 L537.10 635.29 L538.10 635.52 L539.10 635.73 L540.10 635.91 L541.10 636.07 L542.10 636.20 L543.10 636.31 L544.10 636.39 L545.10 636.45 L546.10 636.48 L547.10 636.49 L548.10 636.47 L549.10 636.44 L550.10 636.40 L551.10 636.34 L552.10 636.27 L553.10 636.20 L554.10 636.12 L555.10 636.05 L556.10 635.97 L557.10 635.89 L558.10 635.82 L559.10 635.76 L560.10 635.70 L561.10 635.64 L562.10 635.59 L563.10 635.55 L564.10 635.52 L565.10 635.49 L566.10 635.47 L567.10 635.45 L568.10 635.43 L569.10 635.42 L570.10 635.41 L571.10 635.40 L572.10 635.39 L573.10 635.38 L574.10 635.37 L575.10 635.36 L576.10 635.36 L577.10 635.35 L578.10 635.35 L579.10 635.34 L580.10 635.34 L581.10 635.33 L582.10 635.33 L583.10 635.33 L584.10 635.33 L585.10 635.32 L586.10 635.32 L587.10 635.32 L588.10 635.32 L589.10 635.31 L590.10 635.31 L591.10 635.31 L592.10 635.31 L593.10 635.30 L593.40 635.30" fill="none" stroke="#000" stroke-width="2.00" stroke-dasharray="4.6 2.8" stroke-linejoin="round"/>
<path d="M343.10 712.53 L344.10 712.03 L345.10 711.36 L346.10 710.61 L347.10 709.82 L348.10 709.03 L349.10 708.24 L350.10 707.46 L351.10 706.68 L352.10 705.91 L353.10 705.16 L354.10 704.41 L355.10 703.67 L356.10 702.94 L357.10 702.23 L358.10 701.51 L359.10 700.81 L360.10 700.11 L361.10 699.41 L362.10 698.72 L363.10 698.02 L364.10 697.33 L365.10 696.64 L366.10 695.94 L367.10 695.25 L368.10 694.56 L369.10 693.86 L370.10 693.16 L371.10 692.46 L372.10 691.75 L373.10 691.05 L374.10 690.34 L375.10 689.64 L376.10 688.94 L377.10 688.24 L378.10 687.54 L379.10 686.85 L380.10 686.15 L381.10 685.47 L382.10 684.79 L383.10 684.11 L384.10 683.44 L385.10 682.77 L386.10 682.11 L387.10 681.45 L388.10 680.80 L389.10 680.15 L390.10 679.50 L391.10 678.85 L392.10 678.21 L393.10 677.57 L394.10 676.93 L395.10 676.29 L396.10 675.65 L397.10 675.01 L398.10 674.38 L399.10 673.74 L400.10 673.11 L401.10 672.48 L402.10 671.86 L403.10 671.24 L404.10 670.62 L405.10 670.00 L406.10 669.37 L407.10 668.75 L408.10 668.12 L409.10 667.47 L410.10 666.82 L411.10 666.14 L412.10 665.45 L413.10 664.74 L414.10 664.04 L415.10 663.36 L416.10 662.70 L417.10 662.08 L418.10 661.49 L419.10 660.95 L420.10 660.43 L421.10 659.95 L422.10 659.49 L423.10 659.05 L424.10 658.62 L425.10 658.21 L426.10 657.81 L427.10 657.42 L428.10 657.04 L429.10 656.67 L430.10 656.31 L431.10 655.95 L432.10 655.61 L433.10 655.27 L434.10 654.94 L435.10 654.63 L436.10 654.32 L437.10 654.01 L438.10 653.72 L439.10 653.44 L440.10 653.17 L441.10 652.90 L442.10 652.65 L443.10 652.41 L444.10 652.18 L445.10 651.96 L446.10 651.75 L447.10 651.55 L448.10 651.37 L449.10 651.20 L450.10 651.04 L451.10 650.90 L452.10 650.76 L453.10 650.64 L454.10 650.53 L455.10 650.43 L456.10 650.33 L457.10 650.24 L458.10 650.17 L459.10 650.09 L460.10 650.03 L461.10 649.98 L462.10 649.94 L463.10 649.93 L464.10 649.94 L465.10 650.01 L466.10 650.15 L467.10 650.38 L468.10 650.73 L469.10 651.22 L470.10 651.87 L471.10 652.71 L472.10 653.71 L473.10 654.85 L474.10 656.10 L475.10 657.50 L476.10 659.07 L477.10 660.82 L478.10 662.73 L479.10 664.77 L480.10 666.90 L481.10 669.07 L482.10 671.27 L483.10 673.49 L484.10 675.74 L485.10 677.99 L486.10 680.20 L487.10 682.34 L488.10 684.36 L489.10 686.25 L490.10 688.03 L491.10 689.70 L492.10 691.22 L493.10 692.59 L494.10 693.76 L495.10 694.72 L496.10 695.43 L497.10 695.88 L498.10 696.07 L499.10 696.03 L500.10 695.78 L501.10 695.36 L502.10 694.75 L503.10 693.98 L504.10 693.02 L505.10 691.89 L506.10 690.59 L507.10 689.16 L508.10 687.63 L509.10 686.04 L510.10 684.41 L511.10 682.76 L512.10 681.07 L513.10 679.35 L514.10 677.61 L515.10 675.88 L516.10 674.22 L517.10 672.68 L518.10 671.31 L519.10 670.12 L520.10 669.10 L521.10 668.23 L522.10 667.48 L523.10 666.82 L524.10 666.24 L525.10 665.73 L526.10 665.32 L527.10 665.02 L528.10 664.89 L529.10 664.92 L530.10 665.14 L531.10 665.54 L532.10 666.07 L533.10 666.71 L534.10 667.39 L535.10 668.09 L536.10 668.79 L537.10 669.48 L538.10 670.14 L539.10 670.77 L540.10 671.34 L541.10 671.89 L542.10 672.42 L543.10 672.95 L544.10 673.49 L545.10 674.04 L546.10 674.58 L547.10 675.11 L548.10 675.62 L549.10 676.12 L550.10 676.59 L551.10 677.03 L552.10 677.43 L553.10 677.80 L554.10 678.13 L555.10 678.40 L556.10 678.62 L557.10 678.78 L558.10 678.87 L559.10 678.90 L560.10 678.87 L561.10 678.78 L562.10 678.65 L563.10 678.49 L564.10 678.29 L565.10 678.07 L566.10 677.82 L567.10 677.57 L568.10 677.30 L569.10 677.04 L570.10 676.77 L571.10 676.51 L572.10 676.27 L573.10 676.05 L574.10 675.85 L575.10 675.67 L576.10 675.53 L577.10 675.42 L578.10 675.32 L579.10 675.24 L580.10 675.18 L581.10 675.12 L582.10 675.07 L583.10 675.03 L584.10 674.99 L585.10 674.96 L586.10 674.94 L587.10 674.92 L588.10 674.90 L589.10 674.88 L590.10 674.87 L591.10 674.85 L592.10 674.83 L593.10 674.82 L593.40 674.81" fill="none" stroke="#000" stroke-width="2.00" stroke-dasharray="5 2 1.2 2" stroke-linejoin="round"/>
<path d="M343.10 740.63 L344.10 740.45 L345.10 740.21 L346.10 739.95 L347.10 739.67 L348.10 739.38 L349.10 739.10 L350.10 738.81 L351.10 738.51 L352.10 738.21 L353.10 737.91 L354.10 737.60 L355.10 737.28 L356.10 736.96 L357.10 736.62 L358.10 736.28 L359.10 735.94 L360.10 735.59 L361.10 735.23 L362.10 734.87 L363.10 734.51 L364.10 734.14 L365.10 733.77 L366.10 733.40 L367.10 733.02 L368.10 732.65 L369.10 732.27 L370.10 731.89 L371.10 731.51 L372.10 731.12 L373.10 730.73 L374.10 730.34 L375.10 729.95 L376.10 729.55 L377.10 729.14 L378.10 728.74 L379.10 728.32 L380.10 727.91 L381.10 727.50 L382.10 727.08 L383.10 726.67 L384.10 726.26 L385.10 725.85 L386.10 725.44 L387.10 725.04 L388.10 724.65 L389.10 724.26 L390.10 723.87 L391.10 723.49 L392.10 723.12 L393.10 722.75 L394.10 722.38 L395.10 722.02 L396.10 721.65 L397.10 721.30 L398.10 720.94 L399.10 720.59 L400.10 720.25 L401.10 719.90 L402.10 719.57 L403.10 719.23 L404.10 718.90 L405.10 718.57 L406.10 718.25 L407.10 717.93 L408.10 717.61 L409.10 717.30 L410.10 716.99 L411.10 716.68 L412.10 716.38 L413.10 716.08 L414.10 715.79 L415.10 715.50 L416.10 715.22 L417.10 714.95 L418.10 714.68 L419.10 714.41 L420.10 714.15 L421.10 713.90 L422.10 713.65 L423.10 713.41 L424.10 713.17 L425.10 712.94 L426.10 712.71 L427.10 712.49 L428.10 712.28 L429.10 712.06 L430.10 711.86 L431.10 711.65 L432.10 711.45 L433.10 711.26 L434.10 711.07 L435.10 710.88 L436.10 710.70 L437.10 710.52 L438.10 710.35 L439.10 710.18 L440.10 710.02 L441.10 709.86 L442.10 709.70 L443.10 709.55 L444.10 709.40 L445.10 709.26 L446.10 709.11 L447.10 708.98 L448.10 708.84 L449.10 708.71 L450.10 708.59 L451.10 708.46 L452.10 708.34 L453.10 708.22 L454.10 708.11 L455.10 708.00 L456.10 707.90 L457.10 707.80 L458.10 707.70 L459.10 707.61 L460.10 707.52 L461.10 707.44 L462.10 707.36 L463.10 707.29 L464.10 707.23 L465.10 707.16 L466.10 707.11 L467.10 707.05 L468.10 707.00 L469.10 706.96 L470.10 706.91 L471.10 706.87 L472.10 706.83 L473.10 706.79 L474.10 706.75 L475.10 706.71 L476.10 706.67 L477.10 706.63 L478.10 706.59 L479.10 706.54 L480.10 706.48 L481.10 706.40 L482.10 706.31 L483.10 706.21 L484.10 706.09 L485.10 705.98 L486.10 705.89 L487.10 705.85 L488.10 705.90 L489.10 706.10 L490.10 706.51 L491.10 707.21 L492.10 708.21 L493.10 709.46 L494.10 710.90 L495.10 712.51 L496.10 714.27 L497.10 716.17 L498.10 718.21 L499.10 720.34 L500.10 722.49 L501.10 724.62 L502.10 726.69 L503.10 728.69 L504.10 730.60 L505.10 732.39 L506.10 734.05 L507.10 735.59 L508.10 737.02 L509.10 738.35 L510.10 739.53 L511.10 740.52 L512.10 741.24 L513.10 741.65 L514.10 741.72 L515.10 741.45 L516.10 740.91 L517.10 740.14 L518.10 739.21 L519.10 738.17 L520.10 737.03 L521.10 735.78 L522.10 734.42 L523.10 732.98 L524.10 731.51 L525.10 730.07 L526.10 728.69 L527.10 727.38 L528.10 726.14 L529.10 724.96 L530.10 723.84 L531.10 722.80 L532.10 721.86 L533.10 721.03 L534.10 720.31 L535.10 719.69 L536.10 719.19 L537.10 718.80 L538.10 718.53 L539.10 718.39 L540.10 718.40 L541.10 718.56 L542.10 718.86 L543.10 719.27 L544.10 719.74 L545.10 720.26 L546.10 720.80 L547.10 721.36 L548.10 721.94 L549.10 722.53 L550.10 723.15 L551.10 723.76 L552.10 724.36 L553.10 724.95 L554.10 725.52 L555.10 726.08 L556.10 726.63 L557.10 727.13 L558.10 727.58 L559.10 727.98 L560.10 728.33 L561.10 728.61 L562.10 728.82 L563.10 728.95 L564.10 728.99 L565.10 728.98 L566.10 728.94 L567.10 728.88 L568.10 728.80 L569.10 728.71 L570.10 728.61 L571.10 728.51 L572.10 728.40 L573.10 728.29 L574.10 728.18 L575.10 728.06 L576.10 727.95 L577.10 727.83 L578.10 727.71 L579.10 727.58 L580.10 727.46 L581.10 727.34 L582.10 727.21 L583.10 727.09 L584.10 726.96 L585.10 726.84 L586.10 726.71 L587.10 726.59 L588.10 726.46 L589.10 726.33 L590.10 726.21 L591.10 726.09 L592.10 725.98 L593.10 725.89 L593.40 725.86" fill="none" stroke="#000" stroke-width="2.00" stroke-dasharray="1.2 1.8" stroke-linejoin="round"/>
<path d="M343.10 751.35 L344.10 751.19 L345.10 750.98 L346.10 750.74 L347.10 750.49 L348.10 750.24 L349.10 749.99 L350.10 749.74 L351.10 749.49 L352.10 749.23 L353.10 748.98 L354.10 748.73 L355.10 748.48 L356.10 748.23 L357.10 747.97 L358.10 747.72 L359.10 747.47 L360.10 747.21 L361.10 746.96 L362.10 746.71 L363.10 746.45 L364.10 746.20 L365.10 745.94 L366.10 745.69 L367.10 745.44 L368.10 745.18 L369.10 744.93 L370.10 744.68 L371.10 744.43 L372.10 744.18 L373.10 743.92 L374.10 743.67 L375.10 743.42 L376.10 743.17 L377.10 742.91 L378.10 742.66 L379.10 742.40 L380.10 742.15 L381.10 741.89 L382.10 741.64 L383.10 741.39 L384.10 741.14 L385.10 740.90 L386.10 740.65 L387.10 740.42 L388.10 740.18 L389.10 739.95 L390.10 739.73 L391.10 739.51 L392.10 739.29 L393.10 739.09 L394.10 738.88 L395.10 738.68 L396.10 738.48 L397.10 738.28 L398.10 738.09 L399.10 737.89 L400.10 737.70 L401.10 737.51 L402.10 737.32 L403.10 737.12 L404.10 736.93 L405.10 736.73 L406.10 736.54 L407.10 736.34 L408.10 736.14 L409.10 735.93 L410.10 735.73 L411.10 735.52 L412.10 735.31 L413.10 735.11 L414.10 734.90 L415.10 734.70 L416.10 734.50 L417.10 734.30 L418.10 734.10 L419.10 733.91 L420.10 733.71 L421.10 733.53 L422.10 733.35 L423.10 733.17 L424.10 733.00 L425.10 732.82 L426.10 732.66 L427.10 732.49 L428.10 732.33 L429.10 732.17 L430.10 732.02 L431.10 731.86 L432.10 731.71 L433.10 731.57 L434.10 731.43 L435.10 731.29 L436.10 731.15 L437.10 731.01 L438.10 730.88 L439.10 730.75 L440.10 730.63 L441.10 730.50 L442.10 730.38 L443.10 730.26 L444.10 730.14 L445.10 730.03 L446.10 729.91 L447.10 729.80 L448.10 729.69 L449.10 729.58 L450.10 729.47 L451.10 729.37 L452.10 729.26 L453.10 729.16 L454.10 729.06 L455.10 728.96 L456.10 728.86 L457.10 728.77 L458.10 728.67 L459.10 728.58 L460.10 728.49 L461.10 728.41 L462.10 728.32 L463.10 728.24 L464.10 728.16 L465.10 728.08 L466.10 728.01 L467.10 727.93 L468.10 727.86 L469.10 727.79 L470.10 727.72 L471.10 727.65 L472.10 727.58 L473.10 727.52 L474.10 727.46 L475.10 727.39 L476.10 727.33 L477.10 727.27 L478.10 727.21 L479.10 727.15 L480.10 727.10 L481.10 727.04 L482.10 726.99 L483.10 726.94 L484.10 726.90 L485.10 726.86 L486.10 726.82 L487.10 726.78 L488.10 726.75 L489.10 726.72 L490.10 726.69 L491.10 726.66 L492.10 726.64 L493.10 726.61 L494.10 726.57 L495.10 726.54 L496.10 726.51 L497.10 726.48 L498.10 726.45 L499.10 726.42 L500.10 726.39 L501.10 726.37 L502.10 726.34 L503.10 726.31 L504.10 726.29 L505.10 726.26 L506.10 726.24 L507.10 726.23 L508.10 726.22 L509.10 726.25 L510.10 726.38 L511.10 726.69 L512.10 727.26 L513.10 728.12 L514.10 729.27 L515.10 730.69 L516.10 732.30 L517.10 734.03 L518.10 735.79 L519.10 737.53 L520.10 739.22 L521.10 740.84 L522.10 742.40 L523.10 743.88 L524.10 745.25 L525.10 746.44 L526.10 747.39 L527.10 748.03 L528.10 748.34 L529.10 748.35 L530.10 748.12 L531.10 747.73 L532.10 747.22 L533.10 746.62 L534.10 745.97 L535.10 745.26 L536.10 744.53 L537.10 743.81 L538.10 743.13 L539.10 742.52 L540.10 741.99 L541.10 741.54 L542.10 741.17 L543.10 740.88 L544.10 740.68 L545.10 740.54 L546.10 740.46 L547.10 740.44 L548.10 740.46 L549.10 740.52 L550.10 740.60 L551.10 740.69 L552.10 740.79 L553.10 740.88 L554.10 740.96 L555.10 741.03 L556.10 741.09 L557.10 741.13 L558.10 741.16 L559.10 741.18 L560.10 741.20 L561.10 741.21 L562.10 741.21 L563.10 741.21 L564.10 741.21 L565.10 741.21 L566.10 741.20 L567.10 741.20 L568.10 741.19 L569.10 741.18 L570.10 741.17 L571.10 741.17 L572.10 741.16 L573.10 741.15 L574.10 741.14 L575.10 741.12 L576.10 741.11 L577.10 741.10 L578.10 741.09 L579.10 741.08 L580.10 741.07 L581.10 741.05 L582.10 741.04 L583.10 741.03 L584.10 741.02 L585.10 741.00 L586.10 740.99 L587.10 740.98 L588.10 740.96 L589.10 740.95 L590.10 740.94 L591.10 740.93 L592.10 740.92 L593.10 740.91 L593.40 740.91" fill="none" stroke="#000" stroke-width="2.00"  stroke-linejoin="round"/>
</g>
<path d="M355.66 776.80 V774.60 M355.66 574.90 V577.10 M363.00 776.80 V774.60 M363.00 574.90 V577.10 M368.22 776.80 V774.60 M368.22 574.90 V577.10 M372.26 776.80 V774.60 M372.26 574.90 V577.10 M375.56 776.80 V774.60 M375.56 574.90 V577.10 M378.35 776.80 V774.60 M378.35 574.90 V577.10 M380.77 776.80 V774.60 M380.77 574.90 V577.10 M382.91 776.80 V774.60 M382.91 574.90 V577.10 M384.82 776.80 V774.60 M384.82 574.90 V577.10 M397.37 776.80 V774.60 M397.37 574.90 V577.10 M404.72 776.80 V774.60 M404.72 574.90 V577.10 M409.93 776.80 V774.60 M409.93 574.90 V577.10 M413.98 776.80 V774.60 M413.98 574.90 V577.10 M417.28 776.80 V774.60 M417.28 574.90 V577.10 M420.07 776.80 V774.60 M420.07 574.90 V577.10 M422.49 776.80 V774.60 M422.49 574.90 V577.10 M424.62 776.80 V774.60 M424.62 574.90 V577.10 M426.53 776.80 V774.60 M426.53 574.90 V577.10 M439.09 776.80 V774.60 M439.09 574.90 V577.10 M446.44 776.80 V774.60 M446.44 574.90 V577.10 M451.65 776.80 V774.60 M451.65 574.90 V577.10 M455.69 776.80 V774.60 M455.69 574.90 V577.10 M459.00 776.80 V774.60 M459.00 574.90 V577.10 M461.79 776.80 V774.60 M461.79 574.90 V577.10 M464.21 776.80 V774.60 M464.21 574.90 V577.10 M466.34 776.80 V774.60 M466.34 574.90 V577.10 M468.25 776.80 V774.60 M468.25 574.90 V577.10 M480.81 776.80 V774.60 M480.81 574.90 V577.10 M488.15 776.80 V774.60 M488.15 574.90 V577.10 M493.37 776.80 V774.60 M493.37 574.90 V577.10 M497.41 776.80 V774.60 M497.41 574.90 V577.10 M500.71 776.80 V774.60 M500.71 574.90 V577.10 M503.50 776.80 V774.60 M503.50 574.90 V577.10 M505.92 776.80 V774.60 M505.92 574.90 V577.10 M508.06 776.80 V774.60 M508.06 574.90 V577.10 M509.97 776.80 V774.60 M509.97 574.90 V577.10 M522.52 776.80 V774.60 M522.52 574.90 V577.10 M529.87 776.80 V774.60 M529.87 574.90 V577.10 M535.08 776.80 V774.60 M535.08 574.90 V577.10 M539.13 776.80 V774.60 M539.13 574.90 V577.10 M542.43 776.80 V774.60 M542.43 574.90 V577.10 M545.22 776.80 V774.60 M545.22 574.90 V577.10 M547.64 776.80 V774.60 M547.64 574.90 V577.10 M549.77 776.80 V774.60 M549.77 574.90 V577.10 M551.68 776.80 V774.60 M551.68 574.90 V577.10 M564.24 776.80 V774.60 M564.24 574.90 V577.10 M571.59 776.80 V774.60 M571.59 574.90 V577.10 M576.80 776.80 V774.60 M576.80 574.90 V577.10 M580.84 776.80 V774.60 M580.84 574.90 V577.10 M584.15 776.80 V774.60 M584.15 574.90 V577.10 M586.94 776.80 V774.60 M586.94 574.90 V577.10 M589.36 776.80 V774.60 M589.36 574.90 V577.10 M591.49 776.80 V774.60 M591.49 574.90 V577.10" stroke="#000" stroke-width="1.2" fill="none"/>
<path d="M343.10 776.80 H346.10 M593.40 776.80 H590.40 M343.10 736.42 H346.10 M593.40 736.42 H590.40 M343.10 696.04 H346.10 M593.40 696.04 H590.40 M343.10 655.66 H346.10 M593.40 655.66 H590.40 M343.10 615.28 H346.10 M593.40 615.28 H590.40 M343.10 574.90 H346.10 M593.40 574.90 H590.40" stroke="#000" stroke-width="1.5" fill="none"/>
<rect x="343.10" y="574.90" width="250.30" height="201.90" fill="none" stroke="#000" stroke-width="2.00"/>
<text transform="translate(341.50 781.70) scale(0.970 1)" text-anchor="end" font-family='"Liberation Serif", serif' font-weight="bold" class="e" font-size="13.2">0</text>
<text transform="translate(341.50 741.32) scale(0.970 1)" text-anchor="end" font-family='"Liberation Serif", serif' font-weight="bold" class="e" font-size="13.2">0.08</text>
<text transform="translate(341.50 700.94) scale(0.970 1)" text-anchor="end" font-family='"Liberation Serif", serif' font-weight="bold" class="e" font-size="13.2">0.16</text>
<text transform="translate(341.50 660.56) scale(0.970 1)" text-anchor="end" font-family='"Liberation Serif", serif' font-weight="bold" class="e" font-size="13.2">0.24</text>
<text transform="translate(341.50 620.18) scale(0.970 1)" text-anchor="end" font-family='"Liberation Serif", serif' font-weight="bold" class="e" font-size="13.2">0.32</text>
<text transform="translate(341.50 579.80) scale(0.970 1)" text-anchor="end" font-family='"Liberation Serif", serif' font-weight="bold" class="e" font-size="13.2">0.4</text>
<text transform="translate(343.10 795.60) scale(0.970 1)" text-anchor="middle" font-family='"Liberation Serif", serif' font-weight="bold" class="e" font-size="13.2">10<tspan dy="-7.6" font-size="9.4" font-weight="normal">−3</tspan></text>
<text transform="translate(384.82 795.60) scale(0.970 1)" text-anchor="middle" font-family='"Liberation Serif", serif' font-weight="bold" class="e" font-size="13.2">10<tspan dy="-7.6" font-size="9.4" font-weight="normal">−2</tspan></text>
<text transform="translate(426.53 795.60) scale(0.970 1)" text-anchor="middle" font-family='"Liberation Serif", serif' font-weight="bold" class="e" font-size="13.2">10<tspan dy="-7.6" font-size="9.4" font-weight="normal">−1</tspan></text>
<text transform="translate(468.25 795.60) scale(0.970 1)" text-anchor="middle" font-family='"Liberation Serif", serif' font-weight="bold" class="e" font-size="13.2">10<tspan dy="-7.6" font-size="9.4" font-weight="normal">0</tspan></text>
<text transform="translate(509.97 795.60) scale(0.970 1)" text-anchor="middle" font-family='"Liberation Serif", serif' font-weight="bold" class="e" font-size="13.2">10<tspan dy="-7.6" font-size="9.4" font-weight="normal">1</tspan></text>
<text transform="translate(551.68 795.60) scale(0.970 1)" text-anchor="middle" font-family='"Liberation Serif", serif' font-weight="bold" class="e" font-size="13.2">10<tspan dy="-7.6" font-size="9.4" font-weight="normal">2</tspan></text>
<text transform="translate(593.40 795.60) scale(0.970 1)" text-anchor="middle" font-family='"Liberation Serif", serif' font-weight="bold" class="e" font-size="13.2">10<tspan dy="-7.6" font-size="9.4" font-weight="normal">3</tspan></text>
<text x="469.70" y="571.50" text-anchor="middle" font-family='"Liberation Serif", serif' font-weight="bold" class="e" font-size="13.0">N=6.28, Pe=0.01</text>
<text x="470.50" y="811.30" text-anchor="middle" font-family='"Liberation Serif", serif' font-weight="bold" font-size="19.5">t</text>
<text x="466.60" y="827.00" text-anchor="middle" letter-spacing="0.7" font-family='"Liberation Serif", serif' font-size="16.0">(f)</text>
<text transform="translate(309.90 682.60) rotate(-90)" x="0" y="0" class="e2" font-family='"Liberation Serif", serif' font-size="14.0">β<tspan dy="6.2" font-size="10.5">1</tspan></text>
<path d="M345.80 581.60 H366.50" fill="none" stroke="#000" stroke-width="1.70" stroke-dasharray="4.6 2.8" stroke-linejoin="round"/>
<text x="366.90" y="585.60" font-family='"Liberation Serif", serif' font-weight="bold" class="e" font-size="13.0">point−a</text>
<path d="M345.80 590.70 H363.20" fill="none" stroke="#000" stroke-width="1.70" stroke-dasharray="5 2 1.2 2" stroke-linejoin="round"/>
<text x="367.40" y="594.70" font-family='"Liberation Serif", serif' font-weight="bold" class="e" font-size="13.0">point−b</text>
<path d="M345.80 599.90 H364.90" fill="none" stroke="#000" stroke-width="1.70" stroke-dasharray="1.2 1.8" stroke-linejoin="round"/>
<text x="366.90" y="603.90" font-family='"Liberation Serif", serif' font-weight="bold" class="e" font-size="13.0">point−c</text>
<path d="M345.80 609.50 H365.70" fill="none" stroke="#000" stroke-width="1.70"  stroke-linejoin="round"/>
<text x="366.20" y="613.50" font-family='"Liberation Serif", serif' font-weight="bold" class="e" font-size="13.0">point−d</text>
</svg></body></html>
